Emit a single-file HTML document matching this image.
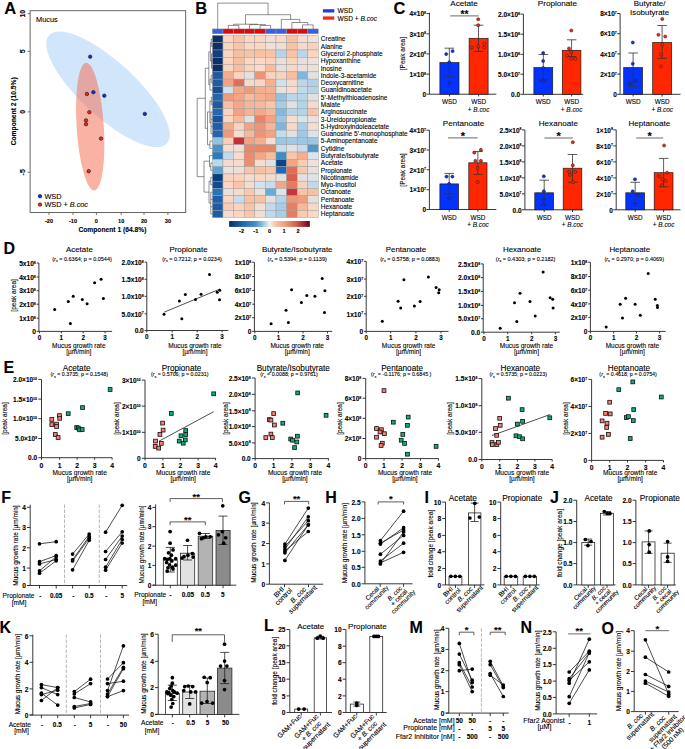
<!DOCTYPE html>
<html><head><meta charset="utf-8"><style>
html,body{margin:0;padding:0;background:#fff;}
svg{display:block;font-family:"Liberation Sans",sans-serif;}
text{stroke:#000;stroke-width:0.1px;}
</style></head><body>
<svg width="685" height="749" viewBox="0 0 685 749">
<defs>
<linearGradient id="rdbu" x1="0" x2="1" y1="0" y2="0">
<stop offset="0" stop-color="#053061"/><stop offset="0.17" stop-color="#2166ac"/><stop offset="0.33" stop-color="#4393c3"/>
<stop offset="0.42" stop-color="#92c5de"/><stop offset="0.5" stop-color="#f2f2f2"/><stop offset="0.58" stop-color="#f4c1a6"/>
<stop offset="0.67" stop-color="#f4a582"/><stop offset="0.83" stop-color="#d6604d"/><stop offset="1" stop-color="#67001f"/>
</linearGradient>
<clipPath id="clipB"><rect x="300" y="30" width="92" height="200"/></clipPath>
</defs>
<rect width="685" height="749" fill="#fff"/>
<text x="4.2" y="14.2" font-size="16.5" font-weight="bold">A</text>
<ellipse cx="108" cy="89.3" rx="80" ry="27.5" fill="#d2e6fb" transform="rotate(42.6 108 89.3)"/>
<ellipse cx="90.2" cy="126.7" rx="13.6" ry="64" fill="rgb(246,102,76)" fill-opacity="0.5" transform="rotate(-3.7 90.2 126.7)"/>
<rect x="30.1" y="10.7" width="155.6" height="201.8" fill="none" stroke="#555" stroke-width="0.9"/>
<line x1="27.6" y1="13.7" x2="30.1" y2="13.7" stroke="#555" stroke-width="0.8"/>
<text x="25.32" y="13.7" font-size="7" text-anchor="middle" font-weight="bold" transform="rotate(-90 25.32 13.7)">10</text>
<line x1="27.6" y1="51.4" x2="30.1" y2="51.4" stroke="#555" stroke-width="0.8"/>
<text x="25.32" y="51.4" font-size="7" text-anchor="middle" font-weight="bold" transform="rotate(-90 25.32 51.4)">5</text>
<line x1="27.6" y1="111.8" x2="30.1" y2="111.8" stroke="#555" stroke-width="0.8"/>
<text x="25.32" y="111.8" font-size="7" text-anchor="middle" font-weight="bold" transform="rotate(-90 25.32 111.8)">0</text>
<line x1="27.6" y1="172.3" x2="30.1" y2="172.3" stroke="#555" stroke-width="0.8"/>
<text x="25.32" y="172.3" font-size="7" text-anchor="middle" font-weight="bold" transform="rotate(-90 25.32 172.3)">-5</text>
<line x1="49" y1="212.5" x2="49" y2="215" stroke="#555" stroke-width="0.8"/>
<text x="49" y="223" font-size="5.6" text-anchor="middle" font-weight="bold">-20</text>
<line x1="73" y1="212.5" x2="73" y2="215" stroke="#555" stroke-width="0.8"/>
<text x="73" y="223" font-size="5.6" text-anchor="middle" font-weight="bold">-10</text>
<line x1="96.4" y1="212.5" x2="96.4" y2="215" stroke="#555" stroke-width="0.8"/>
<text x="96.4" y="223" font-size="5.6" text-anchor="middle" font-weight="bold">0</text>
<line x1="121.2" y1="212.5" x2="121.2" y2="215" stroke="#555" stroke-width="0.8"/>
<text x="121.2" y="223" font-size="5.6" text-anchor="middle" font-weight="bold">10</text>
<line x1="144" y1="212.5" x2="144" y2="215" stroke="#555" stroke-width="0.8"/>
<text x="144" y="223" font-size="5.6" text-anchor="middle" font-weight="bold">20</text>
<line x1="167.9" y1="212.5" x2="167.9" y2="215" stroke="#555" stroke-width="0.8"/>
<text x="167.9" y="223" font-size="5.6" text-anchor="middle" font-weight="bold">30</text>
<text x="112.4" y="232" font-size="6.7" text-anchor="middle" font-weight="bold">Component 1 (64.8%)</text>
<text x="16.21" y="111.3" font-size="6.7" text-anchor="middle" font-weight="bold" transform="rotate(-90 16.21 111.3)">Component 2 (10.5%)</text>
<text x="36" y="21.7" font-size="7.4">Mucus</text>
<circle cx="90.2" cy="56.7" r="1.75" fill="#1030e6" stroke="#111" stroke-width="0.6"/>
<circle cx="93.4" cy="92.2" r="1.75" fill="#1030e6" stroke="#111" stroke-width="0.6"/>
<circle cx="104.3" cy="95.7" r="1.75" fill="#1030e6" stroke="#111" stroke-width="0.6"/>
<circle cx="144.8" cy="113.9" r="1.75" fill="#1030e6" stroke="#111" stroke-width="0.6"/>
<circle cx="86.9" cy="94" r="1.75" fill="#ee2a16" stroke="#111" stroke-width="0.6"/>
<circle cx="89.3" cy="112.2" r="1.75" fill="#ee2a16" stroke="#111" stroke-width="0.6"/>
<circle cx="86" cy="120.4" r="1.75" fill="#ee2a16" stroke="#111" stroke-width="0.6"/>
<circle cx="86" cy="124.2" r="1.75" fill="#ee2a16" stroke="#111" stroke-width="0.6"/>
<circle cx="101" cy="138.6" r="1.75" fill="#ee2a16" stroke="#111" stroke-width="0.6"/>
<circle cx="88.7" cy="171.2" r="1.75" fill="#ee2a16" stroke="#111" stroke-width="0.6"/>
<circle cx="40" cy="196.2" r="1.75" fill="#1030e6" stroke="#111" stroke-width="0.6"/>
<circle cx="40" cy="204.6" r="1.75" fill="#ee2a16" stroke="#111" stroke-width="0.6"/>
<text x="44.4" y="198.8" font-size="7.3">WSD</text>
<text x="44.4" y="207.2" font-size="7.3">WSD + <tspan font-style="italic">B.coc</tspan></text>
<text x="195.3" y="14.2" font-size="16.5" font-weight="bold">B</text>
<rect x="212.4" y="28.9" width="10.6" height="4.9" fill="#3b5ee0" stroke="#9a9a9a" stroke-width="0.4"/>
<rect x="223" y="28.9" width="10.6" height="4.9" fill="#d90b0e" stroke="#9a9a9a" stroke-width="0.4"/>
<rect x="233.6" y="28.9" width="10.6" height="4.9" fill="#d90b0e" stroke="#9a9a9a" stroke-width="0.4"/>
<rect x="244.2" y="28.9" width="10.6" height="4.9" fill="#d90b0e" stroke="#9a9a9a" stroke-width="0.4"/>
<rect x="254.8" y="28.9" width="10.6" height="4.9" fill="#d90b0e" stroke="#9a9a9a" stroke-width="0.4"/>
<rect x="265.4" y="28.9" width="10.6" height="4.9" fill="#3b5ee0" stroke="#9a9a9a" stroke-width="0.4"/>
<rect x="276" y="28.9" width="10.6" height="4.9" fill="#3b5ee0" stroke="#9a9a9a" stroke-width="0.4"/>
<rect x="286.6" y="28.9" width="10.6" height="4.9" fill="#d90b0e" stroke="#9a9a9a" stroke-width="0.4"/>
<rect x="297.2" y="28.9" width="10.6" height="4.9" fill="#d90b0e" stroke="#9a9a9a" stroke-width="0.4"/>
<rect x="307.8" y="28.9" width="10.6" height="4.9" fill="#3b5ee0" stroke="#9a9a9a" stroke-width="0.4"/>
<rect x="212.4" y="35.4" width="10.6" height="7.29" fill="#0b2f66" stroke="#9c9c9c" stroke-width="0.45"/>
<rect x="223" y="35.4" width="10.6" height="7.29" fill="#fbd5c0" stroke="#9c9c9c" stroke-width="0.45"/>
<rect x="233.6" y="35.4" width="10.6" height="7.29" fill="#f9c4a8" stroke="#9c9c9c" stroke-width="0.45"/>
<rect x="244.2" y="35.4" width="10.6" height="7.29" fill="#fcd8c4" stroke="#9c9c9c" stroke-width="0.45"/>
<rect x="254.8" y="35.4" width="10.6" height="7.29" fill="#fbd6c1" stroke="#9c9c9c" stroke-width="0.45"/>
<rect x="265.4" y="35.4" width="10.6" height="7.29" fill="#f2ddd4" stroke="#9c9c9c" stroke-width="0.45"/>
<rect x="276" y="35.4" width="10.6" height="7.29" fill="#f8dacb" stroke="#9c9c9c" stroke-width="0.45"/>
<rect x="286.6" y="35.4" width="10.6" height="7.29" fill="#f8c3a5" stroke="#9c9c9c" stroke-width="0.45"/>
<rect x="297.2" y="35.4" width="10.6" height="7.29" fill="#f5ddd0" stroke="#9c9c9c" stroke-width="0.45"/>
<rect x="307.8" y="35.4" width="10.6" height="7.29" fill="#f3e0d6" stroke="#9c9c9c" stroke-width="0.45"/>
<rect x="212.4" y="42.69" width="10.6" height="7.29" fill="#0b2f66" stroke="#9c9c9c" stroke-width="0.45"/>
<rect x="223" y="42.69" width="10.6" height="7.29" fill="#fbd5c0" stroke="#9c9c9c" stroke-width="0.45"/>
<rect x="233.6" y="42.69" width="10.6" height="7.29" fill="#f9c4a8" stroke="#9c9c9c" stroke-width="0.45"/>
<rect x="244.2" y="42.69" width="10.6" height="7.29" fill="#fcd8c4" stroke="#9c9c9c" stroke-width="0.45"/>
<rect x="254.8" y="42.69" width="10.6" height="7.29" fill="#fbd6c1" stroke="#9c9c9c" stroke-width="0.45"/>
<rect x="265.4" y="42.69" width="10.6" height="7.29" fill="#efe0d8" stroke="#9c9c9c" stroke-width="0.45"/>
<rect x="276" y="42.69" width="10.6" height="7.29" fill="#f0ddd4" stroke="#9c9c9c" stroke-width="0.45"/>
<rect x="286.6" y="42.69" width="10.6" height="7.29" fill="#f8c3a5" stroke="#9c9c9c" stroke-width="0.45"/>
<rect x="297.2" y="42.69" width="10.6" height="7.29" fill="#f3dbd0" stroke="#9c9c9c" stroke-width="0.45"/>
<rect x="307.8" y="42.69" width="10.6" height="7.29" fill="#f9d2bd" stroke="#9c9c9c" stroke-width="0.45"/>
<rect x="212.4" y="49.98" width="10.6" height="7.29" fill="#113f80" stroke="#9c9c9c" stroke-width="0.45"/>
<rect x="223" y="49.98" width="10.6" height="7.29" fill="#fbd5c0" stroke="#9c9c9c" stroke-width="0.45"/>
<rect x="233.6" y="49.98" width="10.6" height="7.29" fill="#f8bea0" stroke="#9c9c9c" stroke-width="0.45"/>
<rect x="244.2" y="49.98" width="10.6" height="7.29" fill="#f8c3a5" stroke="#9c9c9c" stroke-width="0.45"/>
<rect x="254.8" y="49.98" width="10.6" height="7.29" fill="#f8c3a5" stroke="#9c9c9c" stroke-width="0.45"/>
<rect x="265.4" y="49.98" width="10.6" height="7.29" fill="#f8c3a5" stroke="#9c9c9c" stroke-width="0.45"/>
<rect x="276" y="49.98" width="10.6" height="7.29" fill="#b5d4e8" stroke="#9c9c9c" stroke-width="0.45"/>
<rect x="286.6" y="49.98" width="10.6" height="7.29" fill="#f8c3a5" stroke="#9c9c9c" stroke-width="0.45"/>
<rect x="297.2" y="49.98" width="10.6" height="7.29" fill="#b9d6ea" stroke="#9c9c9c" stroke-width="0.45"/>
<rect x="307.8" y="49.98" width="10.6" height="7.29" fill="#fad5c0" stroke="#9c9c9c" stroke-width="0.45"/>
<rect x="212.4" y="57.27" width="10.6" height="7.29" fill="#0b2f66" stroke="#9c9c9c" stroke-width="0.45"/>
<rect x="223" y="57.27" width="10.6" height="7.29" fill="#fbd5c0" stroke="#9c9c9c" stroke-width="0.45"/>
<rect x="233.6" y="57.27" width="10.6" height="7.29" fill="#f8bea0" stroke="#9c9c9c" stroke-width="0.45"/>
<rect x="244.2" y="57.27" width="10.6" height="7.29" fill="#fcd8c4" stroke="#9c9c9c" stroke-width="0.45"/>
<rect x="254.8" y="57.27" width="10.6" height="7.29" fill="#fcd8c4" stroke="#9c9c9c" stroke-width="0.45"/>
<rect x="265.4" y="57.27" width="10.6" height="7.29" fill="#fad2bd" stroke="#9c9c9c" stroke-width="0.45"/>
<rect x="276" y="57.27" width="10.6" height="7.29" fill="#e6e1df" stroke="#9c9c9c" stroke-width="0.45"/>
<rect x="286.6" y="57.27" width="10.6" height="7.29" fill="#fad5c0" stroke="#9c9c9c" stroke-width="0.45"/>
<rect x="297.2" y="57.27" width="10.6" height="7.29" fill="#e5e0de" stroke="#9c9c9c" stroke-width="0.45"/>
<rect x="307.8" y="57.27" width="10.6" height="7.29" fill="#efe1da" stroke="#9c9c9c" stroke-width="0.45"/>
<rect x="212.4" y="64.56" width="10.6" height="7.29" fill="#0b2f66" stroke="#9c9c9c" stroke-width="0.45"/>
<rect x="223" y="64.56" width="10.6" height="7.29" fill="#fbd5c0" stroke="#9c9c9c" stroke-width="0.45"/>
<rect x="233.6" y="64.56" width="10.6" height="7.29" fill="#f8bea0" stroke="#9c9c9c" stroke-width="0.45"/>
<rect x="244.2" y="64.56" width="10.6" height="7.29" fill="#fbd3bd" stroke="#9c9c9c" stroke-width="0.45"/>
<rect x="254.8" y="64.56" width="10.6" height="7.29" fill="#fcdcc9" stroke="#9c9c9c" stroke-width="0.45"/>
<rect x="265.4" y="64.56" width="10.6" height="7.29" fill="#f8bb9c" stroke="#9c9c9c" stroke-width="0.45"/>
<rect x="276" y="64.56" width="10.6" height="7.29" fill="#e4e0df" stroke="#9c9c9c" stroke-width="0.45"/>
<rect x="286.6" y="64.56" width="10.6" height="7.29" fill="#f8d8c8" stroke="#9c9c9c" stroke-width="0.45"/>
<rect x="297.2" y="64.56" width="10.6" height="7.29" fill="#e6e1df" stroke="#9c9c9c" stroke-width="0.45"/>
<rect x="307.8" y="64.56" width="10.6" height="7.29" fill="#eee0d9" stroke="#9c9c9c" stroke-width="0.45"/>
<rect x="212.4" y="71.85" width="10.6" height="7.29" fill="#1d5aa0" stroke="#9c9c9c" stroke-width="0.45"/>
<rect x="223" y="71.85" width="10.6" height="7.29" fill="#f5ae8c" stroke="#9c9c9c" stroke-width="0.45"/>
<rect x="233.6" y="71.85" width="10.6" height="7.29" fill="#fbd3bd" stroke="#9c9c9c" stroke-width="0.45"/>
<rect x="244.2" y="71.85" width="10.6" height="7.29" fill="#e3e1e0" stroke="#9c9c9c" stroke-width="0.45"/>
<rect x="254.8" y="71.85" width="10.6" height="7.29" fill="#ee9474" stroke="#9c9c9c" stroke-width="0.45"/>
<rect x="265.4" y="71.85" width="10.6" height="7.29" fill="#fbd3bd" stroke="#9c9c9c" stroke-width="0.45"/>
<rect x="276" y="71.85" width="10.6" height="7.29" fill="#fad3be" stroke="#9c9c9c" stroke-width="0.45"/>
<rect x="286.6" y="71.85" width="10.6" height="7.29" fill="#f7bea1" stroke="#9c9c9c" stroke-width="0.45"/>
<rect x="297.2" y="71.85" width="10.6" height="7.29" fill="#7fb6dc" stroke="#9c9c9c" stroke-width="0.45"/>
<rect x="307.8" y="71.85" width="10.6" height="7.29" fill="#e4e1df" stroke="#9c9c9c" stroke-width="0.45"/>
<rect x="212.4" y="79.14" width="10.6" height="7.29" fill="#1f5ea5" stroke="#9c9c9c" stroke-width="0.45"/>
<rect x="223" y="79.14" width="10.6" height="7.29" fill="#f3a283" stroke="#9c9c9c" stroke-width="0.45"/>
<rect x="233.6" y="79.14" width="10.6" height="7.29" fill="#df6e58" stroke="#9c9c9c" stroke-width="0.45"/>
<rect x="244.2" y="79.14" width="10.6" height="7.29" fill="#f7d9c9" stroke="#9c9c9c" stroke-width="0.45"/>
<rect x="254.8" y="79.14" width="10.6" height="7.29" fill="#fad7c5" stroke="#9c9c9c" stroke-width="0.45"/>
<rect x="265.4" y="79.14" width="10.6" height="7.29" fill="#f5b090" stroke="#9c9c9c" stroke-width="0.45"/>
<rect x="276" y="79.14" width="10.6" height="7.29" fill="#cde2ef" stroke="#9c9c9c" stroke-width="0.45"/>
<rect x="286.6" y="79.14" width="10.6" height="7.29" fill="#f5dacc" stroke="#9c9c9c" stroke-width="0.45"/>
<rect x="297.2" y="79.14" width="10.6" height="7.29" fill="#bcd8ea" stroke="#9c9c9c" stroke-width="0.45"/>
<rect x="307.8" y="79.14" width="10.6" height="7.29" fill="#b0d2e8" stroke="#9c9c9c" stroke-width="0.45"/>
<rect x="212.4" y="86.43" width="10.6" height="7.29" fill="#1a4f95" stroke="#9c9c9c" stroke-width="0.45"/>
<rect x="223" y="86.43" width="10.6" height="7.29" fill="#cfe3ee" stroke="#9c9c9c" stroke-width="0.45"/>
<rect x="233.6" y="86.43" width="10.6" height="7.29" fill="#f4a888" stroke="#9c9c9c" stroke-width="0.45"/>
<rect x="244.2" y="86.43" width="10.6" height="7.29" fill="#f09a7a" stroke="#9c9c9c" stroke-width="0.45"/>
<rect x="254.8" y="86.43" width="10.6" height="7.29" fill="#f5ae8e" stroke="#9c9c9c" stroke-width="0.45"/>
<rect x="265.4" y="86.43" width="10.6" height="7.29" fill="#f5b192" stroke="#9c9c9c" stroke-width="0.45"/>
<rect x="276" y="86.43" width="10.6" height="7.29" fill="#ebe0db" stroke="#9c9c9c" stroke-width="0.45"/>
<rect x="286.6" y="86.43" width="10.6" height="7.29" fill="#fadace" stroke="#9c9c9c" stroke-width="0.45"/>
<rect x="297.2" y="86.43" width="10.6" height="7.29" fill="#c2dbeb" stroke="#9c9c9c" stroke-width="0.45"/>
<rect x="307.8" y="86.43" width="10.6" height="7.29" fill="#b5d4e8" stroke="#9c9c9c" stroke-width="0.45"/>
<rect x="212.4" y="93.72" width="10.6" height="7.29" fill="#2266ad" stroke="#9c9c9c" stroke-width="0.45"/>
<rect x="223" y="93.72" width="10.6" height="7.29" fill="#f09a7c" stroke="#9c9c9c" stroke-width="0.45"/>
<rect x="233.6" y="93.72" width="10.6" height="7.29" fill="#f3a586" stroke="#9c9c9c" stroke-width="0.45"/>
<rect x="244.2" y="93.72" width="10.6" height="7.29" fill="#f7bc9f" stroke="#9c9c9c" stroke-width="0.45"/>
<rect x="254.8" y="93.72" width="10.6" height="7.29" fill="#f5b092" stroke="#9c9c9c" stroke-width="0.45"/>
<rect x="265.4" y="93.72" width="10.6" height="7.29" fill="#f4aa8a" stroke="#9c9c9c" stroke-width="0.45"/>
<rect x="276" y="93.72" width="10.6" height="7.29" fill="#92c2e0" stroke="#9c9c9c" stroke-width="0.45"/>
<rect x="286.6" y="93.72" width="10.6" height="7.29" fill="#b9d6ea" stroke="#9c9c9c" stroke-width="0.45"/>
<rect x="297.2" y="93.72" width="10.6" height="7.29" fill="#b8d5e9" stroke="#9c9c9c" stroke-width="0.45"/>
<rect x="307.8" y="93.72" width="10.6" height="7.29" fill="#e3e1e0" stroke="#9c9c9c" stroke-width="0.45"/>
<rect x="212.4" y="101.01" width="10.6" height="7.29" fill="#1f5aa0" stroke="#9c9c9c" stroke-width="0.45"/>
<rect x="223" y="101.01" width="10.6" height="7.29" fill="#f7c0a3" stroke="#9c9c9c" stroke-width="0.45"/>
<rect x="233.6" y="101.01" width="10.6" height="7.29" fill="#f4a788" stroke="#9c9c9c" stroke-width="0.45"/>
<rect x="244.2" y="101.01" width="10.6" height="7.29" fill="#f7b699" stroke="#9c9c9c" stroke-width="0.45"/>
<rect x="254.8" y="101.01" width="10.6" height="7.29" fill="#f7b99c" stroke="#9c9c9c" stroke-width="0.45"/>
<rect x="265.4" y="101.01" width="10.6" height="7.29" fill="#f8c6ab" stroke="#9c9c9c" stroke-width="0.45"/>
<rect x="276" y="101.01" width="10.6" height="7.29" fill="#a6cde5" stroke="#9c9c9c" stroke-width="0.45"/>
<rect x="286.6" y="101.01" width="10.6" height="7.29" fill="#e2e1e1" stroke="#9c9c9c" stroke-width="0.45"/>
<rect x="297.2" y="101.01" width="10.6" height="7.29" fill="#b4d4e8" stroke="#9c9c9c" stroke-width="0.45"/>
<rect x="307.8" y="101.01" width="10.6" height="7.29" fill="#f7dccd" stroke="#9c9c9c" stroke-width="0.45"/>
<rect x="212.4" y="108.3" width="10.6" height="7.29" fill="#2468b0" stroke="#9c9c9c" stroke-width="0.45"/>
<rect x="223" y="108.3" width="10.6" height="7.29" fill="#fad3bf" stroke="#9c9c9c" stroke-width="0.45"/>
<rect x="233.6" y="108.3" width="10.6" height="7.29" fill="#f3a182" stroke="#9c9c9c" stroke-width="0.45"/>
<rect x="244.2" y="108.3" width="10.6" height="7.29" fill="#f6b394" stroke="#9c9c9c" stroke-width="0.45"/>
<rect x="254.8" y="108.3" width="10.6" height="7.29" fill="#f4a98a" stroke="#9c9c9c" stroke-width="0.45"/>
<rect x="265.4" y="108.3" width="10.6" height="7.29" fill="#f6b89b" stroke="#9c9c9c" stroke-width="0.45"/>
<rect x="276" y="108.3" width="10.6" height="7.29" fill="#83b9dd" stroke="#9c9c9c" stroke-width="0.45"/>
<rect x="286.6" y="108.3" width="10.6" height="7.29" fill="#b7d5e9" stroke="#9c9c9c" stroke-width="0.45"/>
<rect x="297.2" y="108.3" width="10.6" height="7.29" fill="#b2d3e8" stroke="#9c9c9c" stroke-width="0.45"/>
<rect x="307.8" y="108.3" width="10.6" height="7.29" fill="#f8c3a7" stroke="#9c9c9c" stroke-width="0.45"/>
<rect x="212.4" y="115.59" width="10.6" height="7.29" fill="#1a53a0" stroke="#9c9c9c" stroke-width="0.45"/>
<rect x="223" y="115.59" width="10.6" height="7.29" fill="#fbd6c2" stroke="#9c9c9c" stroke-width="0.45"/>
<rect x="233.6" y="115.59" width="10.6" height="7.29" fill="#f8b99b" stroke="#9c9c9c" stroke-width="0.45"/>
<rect x="244.2" y="115.59" width="10.6" height="7.29" fill="#e3e1e0" stroke="#9c9c9c" stroke-width="0.45"/>
<rect x="254.8" y="115.59" width="10.6" height="7.29" fill="#ea8466" stroke="#9c9c9c" stroke-width="0.45"/>
<rect x="265.4" y="115.59" width="10.6" height="7.29" fill="#f4a283" stroke="#9c9c9c" stroke-width="0.45"/>
<rect x="276" y="115.59" width="10.6" height="7.29" fill="#99c7e2" stroke="#9c9c9c" stroke-width="0.45"/>
<rect x="286.6" y="115.59" width="10.6" height="7.29" fill="#fbdccd" stroke="#9c9c9c" stroke-width="0.45"/>
<rect x="297.2" y="115.59" width="10.6" height="7.29" fill="#d7e5ef" stroke="#9c9c9c" stroke-width="0.45"/>
<rect x="307.8" y="115.59" width="10.6" height="7.29" fill="#ece2dd" stroke="#9c9c9c" stroke-width="0.45"/>
<rect x="212.4" y="122.88" width="10.6" height="7.29" fill="#1f5ea8" stroke="#9c9c9c" stroke-width="0.45"/>
<rect x="223" y="122.88" width="10.6" height="7.29" fill="#f5ac8c" stroke="#9c9c9c" stroke-width="0.45"/>
<rect x="233.6" y="122.88" width="10.6" height="7.29" fill="#fad4c0" stroke="#9c9c9c" stroke-width="0.45"/>
<rect x="244.2" y="122.88" width="10.6" height="7.29" fill="#f3a384" stroke="#9c9c9c" stroke-width="0.45"/>
<rect x="254.8" y="122.88" width="10.6" height="7.29" fill="#ef9576" stroke="#9c9c9c" stroke-width="0.45"/>
<rect x="265.4" y="122.88" width="10.6" height="7.29" fill="#f7b697" stroke="#9c9c9c" stroke-width="0.45"/>
<rect x="276" y="122.88" width="10.6" height="7.29" fill="#7db6dc" stroke="#9c9c9c" stroke-width="0.45"/>
<rect x="286.6" y="122.88" width="10.6" height="7.29" fill="#f7d9c9" stroke="#9c9c9c" stroke-width="0.45"/>
<rect x="297.2" y="122.88" width="10.6" height="7.29" fill="#a8cfe6" stroke="#9c9c9c" stroke-width="0.45"/>
<rect x="307.8" y="122.88" width="10.6" height="7.29" fill="#f7ddd0" stroke="#9c9c9c" stroke-width="0.45"/>
<rect x="212.4" y="130.17" width="10.6" height="7.29" fill="#2264ad" stroke="#9c9c9c" stroke-width="0.45"/>
<rect x="223" y="130.17" width="10.6" height="7.29" fill="#f09a7b" stroke="#9c9c9c" stroke-width="0.45"/>
<rect x="233.6" y="130.17" width="10.6" height="7.29" fill="#f6dccf" stroke="#9c9c9c" stroke-width="0.45"/>
<rect x="244.2" y="130.17" width="10.6" height="7.29" fill="#f7b99c" stroke="#9c9c9c" stroke-width="0.45"/>
<rect x="254.8" y="130.17" width="10.6" height="7.29" fill="#ee9474" stroke="#9c9c9c" stroke-width="0.45"/>
<rect x="265.4" y="130.17" width="10.6" height="7.29" fill="#f3a383" stroke="#9c9c9c" stroke-width="0.45"/>
<rect x="276" y="130.17" width="10.6" height="7.29" fill="#c3dcec" stroke="#9c9c9c" stroke-width="0.45"/>
<rect x="286.6" y="130.17" width="10.6" height="7.29" fill="#e0e1e2" stroke="#9c9c9c" stroke-width="0.45"/>
<rect x="297.2" y="130.17" width="10.6" height="7.29" fill="#9fc9e3" stroke="#9c9c9c" stroke-width="0.45"/>
<rect x="307.8" y="130.17" width="10.6" height="7.29" fill="#dbe4ea" stroke="#9c9c9c" stroke-width="0.45"/>
<rect x="212.4" y="137.46" width="10.6" height="7.29" fill="#92c3e0" stroke="#9c9c9c" stroke-width="0.45"/>
<rect x="223" y="137.46" width="10.6" height="7.29" fill="#f9ceb8" stroke="#9c9c9c" stroke-width="0.45"/>
<rect x="233.6" y="137.46" width="10.6" height="7.29" fill="#c43134" stroke="#9c9c9c" stroke-width="0.45"/>
<rect x="244.2" y="137.46" width="10.6" height="7.29" fill="#f3a282" stroke="#9c9c9c" stroke-width="0.45"/>
<rect x="254.8" y="137.46" width="10.6" height="7.29" fill="#f5ae8e" stroke="#9c9c9c" stroke-width="0.45"/>
<rect x="265.4" y="137.46" width="10.6" height="7.29" fill="#f4ddd2" stroke="#9c9c9c" stroke-width="0.45"/>
<rect x="276" y="137.46" width="10.6" height="7.29" fill="#9ac7e2" stroke="#9c9c9c" stroke-width="0.45"/>
<rect x="286.6" y="137.46" width="10.6" height="7.29" fill="#9fc9e3" stroke="#9c9c9c" stroke-width="0.45"/>
<rect x="297.2" y="137.46" width="10.6" height="7.29" fill="#9dc8e3" stroke="#9c9c9c" stroke-width="0.45"/>
<rect x="307.8" y="137.46" width="10.6" height="7.29" fill="#9cc7e2" stroke="#9c9c9c" stroke-width="0.45"/>
<rect x="212.4" y="144.75" width="10.6" height="7.29" fill="#4a93c6" stroke="#9c9c9c" stroke-width="0.45"/>
<rect x="223" y="144.75" width="10.6" height="7.29" fill="#f6ddd0" stroke="#9c9c9c" stroke-width="0.45"/>
<rect x="233.6" y="144.75" width="10.6" height="7.29" fill="#ede0d9" stroke="#9c9c9c" stroke-width="0.45"/>
<rect x="244.2" y="144.75" width="10.6" height="7.29" fill="#eb8869" stroke="#9c9c9c" stroke-width="0.45"/>
<rect x="254.8" y="144.75" width="10.6" height="7.29" fill="#e9866a" stroke="#9c9c9c" stroke-width="0.45"/>
<rect x="265.4" y="144.75" width="10.6" height="7.29" fill="#ea8467" stroke="#9c9c9c" stroke-width="0.45"/>
<rect x="276" y="144.75" width="10.6" height="7.29" fill="#c8deec" stroke="#9c9c9c" stroke-width="0.45"/>
<rect x="286.6" y="144.75" width="10.6" height="7.29" fill="#e0e1e2" stroke="#9c9c9c" stroke-width="0.45"/>
<rect x="297.2" y="144.75" width="10.6" height="7.29" fill="#c4dcec" stroke="#9c9c9c" stroke-width="0.45"/>
<rect x="307.8" y="144.75" width="10.6" height="7.29" fill="#4e98cb" stroke="#9c9c9c" stroke-width="0.45"/>
<rect x="212.4" y="152.04" width="10.6" height="7.29" fill="#3079bb" stroke="#9c9c9c" stroke-width="0.45"/>
<rect x="223" y="152.04" width="10.6" height="7.29" fill="#c2dbeb" stroke="#9c9c9c" stroke-width="0.45"/>
<rect x="233.6" y="152.04" width="10.6" height="7.29" fill="#f8dbcc" stroke="#9c9c9c" stroke-width="0.45"/>
<rect x="244.2" y="152.04" width="10.6" height="7.29" fill="#ec8a6c" stroke="#9c9c9c" stroke-width="0.45"/>
<rect x="254.8" y="152.04" width="10.6" height="7.29" fill="#f3a586" stroke="#9c9c9c" stroke-width="0.45"/>
<rect x="265.4" y="152.04" width="10.6" height="7.29" fill="#f7bd9f" stroke="#9c9c9c" stroke-width="0.45"/>
<rect x="276" y="152.04" width="10.6" height="7.29" fill="#3f8cc5" stroke="#9c9c9c" stroke-width="0.45"/>
<rect x="286.6" y="152.04" width="10.6" height="7.29" fill="#f9c4a7" stroke="#9c9c9c" stroke-width="0.45"/>
<rect x="297.2" y="152.04" width="10.6" height="7.29" fill="#f5ad8c" stroke="#9c9c9c" stroke-width="0.45"/>
<rect x="307.8" y="152.04" width="10.6" height="7.29" fill="#dae5ee" stroke="#9c9c9c" stroke-width="0.45"/>
<rect x="212.4" y="159.33" width="10.6" height="7.29" fill="#bad8eb" stroke="#9c9c9c" stroke-width="0.45"/>
<rect x="223" y="159.33" width="10.6" height="7.29" fill="#f6dacb" stroke="#9c9c9c" stroke-width="0.45"/>
<rect x="233.6" y="159.33" width="10.6" height="7.29" fill="#f4dbcf" stroke="#9c9c9c" stroke-width="0.45"/>
<rect x="244.2" y="159.33" width="10.6" height="7.29" fill="#ec8c6e" stroke="#9c9c9c" stroke-width="0.45"/>
<rect x="254.8" y="159.33" width="10.6" height="7.29" fill="#f7dccf" stroke="#9c9c9c" stroke-width="0.45"/>
<rect x="265.4" y="159.33" width="10.6" height="7.29" fill="#e2e1e1" stroke="#9c9c9c" stroke-width="0.45"/>
<rect x="276" y="159.33" width="10.6" height="7.29" fill="#0e438a" stroke="#9c9c9c" stroke-width="0.45"/>
<rect x="286.6" y="159.33" width="10.6" height="7.29" fill="#f4a383" stroke="#9c9c9c" stroke-width="0.45"/>
<rect x="297.2" y="159.33" width="10.6" height="7.29" fill="#f8cbb3" stroke="#9c9c9c" stroke-width="0.45"/>
<rect x="307.8" y="159.33" width="10.6" height="7.29" fill="#ede1da" stroke="#9c9c9c" stroke-width="0.45"/>
<rect x="212.4" y="166.62" width="10.6" height="7.29" fill="#5fa3d2" stroke="#9c9c9c" stroke-width="0.45"/>
<rect x="223" y="166.62" width="10.6" height="7.29" fill="#ebe0da" stroke="#9c9c9c" stroke-width="0.45"/>
<rect x="233.6" y="166.62" width="10.6" height="7.29" fill="#ede0d9" stroke="#9c9c9c" stroke-width="0.45"/>
<rect x="244.2" y="166.62" width="10.6" height="7.29" fill="#f8c4a9" stroke="#9c9c9c" stroke-width="0.45"/>
<rect x="254.8" y="166.62" width="10.6" height="7.29" fill="#f7c1a5" stroke="#9c9c9c" stroke-width="0.45"/>
<rect x="265.4" y="166.62" width="10.6" height="7.29" fill="#f8c6ab" stroke="#9c9c9c" stroke-width="0.45"/>
<rect x="276" y="166.62" width="10.6" height="7.29" fill="#2167b2" stroke="#9c9c9c" stroke-width="0.45"/>
<rect x="286.6" y="166.62" width="10.6" height="7.29" fill="#e06c56" stroke="#9c9c9c" stroke-width="0.45"/>
<rect x="297.2" y="166.62" width="10.6" height="7.29" fill="#f8c8ac" stroke="#9c9c9c" stroke-width="0.45"/>
<rect x="307.8" y="166.62" width="10.6" height="7.29" fill="#e6e1df" stroke="#9c9c9c" stroke-width="0.45"/>
<rect x="212.4" y="173.91" width="10.6" height="7.29" fill="#0b3d7d" stroke="#9c9c9c" stroke-width="0.45"/>
<rect x="223" y="173.91" width="10.6" height="7.29" fill="#fad2bd" stroke="#9c9c9c" stroke-width="0.45"/>
<rect x="233.6" y="173.91" width="10.6" height="7.29" fill="#fad3be" stroke="#9c9c9c" stroke-width="0.45"/>
<rect x="244.2" y="173.91" width="10.6" height="7.29" fill="#f4dccf" stroke="#9c9c9c" stroke-width="0.45"/>
<rect x="254.8" y="173.91" width="10.6" height="7.29" fill="#fad8c6" stroke="#9c9c9c" stroke-width="0.45"/>
<rect x="265.4" y="173.91" width="10.6" height="7.29" fill="#f2ddd3" stroke="#9c9c9c" stroke-width="0.45"/>
<rect x="276" y="173.91" width="10.6" height="7.29" fill="#e2e1e1" stroke="#9c9c9c" stroke-width="0.45"/>
<rect x="286.6" y="173.91" width="10.6" height="7.29" fill="#dc5d4b" stroke="#9c9c9c" stroke-width="0.45"/>
<rect x="297.2" y="173.91" width="10.6" height="7.29" fill="#e2e1e1" stroke="#9c9c9c" stroke-width="0.45"/>
<rect x="307.8" y="173.91" width="10.6" height="7.29" fill="#e0e2e3" stroke="#9c9c9c" stroke-width="0.45"/>
<rect x="212.4" y="181.2" width="10.6" height="7.29" fill="#124a91" stroke="#9c9c9c" stroke-width="0.45"/>
<rect x="223" y="181.2" width="10.6" height="7.29" fill="#fcd6c2" stroke="#9c9c9c" stroke-width="0.45"/>
<rect x="233.6" y="181.2" width="10.6" height="7.29" fill="#f9c4a7" stroke="#9c9c9c" stroke-width="0.45"/>
<rect x="244.2" y="181.2" width="10.6" height="7.29" fill="#f3ddd2" stroke="#9c9c9c" stroke-width="0.45"/>
<rect x="254.8" y="181.2" width="10.6" height="7.29" fill="#cfe2ee" stroke="#9c9c9c" stroke-width="0.45"/>
<rect x="265.4" y="181.2" width="10.6" height="7.29" fill="#c5ddec" stroke="#9c9c9c" stroke-width="0.45"/>
<rect x="276" y="181.2" width="10.6" height="7.29" fill="#f3a686" stroke="#9c9c9c" stroke-width="0.45"/>
<rect x="286.6" y="181.2" width="10.6" height="7.29" fill="#e57a60" stroke="#9c9c9c" stroke-width="0.45"/>
<rect x="297.2" y="181.2" width="10.6" height="7.29" fill="#f9d2be" stroke="#9c9c9c" stroke-width="0.45"/>
<rect x="307.8" y="181.2" width="10.6" height="7.29" fill="#c0daeb" stroke="#9c9c9c" stroke-width="0.45"/>
<rect x="212.4" y="188.49" width="10.6" height="7.29" fill="#2775b8" stroke="#9c9c9c" stroke-width="0.45"/>
<rect x="223" y="188.49" width="10.6" height="7.29" fill="#e8e0dc" stroke="#9c9c9c" stroke-width="0.45"/>
<rect x="233.6" y="188.49" width="10.6" height="7.29" fill="#f7dacc" stroke="#9c9c9c" stroke-width="0.45"/>
<rect x="244.2" y="188.49" width="10.6" height="7.29" fill="#f9c8ad" stroke="#9c9c9c" stroke-width="0.45"/>
<rect x="254.8" y="188.49" width="10.6" height="7.29" fill="#e8e1dd" stroke="#9c9c9c" stroke-width="0.45"/>
<rect x="265.4" y="188.49" width="10.6" height="7.29" fill="#6aabd6" stroke="#9c9c9c" stroke-width="0.45"/>
<rect x="276" y="188.49" width="10.6" height="7.29" fill="#dbe4ea" stroke="#9c9c9c" stroke-width="0.45"/>
<rect x="286.6" y="188.49" width="10.6" height="7.29" fill="#c5353a" stroke="#9c9c9c" stroke-width="0.45"/>
<rect x="297.2" y="188.49" width="10.6" height="7.29" fill="#f8c4a7" stroke="#9c9c9c" stroke-width="0.45"/>
<rect x="307.8" y="188.49" width="10.6" height="7.29" fill="#f8c1a4" stroke="#9c9c9c" stroke-width="0.45"/>
<rect x="212.4" y="195.78" width="10.6" height="7.29" fill="#1f5fa9" stroke="#9c9c9c" stroke-width="0.45"/>
<rect x="223" y="195.78" width="10.6" height="7.29" fill="#fbd5c0" stroke="#9c9c9c" stroke-width="0.45"/>
<rect x="233.6" y="195.78" width="10.6" height="7.29" fill="#c5ddec" stroke="#9c9c9c" stroke-width="0.45"/>
<rect x="244.2" y="195.78" width="10.6" height="7.29" fill="#f8c0a3" stroke="#9c9c9c" stroke-width="0.45"/>
<rect x="254.8" y="195.78" width="10.6" height="7.29" fill="#f7c2a6" stroke="#9c9c9c" stroke-width="0.45"/>
<rect x="265.4" y="195.78" width="10.6" height="7.29" fill="#e3e1e0" stroke="#9c9c9c" stroke-width="0.45"/>
<rect x="276" y="195.78" width="10.6" height="7.29" fill="#b6d5e9" stroke="#9c9c9c" stroke-width="0.45"/>
<rect x="286.6" y="195.78" width="10.6" height="7.29" fill="#ee9677" stroke="#9c9c9c" stroke-width="0.45"/>
<rect x="297.2" y="195.78" width="10.6" height="7.29" fill="#f19c7d" stroke="#9c9c9c" stroke-width="0.45"/>
<rect x="307.8" y="195.78" width="10.6" height="7.29" fill="#e3e1e0" stroke="#9c9c9c" stroke-width="0.45"/>
<rect x="212.4" y="203.07" width="10.6" height="7.29" fill="#1c5aa6" stroke="#9c9c9c" stroke-width="0.45"/>
<rect x="223" y="203.07" width="10.6" height="7.29" fill="#f9ccb4" stroke="#9c9c9c" stroke-width="0.45"/>
<rect x="233.6" y="203.07" width="10.6" height="7.29" fill="#fad2bd" stroke="#9c9c9c" stroke-width="0.45"/>
<rect x="244.2" y="203.07" width="10.6" height="7.29" fill="#f8c4a8" stroke="#9c9c9c" stroke-width="0.45"/>
<rect x="254.8" y="203.07" width="10.6" height="7.29" fill="#efe0d8" stroke="#9c9c9c" stroke-width="0.45"/>
<rect x="265.4" y="203.07" width="10.6" height="7.29" fill="#c2dbeb" stroke="#9c9c9c" stroke-width="0.45"/>
<rect x="276" y="203.07" width="10.6" height="7.29" fill="#a5cde5" stroke="#9c9c9c" stroke-width="0.45"/>
<rect x="286.6" y="203.07" width="10.6" height="7.29" fill="#e77f62" stroke="#9c9c9c" stroke-width="0.45"/>
<rect x="297.2" y="203.07" width="10.6" height="7.29" fill="#f6b89a" stroke="#9c9c9c" stroke-width="0.45"/>
<rect x="307.8" y="203.07" width="10.6" height="7.29" fill="#fad7c5" stroke="#9c9c9c" stroke-width="0.45"/>
<rect x="212.4" y="210.36" width="10.6" height="7.29" fill="#1e5ea8" stroke="#9c9c9c" stroke-width="0.45"/>
<rect x="223" y="210.36" width="10.6" height="7.29" fill="#f7dccf" stroke="#9c9c9c" stroke-width="0.45"/>
<rect x="233.6" y="210.36" width="10.6" height="7.29" fill="#fad5c1" stroke="#9c9c9c" stroke-width="0.45"/>
<rect x="244.2" y="210.36" width="10.6" height="7.29" fill="#f9c6ab" stroke="#9c9c9c" stroke-width="0.45"/>
<rect x="254.8" y="210.36" width="10.6" height="7.29" fill="#f0dfd6" stroke="#9c9c9c" stroke-width="0.45"/>
<rect x="265.4" y="210.36" width="10.6" height="7.29" fill="#c1daeb" stroke="#9c9c9c" stroke-width="0.45"/>
<rect x="276" y="210.36" width="10.6" height="7.29" fill="#a9cfe6" stroke="#9c9c9c" stroke-width="0.45"/>
<rect x="286.6" y="210.36" width="10.6" height="7.29" fill="#e57b60" stroke="#9c9c9c" stroke-width="0.45"/>
<rect x="297.2" y="210.36" width="10.6" height="7.29" fill="#f9ccb3" stroke="#9c9c9c" stroke-width="0.45"/>
<rect x="307.8" y="210.36" width="10.6" height="7.29" fill="#fad8c6" stroke="#9c9c9c" stroke-width="0.45"/>
<text x="320.8" y="41.34" font-size="6.5">Creatine</text>
<text x="320.8" y="48.63" font-size="6.5">Alanine</text>
<text x="320.8" y="55.92" font-size="6.5">Glycerol 2-phosphate</text>
<text x="320.8" y="63.21" font-size="6.5">Hypoxanthine</text>
<text x="320.8" y="70.5" font-size="6.5">Inosine</text>
<text x="320.8" y="77.79" font-size="6.5">Indole-3-acetamide</text>
<text x="320.8" y="85.08" font-size="6.5">Deoxycarnitine</text>
<text x="320.8" y="92.38" font-size="6.5">Guanidinoacetate</text>
<text x="320.8" y="99.66" font-size="6.5">5'-Methylthioadenosine</text>
<text x="320.8" y="106.95" font-size="6.5">Malate</text>
<text x="320.8" y="114.25" font-size="6.5">Arginosuccinate</text>
<text x="320.8" y="121.53" font-size="6.5">3-Ureidopropionate</text>
<text x="320.8" y="128.82" font-size="6.5">5-Hydroxyindoleacetate</text>
<text x="320.8" y="136.12" font-size="6.5">Guanosine 5'-monophosphate</text>
<text x="320.8" y="143.41" font-size="6.5">5-Aminopentanoate</text>
<text x="320.8" y="150.7" font-size="6.5">Cytidine</text>
<text x="320.8" y="157.99" font-size="6.5">Butyrate/Isobutyrate</text>
<text x="320.8" y="165.28" font-size="6.5">Acetate</text>
<text x="320.8" y="172.57" font-size="6.5">Propionate</text>
<text x="320.8" y="179.86" font-size="6.5">Nicotinamide</text>
<text x="320.8" y="187.15" font-size="6.5">Myo-Inositol</text>
<text x="320.8" y="194.44" font-size="6.5">Octanoate</text>
<text x="320.8" y="201.73" font-size="6.5">Pentanoate</text>
<text x="320.8" y="209.02" font-size="6.5">Hexanoate</text>
<text x="320.8" y="216.31" font-size="6.5">Heptanoate</text>
<path d="M302.5 28.9 V24.9 H313.1 V28.9" stroke="#333" stroke-width="0.55" fill="none"/>
<path d="M291.9 28.9 V22.5 H307.8 V24.9" stroke="#333" stroke-width="0.55" fill="none"/>
<path d="M281.3 28.9 V19.4 H299.85 V22.5" stroke="#333" stroke-width="0.55" fill="none"/>
<path d="M228.3 28.9 V25.4 H238.9 V28.9" stroke="#333" stroke-width="0.55" fill="none"/>
<path d="M260.1 28.9 V25.4 H270.7 V28.9" stroke="#333" stroke-width="0.55" fill="none"/>
<path d="M249.5 28.9 V24.6 H265.4 V25.4" stroke="#333" stroke-width="0.55" fill="none"/>
<path d="M233.6 25.4 V24.2 H257.45 V24.6" stroke="#333" stroke-width="0.55" fill="none"/>
<path d="M245.53 24.2 V14.7 H290.58 V19.4" stroke="#333" stroke-width="0.55" fill="none"/>
<path d="M217.7 28.9 V3.1 H268.05 V14.7" stroke="#333" stroke-width="0.55" fill="none"/>
<path d="M211.3 39.05 V46.34" stroke="#333" stroke-width="0.55" fill="none"/>
<path d="M211.3 39.05 H212.4" stroke="#333" stroke-width="0.55" fill="none"/>
<path d="M211.3 46.34 H212.4" stroke="#333" stroke-width="0.55" fill="none"/>
<path d="M211.5 53.62 V68.2" stroke="#333" stroke-width="0.55" fill="none"/>
<path d="M211.5 53.62 H212.4" stroke="#333" stroke-width="0.55" fill="none"/>
<path d="M211.5 60.91 H212.4" stroke="#333" stroke-width="0.55" fill="none"/>
<path d="M211.5 68.2 H212.4" stroke="#333" stroke-width="0.55" fill="none"/>
<path d="M210.4 42.69 V60.91" stroke="#333" stroke-width="0.55" fill="none"/>
<path d="M210.4 42.69 H211.3" stroke="#333" stroke-width="0.55" fill="none"/>
<path d="M210.4 60.91 H211.5" stroke="#333" stroke-width="0.55" fill="none"/>
<path d="M211.2 75.5 V82.78" stroke="#333" stroke-width="0.55" fill="none"/>
<path d="M211.2 75.5 H212.4" stroke="#333" stroke-width="0.55" fill="none"/>
<path d="M211.2 82.78 H212.4" stroke="#333" stroke-width="0.55" fill="none"/>
<path d="M209.9 79.14 V90.07" stroke="#333" stroke-width="0.55" fill="none"/>
<path d="M209.9 79.14 H211.2" stroke="#333" stroke-width="0.55" fill="none"/>
<path d="M209.9 90.07 H212.4" stroke="#333" stroke-width="0.55" fill="none"/>
<path d="M208.8 51.8 V84.61" stroke="#333" stroke-width="0.55" fill="none"/>
<path d="M208.8 51.8 H210.4" stroke="#333" stroke-width="0.55" fill="none"/>
<path d="M208.8 84.61 H209.9" stroke="#333" stroke-width="0.55" fill="none"/>
<path d="M211.3 97.37 V104.66" stroke="#333" stroke-width="0.55" fill="none"/>
<path d="M211.3 97.37 H212.4" stroke="#333" stroke-width="0.55" fill="none"/>
<path d="M211.3 104.66 H212.4" stroke="#333" stroke-width="0.55" fill="none"/>
<path d="M211 111.94 V133.81" stroke="#333" stroke-width="0.55" fill="none"/>
<path d="M211 111.94 H212.4" stroke="#333" stroke-width="0.55" fill="none"/>
<path d="M211 119.23 H212.4" stroke="#333" stroke-width="0.55" fill="none"/>
<path d="M211 126.53 H212.4" stroke="#333" stroke-width="0.55" fill="none"/>
<path d="M211 133.81 H212.4" stroke="#333" stroke-width="0.55" fill="none"/>
<path d="M209.9 101.01 V122.88" stroke="#333" stroke-width="0.55" fill="none"/>
<path d="M209.9 101.01 H211.3" stroke="#333" stroke-width="0.55" fill="none"/>
<path d="M209.9 122.88 H211" stroke="#333" stroke-width="0.55" fill="none"/>
<path d="M209.9 141.1 V148.4" stroke="#333" stroke-width="0.55" fill="none"/>
<path d="M209.9 141.1 H212.4" stroke="#333" stroke-width="0.55" fill="none"/>
<path d="M209.9 148.4 H212.4" stroke="#333" stroke-width="0.55" fill="none"/>
<path d="M207.5 111.94 V144.75" stroke="#333" stroke-width="0.55" fill="none"/>
<path d="M207.5 111.94 H209.9" stroke="#333" stroke-width="0.55" fill="none"/>
<path d="M207.5 144.75 H209.9" stroke="#333" stroke-width="0.55" fill="none"/>
<path d="M205.3 68.2 V128.35" stroke="#333" stroke-width="0.55" fill="none"/>
<path d="M205.3 68.2 H208.8" stroke="#333" stroke-width="0.55" fill="none"/>
<path d="M205.3 128.35 H207.5" stroke="#333" stroke-width="0.55" fill="none"/>
<path d="M210.8 162.97 V170.27" stroke="#333" stroke-width="0.55" fill="none"/>
<path d="M210.8 162.97 H212.4" stroke="#333" stroke-width="0.55" fill="none"/>
<path d="M210.8 170.27 H212.4" stroke="#333" stroke-width="0.55" fill="none"/>
<path d="M209.5 155.69 V166.62" stroke="#333" stroke-width="0.55" fill="none"/>
<path d="M209.5 155.69 H212.4" stroke="#333" stroke-width="0.55" fill="none"/>
<path d="M209.5 166.62 H210.8" stroke="#333" stroke-width="0.55" fill="none"/>
<path d="M210.8 177.56 V184.84" stroke="#333" stroke-width="0.55" fill="none"/>
<path d="M210.8 177.56 H212.4" stroke="#333" stroke-width="0.55" fill="none"/>
<path d="M210.8 184.84 H212.4" stroke="#333" stroke-width="0.55" fill="none"/>
<path d="M210.8 192.14 V214" stroke="#333" stroke-width="0.55" fill="none"/>
<path d="M210.8 192.14 H212.4" stroke="#333" stroke-width="0.55" fill="none"/>
<path d="M210.8 199.43 H212.4" stroke="#333" stroke-width="0.55" fill="none"/>
<path d="M210.8 206.72 H212.4" stroke="#333" stroke-width="0.55" fill="none"/>
<path d="M210.8 214 H212.4" stroke="#333" stroke-width="0.55" fill="none"/>
<path d="M209 181.2 V203.07" stroke="#333" stroke-width="0.55" fill="none"/>
<path d="M209 181.2 H210.8" stroke="#333" stroke-width="0.55" fill="none"/>
<path d="M209 203.07 H210.8" stroke="#333" stroke-width="0.55" fill="none"/>
<path d="M204 161.15 V192.13" stroke="#333" stroke-width="0.55" fill="none"/>
<path d="M204 161.15 H209.5" stroke="#333" stroke-width="0.55" fill="none"/>
<path d="M204 192.13 H209" stroke="#333" stroke-width="0.55" fill="none"/>
<path d="M197.2 98.28 V176.64" stroke="#333" stroke-width="0.55" fill="none"/>
<path d="M197.2 98.28 H205.3" stroke="#333" stroke-width="0.55" fill="none"/>
<path d="M197.2 176.64 H204" stroke="#333" stroke-width="0.55" fill="none"/>
<rect x="322.9" y="9.2" width="11.4" height="3.3" fill="#1f3fe6" stroke="none" stroke-width="0.8"/>
<rect x="322.9" y="16.4" width="11.4" height="3.3" fill="#ee2c1a" stroke="none" stroke-width="0.8"/>
<text x="337.6" y="13.4" font-size="6.6">WSD</text>
<text x="337.6" y="20.8" font-size="6.6">WSD + <tspan font-style="italic">B.coc</tspan></text>
<rect x="229.1" y="221" width="80.7" height="5.9" fill="url(#rdbu)"/>
<text x="241.6" y="232.6" font-size="5.6" text-anchor="middle" font-weight="bold">-2</text>
<text x="255.8" y="232.6" font-size="5.6" text-anchor="middle" font-weight="bold">-1</text>
<text x="269.6" y="232.6" font-size="5.6" text-anchor="middle" font-weight="bold">0</text>
<text x="284" y="232.6" font-size="5.6" text-anchor="middle" font-weight="bold">1</text>
<text x="298.1" y="232.6" font-size="5.6" text-anchor="middle" font-weight="bold">2</text>
<text x="393.5" y="14.2" font-size="16.5" font-weight="bold">C</text>
<line x1="429.4" y1="12.7" x2="429.4" y2="94.2" stroke="#222" stroke-width="0.9"/>
<line x1="426.5" y1="13.6" x2="429.4" y2="13.6" stroke="#222" stroke-width="0.9"/>
<text x="426.1" y="16.34" font-size="6.5" text-anchor="end" font-weight="bold">4×10<tspan font-size="3.58" dy="-2.15">8</tspan></text>
<line x1="426.5" y1="33.9" x2="429.4" y2="33.9" stroke="#222" stroke-width="0.9"/>
<text x="426.1" y="36.64" font-size="6.5" text-anchor="end" font-weight="bold">3×10<tspan font-size="3.58" dy="-2.15">8</tspan></text>
<line x1="426.5" y1="53.9" x2="429.4" y2="53.9" stroke="#222" stroke-width="0.9"/>
<text x="426.1" y="56.64" font-size="6.5" text-anchor="end" font-weight="bold">2×10<tspan font-size="3.58" dy="-2.15">8</tspan></text>
<line x1="426.5" y1="74.1" x2="429.4" y2="74.1" stroke="#222" stroke-width="0.9"/>
<text x="426.1" y="76.84" font-size="6.5" text-anchor="end" font-weight="bold">1×10<tspan font-size="3.58" dy="-2.15">8</tspan></text>
<line x1="426.5" y1="94.2" x2="429.4" y2="94.2" stroke="#222" stroke-width="0.9"/>
<text x="426.1" y="96.94" font-size="6.5" text-anchor="end" font-weight="bold">0</text>
<line x1="429.4" y1="94.2" x2="496.3" y2="94.2" stroke="#222" stroke-width="0.9"/>
<line x1="449.45" y1="94.2" x2="449.45" y2="96.4" stroke="#222" stroke-width="0.9"/>
<line x1="478.6" y1="94.2" x2="478.6" y2="96.4" stroke="#222" stroke-width="0.9"/>
<rect x="439.9" y="62.6" width="19.1" height="31.6" fill="#0433ff" stroke="#1a1a1a" stroke-width="0.7"/>
<rect x="469.1" y="38.3" width="19" height="55.9" fill="#ff2600" stroke="#1a1a1a" stroke-width="0.7"/>
<line x1="449.3" y1="48.2" x2="449.3" y2="76.6" stroke="#333" stroke-width="0.8"/>
<line x1="444.5" y1="48.2" x2="454.1" y2="48.2" stroke="#333" stroke-width="0.8"/>
<line x1="444.5" y1="76.6" x2="454.1" y2="76.6" stroke="#333" stroke-width="0.8"/>
<line x1="478.5" y1="25.2" x2="478.5" y2="51.5" stroke="#333" stroke-width="0.8"/>
<line x1="473.7" y1="25.2" x2="483.3" y2="25.2" stroke="#333" stroke-width="0.8"/>
<line x1="473.7" y1="51.5" x2="483.3" y2="51.5" stroke="#333" stroke-width="0.8"/>
<circle cx="446.2" cy="54.1" r="1.55" fill="#0433ff" stroke="#222" stroke-width="0.55"/>
<circle cx="452.6" cy="51.1" r="1.55" fill="#0433ff" stroke="#222" stroke-width="0.55"/>
<circle cx="449.3" cy="62.3" r="1.55" fill="#0433ff" stroke="#222" stroke-width="0.55"/>
<circle cx="449.3" cy="82.9" r="1.55" fill="#0433ff" stroke="#222" stroke-width="0.55"/>
<circle cx="478.2" cy="19.3" r="1.55" fill="#ff2600" stroke="#222" stroke-width="0.55"/>
<circle cx="478.2" cy="25.2" r="1.55" fill="#ff2600" stroke="#222" stroke-width="0.55"/>
<circle cx="471.8" cy="47.5" r="1.55" fill="#ff2600" stroke="#222" stroke-width="0.55"/>
<circle cx="478.2" cy="46.4" r="1.55" fill="#ff2600" stroke="#222" stroke-width="0.55"/>
<circle cx="484.3" cy="43.8" r="1.55" fill="#ff2600" stroke="#222" stroke-width="0.55"/>
<circle cx="484.3" cy="47.5" r="1.55" fill="#ff2600" stroke="#222" stroke-width="0.55"/>
<text x="449.45" y="104.2" font-size="6.4" text-anchor="middle">WSD</text>
<text x="478.6" y="104.2" font-size="6.4" text-anchor="middle">WSD</text>
<text x="478.6" y="111.7" font-size="6.4" text-anchor="middle">+ <tspan font-style="italic">B.coc</tspan></text>
<text x="464.02" y="6" font-size="8.1" text-anchor="middle">Acetate</text>
<text x="404.74" y="53.6" font-size="6.5" text-anchor="middle" transform="rotate(-90 404.74 53.6)">[Peak area]</text>
<line x1="450.2" y1="15.9" x2="478.7" y2="15.9" stroke="#444" stroke-width="0.8"/>
<text x="464.45" y="18.1" font-size="10" text-anchor="middle" font-weight="bold">**</text>
<line x1="523.4" y1="14.1" x2="523.4" y2="94.3" stroke="#222" stroke-width="0.9"/>
<line x1="520.5" y1="14.1" x2="523.4" y2="14.1" stroke="#222" stroke-width="0.9"/>
<text x="520.1" y="16.84" font-size="6.5" text-anchor="end" font-weight="bold">2.0×10<tspan font-size="3.58" dy="-2.15">8</tspan></text>
<line x1="520.5" y1="34.2" x2="523.4" y2="34.2" stroke="#222" stroke-width="0.9"/>
<text x="520.1" y="36.94" font-size="6.5" text-anchor="end" font-weight="bold">1.5×10<tspan font-size="3.58" dy="-2.15">8</tspan></text>
<line x1="520.5" y1="54.3" x2="523.4" y2="54.3" stroke="#222" stroke-width="0.9"/>
<text x="520.1" y="57.04" font-size="6.5" text-anchor="end" font-weight="bold">1.0×10<tspan font-size="3.58" dy="-2.15">8</tspan></text>
<line x1="520.5" y1="74.2" x2="523.4" y2="74.2" stroke="#222" stroke-width="0.9"/>
<text x="520.1" y="76.94" font-size="6.5" text-anchor="end" font-weight="bold">5.0×10<tspan font-size="3.58" dy="-2.15">7</tspan></text>
<line x1="520.5" y1="94.3" x2="523.4" y2="94.3" stroke="#222" stroke-width="0.9"/>
<text x="520.1" y="97.04" font-size="6.5" text-anchor="end" font-weight="bold">0.0</text>
<line x1="523.4" y1="94.3" x2="583.3" y2="94.3" stroke="#222" stroke-width="0.9"/>
<line x1="543.3" y1="94.3" x2="543.3" y2="96.5" stroke="#222" stroke-width="0.9"/>
<line x1="571.6" y1="94.3" x2="571.6" y2="96.5" stroke="#222" stroke-width="0.9"/>
<rect x="533.9" y="67.6" width="18.8" height="26.7" fill="#0433ff" stroke="#1a1a1a" stroke-width="0.7"/>
<rect x="562.3" y="50.3" width="18.6" height="44" fill="#ff2600" stroke="#1a1a1a" stroke-width="0.7"/>
<line x1="543.3" y1="54.5" x2="543.3" y2="80.2" stroke="#333" stroke-width="0.8"/>
<line x1="538.5" y1="54.5" x2="548.1" y2="54.5" stroke="#333" stroke-width="0.8"/>
<line x1="538.5" y1="80.2" x2="548.1" y2="80.2" stroke="#333" stroke-width="0.8"/>
<line x1="571.6" y1="39.8" x2="571.6" y2="56.5" stroke="#333" stroke-width="0.8"/>
<line x1="566.8" y1="39.8" x2="576.4" y2="39.8" stroke="#333" stroke-width="0.8"/>
<line x1="566.8" y1="56.5" x2="576.4" y2="56.5" stroke="#333" stroke-width="0.8"/>
<circle cx="543.2" cy="53" r="1.55" fill="#0433ff" stroke="#222" stroke-width="0.55"/>
<circle cx="543.2" cy="61" r="1.55" fill="#0433ff" stroke="#222" stroke-width="0.55"/>
<circle cx="543.2" cy="68" r="1.55" fill="#0433ff" stroke="#222" stroke-width="0.55"/>
<circle cx="541.4" cy="80.2" r="1.55" fill="#0433ff" stroke="#222" stroke-width="0.55"/>
<circle cx="543.8" cy="80.8" r="1.55" fill="#0433ff" stroke="#222" stroke-width="0.55"/>
<circle cx="571.3" cy="30.5" r="1.55" fill="#ff2600" stroke="#222" stroke-width="0.55"/>
<circle cx="569" cy="48.5" r="1.55" fill="#ff2600" stroke="#222" stroke-width="0.55"/>
<circle cx="567" cy="55.7" r="1.55" fill="#ff2600" stroke="#222" stroke-width="0.55"/>
<circle cx="571.3" cy="58.7" r="1.55" fill="#ff2600" stroke="#222" stroke-width="0.55"/>
<circle cx="575.2" cy="58.7" r="1.55" fill="#ff2600" stroke="#222" stroke-width="0.55"/>
<circle cx="571.3" cy="52" r="1.55" fill="#ff2600" stroke="#222" stroke-width="0.55"/>
<text x="543.3" y="104.3" font-size="6.4" text-anchor="middle">WSD</text>
<text x="571.6" y="104.3" font-size="6.4" text-anchor="middle">WSD</text>
<text x="571.6" y="111.8" font-size="6.4" text-anchor="middle">+ <tspan font-style="italic">B.coc</tspan></text>
<text x="557.45" y="6" font-size="8.1" text-anchor="middle">Propionate</text>
<line x1="620.1" y1="13.5" x2="620.1" y2="94.3" stroke="#222" stroke-width="0.9"/>
<line x1="617.2" y1="13.5" x2="620.1" y2="13.5" stroke="#222" stroke-width="0.9"/>
<text x="616.8" y="16.24" font-size="6.5" text-anchor="end" font-weight="bold">8×10<tspan font-size="3.58" dy="-2.15">7</tspan></text>
<line x1="617.2" y1="33.7" x2="620.1" y2="33.7" stroke="#222" stroke-width="0.9"/>
<text x="616.8" y="36.44" font-size="6.5" text-anchor="end" font-weight="bold">6×10<tspan font-size="3.58" dy="-2.15">7</tspan></text>
<line x1="617.2" y1="53.9" x2="620.1" y2="53.9" stroke="#222" stroke-width="0.9"/>
<text x="616.8" y="56.64" font-size="6.5" text-anchor="end" font-weight="bold">4×10<tspan font-size="3.58" dy="-2.15">7</tspan></text>
<line x1="617.2" y1="74.1" x2="620.1" y2="74.1" stroke="#222" stroke-width="0.9"/>
<text x="616.8" y="76.84" font-size="6.5" text-anchor="end" font-weight="bold">2×10<tspan font-size="3.58" dy="-2.15">7</tspan></text>
<line x1="617.2" y1="94.3" x2="620.1" y2="94.3" stroke="#222" stroke-width="0.9"/>
<text x="616.8" y="97.04" font-size="6.5" text-anchor="end" font-weight="bold">0</text>
<line x1="620.1" y1="94.3" x2="680.5" y2="94.3" stroke="#222" stroke-width="0.9"/>
<line x1="633.1" y1="94.3" x2="633.1" y2="96.5" stroke="#222" stroke-width="0.9"/>
<line x1="662.15" y1="94.3" x2="662.15" y2="96.5" stroke="#222" stroke-width="0.9"/>
<rect x="623.7" y="67.6" width="18.8" height="26.7" fill="#0433ff" stroke="#1a1a1a" stroke-width="0.7"/>
<rect x="652.7" y="42.5" width="18.9" height="51.8" fill="#ff2600" stroke="#1a1a1a" stroke-width="0.7"/>
<line x1="633.1" y1="53" x2="633.1" y2="86.5" stroke="#333" stroke-width="0.8"/>
<line x1="628.3" y1="53" x2="637.9" y2="53" stroke="#333" stroke-width="0.8"/>
<line x1="628.3" y1="86.5" x2="637.9" y2="86.5" stroke="#333" stroke-width="0.8"/>
<line x1="662.1" y1="25.5" x2="662.1" y2="58.3" stroke="#333" stroke-width="0.8"/>
<line x1="657.3" y1="25.5" x2="666.9" y2="25.5" stroke="#333" stroke-width="0.8"/>
<line x1="657.3" y1="58.3" x2="666.9" y2="58.3" stroke="#333" stroke-width="0.8"/>
<circle cx="632.8" cy="42.5" r="1.55" fill="#0433ff" stroke="#222" stroke-width="0.55"/>
<circle cx="632.8" cy="63.7" r="1.55" fill="#0433ff" stroke="#222" stroke-width="0.55"/>
<circle cx="630" cy="83.5" r="1.55" fill="#0433ff" stroke="#222" stroke-width="0.55"/>
<circle cx="635.5" cy="81" r="1.55" fill="#0433ff" stroke="#222" stroke-width="0.55"/>
<circle cx="662.3" cy="19" r="1.55" fill="#ff2600" stroke="#222" stroke-width="0.55"/>
<circle cx="658.4" cy="34.8" r="1.55" fill="#ff2600" stroke="#222" stroke-width="0.55"/>
<circle cx="665.2" cy="36.5" r="1.55" fill="#ff2600" stroke="#222" stroke-width="0.55"/>
<circle cx="662.3" cy="44.6" r="1.55" fill="#ff2600" stroke="#222" stroke-width="0.55"/>
<circle cx="661" cy="54.5" r="1.55" fill="#ff2600" stroke="#222" stroke-width="0.55"/>
<circle cx="661" cy="66.4" r="1.55" fill="#ff2600" stroke="#222" stroke-width="0.55"/>
<text x="633.1" y="104.3" font-size="6.4" text-anchor="middle">WSD</text>
<text x="662.15" y="104.3" font-size="6.4" text-anchor="middle">WSD</text>
<text x="662.15" y="111.8" font-size="6.4" text-anchor="middle">+ <tspan font-style="italic">B.coc</tspan></text>
<text x="649.62" y="5.8" font-size="7.9" text-anchor="middle">Butyrate/</text>
<text x="649.62" y="15" font-size="7.9" text-anchor="middle">Isobutyrate</text>
<line x1="429.4" y1="130.2" x2="429.4" y2="209.5" stroke="#222" stroke-width="0.9"/>
<line x1="426.5" y1="130.2" x2="429.4" y2="130.2" stroke="#222" stroke-width="0.9"/>
<text x="426.1" y="132.94" font-size="6.5" text-anchor="end" font-weight="bold">4×10<tspan font-size="3.58" dy="-2.15">7</tspan></text>
<line x1="426.5" y1="150" x2="429.4" y2="150" stroke="#222" stroke-width="0.9"/>
<text x="426.1" y="152.74" font-size="6.5" text-anchor="end" font-weight="bold">3×10<tspan font-size="3.58" dy="-2.15">7</tspan></text>
<line x1="426.5" y1="169.8" x2="429.4" y2="169.8" stroke="#222" stroke-width="0.9"/>
<text x="426.1" y="172.54" font-size="6.5" text-anchor="end" font-weight="bold">2×10<tspan font-size="3.58" dy="-2.15">7</tspan></text>
<line x1="426.5" y1="189.7" x2="429.4" y2="189.7" stroke="#222" stroke-width="0.9"/>
<text x="426.1" y="192.44" font-size="6.5" text-anchor="end" font-weight="bold">1×10<tspan font-size="3.58" dy="-2.15">7</tspan></text>
<line x1="426.5" y1="209.5" x2="429.4" y2="209.5" stroke="#222" stroke-width="0.9"/>
<text x="426.1" y="212.24" font-size="6.5" text-anchor="end" font-weight="bold">0</text>
<line x1="429.4" y1="209.5" x2="496.3" y2="209.5" stroke="#222" stroke-width="0.9"/>
<line x1="449.2" y1="209.5" x2="449.2" y2="211.7" stroke="#222" stroke-width="0.9"/>
<line x1="477.9" y1="209.5" x2="477.9" y2="211.7" stroke="#222" stroke-width="0.9"/>
<rect x="439.9" y="183.9" width="18.6" height="25.6" fill="#0433ff" stroke="#1a1a1a" stroke-width="0.7"/>
<rect x="468.8" y="162.8" width="18.2" height="46.7" fill="#ff2600" stroke="#1a1a1a" stroke-width="0.7"/>
<line x1="449.2" y1="173.4" x2="449.2" y2="194.2" stroke="#333" stroke-width="0.8"/>
<line x1="444.4" y1="173.4" x2="454" y2="173.4" stroke="#333" stroke-width="0.8"/>
<line x1="444.4" y1="194.2" x2="454" y2="194.2" stroke="#333" stroke-width="0.8"/>
<line x1="477.9" y1="151.5" x2="477.9" y2="174.4" stroke="#333" stroke-width="0.8"/>
<line x1="473.1" y1="151.5" x2="482.7" y2="151.5" stroke="#333" stroke-width="0.8"/>
<line x1="473.1" y1="174.4" x2="482.7" y2="174.4" stroke="#333" stroke-width="0.8"/>
<circle cx="446.5" cy="176.6" r="1.55" fill="#0433ff" stroke="#222" stroke-width="0.55"/>
<circle cx="452.4" cy="176.6" r="1.55" fill="#0433ff" stroke="#222" stroke-width="0.55"/>
<circle cx="449.1" cy="183.9" r="1.55" fill="#0433ff" stroke="#222" stroke-width="0.55"/>
<circle cx="449.1" cy="198.5" r="1.55" fill="#0433ff" stroke="#222" stroke-width="0.55"/>
<circle cx="480.9" cy="149.9" r="1.55" fill="#ff2600" stroke="#222" stroke-width="0.55"/>
<circle cx="474.3" cy="152.6" r="1.55" fill="#ff2600" stroke="#222" stroke-width="0.55"/>
<circle cx="475.4" cy="160.9" r="1.55" fill="#ff2600" stroke="#222" stroke-width="0.55"/>
<circle cx="480.9" cy="160.9" r="1.55" fill="#ff2600" stroke="#222" stroke-width="0.55"/>
<circle cx="477.6" cy="167.9" r="1.55" fill="#ff2600" stroke="#222" stroke-width="0.55"/>
<circle cx="477.6" cy="182.1" r="1.55" fill="#ff2600" stroke="#222" stroke-width="0.55"/>
<text x="449.2" y="219.5" font-size="6.4" text-anchor="middle">WSD</text>
<text x="477.9" y="219.5" font-size="6.4" text-anchor="middle">WSD</text>
<text x="477.9" y="227" font-size="6.4" text-anchor="middle">+ <tspan font-style="italic">B.coc</tspan></text>
<text x="463.55" y="125.6" font-size="8.1" text-anchor="middle">Pentanoate</text>
<text x="404.74" y="170" font-size="6.5" text-anchor="middle" transform="rotate(-90 404.74 170)">[Peak area]</text>
<line x1="448" y1="137.9" x2="477.6" y2="137.9" stroke="#444" stroke-width="0.8"/>
<text x="462.8" y="140.1" font-size="11" text-anchor="middle" font-weight="bold">*</text>
<line x1="524.9" y1="129.9" x2="524.9" y2="209.8" stroke="#222" stroke-width="0.9"/>
<line x1="522" y1="129.9" x2="524.9" y2="129.9" stroke="#222" stroke-width="0.9"/>
<text x="521.6" y="132.64" font-size="6.5" text-anchor="end" font-weight="bold">2.5×10<tspan font-size="3.58" dy="-2.15">8</tspan></text>
<line x1="522" y1="145.9" x2="524.9" y2="145.9" stroke="#222" stroke-width="0.9"/>
<text x="521.6" y="148.64" font-size="6.5" text-anchor="end" font-weight="bold">2.0×10<tspan font-size="3.58" dy="-2.15">8</tspan></text>
<line x1="522" y1="161.9" x2="524.9" y2="161.9" stroke="#222" stroke-width="0.9"/>
<text x="521.6" y="164.64" font-size="6.5" text-anchor="end" font-weight="bold">1.5×10<tspan font-size="3.58" dy="-2.15">8</tspan></text>
<line x1="522" y1="177.9" x2="524.9" y2="177.9" stroke="#222" stroke-width="0.9"/>
<text x="521.6" y="180.64" font-size="6.5" text-anchor="end" font-weight="bold">1.0×10<tspan font-size="3.58" dy="-2.15">8</tspan></text>
<line x1="522" y1="193.8" x2="524.9" y2="193.8" stroke="#222" stroke-width="0.9"/>
<text x="521.6" y="196.54" font-size="6.5" text-anchor="end" font-weight="bold">5.0×10<tspan font-size="3.58" dy="-2.15">7</tspan></text>
<line x1="522" y1="209.8" x2="524.9" y2="209.8" stroke="#222" stroke-width="0.9"/>
<text x="521.6" y="212.54" font-size="6.5" text-anchor="end" font-weight="bold">0.0</text>
<line x1="524.9" y1="209.8" x2="583.3" y2="209.8" stroke="#222" stroke-width="0.9"/>
<line x1="544.2" y1="209.8" x2="544.2" y2="212" stroke="#222" stroke-width="0.9"/>
<line x1="572.5" y1="209.8" x2="572.5" y2="212" stroke="#222" stroke-width="0.9"/>
<rect x="534.8" y="192.8" width="18.8" height="17" fill="#0433ff" stroke="#1a1a1a" stroke-width="0.7"/>
<rect x="563.2" y="168.2" width="18.6" height="41.6" fill="#ff2600" stroke="#1a1a1a" stroke-width="0.7"/>
<line x1="544.2" y1="180.2" x2="544.2" y2="205.4" stroke="#333" stroke-width="0.8"/>
<line x1="539.4" y1="180.2" x2="549" y2="180.2" stroke="#333" stroke-width="0.8"/>
<line x1="539.4" y1="205.4" x2="549" y2="205.4" stroke="#333" stroke-width="0.8"/>
<line x1="572.5" y1="154.5" x2="572.5" y2="182.3" stroke="#333" stroke-width="0.8"/>
<line x1="567.7" y1="154.5" x2="577.3" y2="154.5" stroke="#333" stroke-width="0.8"/>
<line x1="567.7" y1="182.3" x2="577.3" y2="182.3" stroke="#333" stroke-width="0.8"/>
<circle cx="543.8" cy="176.3" r="1.55" fill="#0433ff" stroke="#222" stroke-width="0.55"/>
<circle cx="543.8" cy="191.3" r="1.55" fill="#0433ff" stroke="#222" stroke-width="0.55"/>
<circle cx="543.8" cy="200.3" r="1.55" fill="#0433ff" stroke="#222" stroke-width="0.55"/>
<circle cx="543.8" cy="204.8" r="1.55" fill="#0433ff" stroke="#222" stroke-width="0.55"/>
<circle cx="572.8" cy="142.2" r="1.55" fill="#ff2600" stroke="#222" stroke-width="0.55"/>
<circle cx="572.8" cy="165.3" r="1.55" fill="#ff2600" stroke="#222" stroke-width="0.55"/>
<circle cx="569.2" cy="171.8" r="1.55" fill="#ff2600" stroke="#222" stroke-width="0.55"/>
<circle cx="575.2" cy="171.8" r="1.55" fill="#ff2600" stroke="#222" stroke-width="0.55"/>
<circle cx="572.8" cy="182.3" r="1.55" fill="#ff2600" stroke="#222" stroke-width="0.55"/>
<circle cx="570" cy="175" r="1.55" fill="#ff2600" stroke="#222" stroke-width="0.55"/>
<text x="544.2" y="219.8" font-size="6.4" text-anchor="middle">WSD</text>
<text x="572.5" y="219.8" font-size="6.4" text-anchor="middle">WSD</text>
<text x="572.5" y="227.3" font-size="6.4" text-anchor="middle">+ <tspan font-style="italic">B.coc</tspan></text>
<text x="558.35" y="125.6" font-size="8.1" text-anchor="middle">Hexanoate</text>
<line x1="544.4" y1="138" x2="572.8" y2="138" stroke="#444" stroke-width="0.8"/>
<text x="558.6" y="140.2" font-size="11" text-anchor="middle" font-weight="bold">*</text>
<line x1="616.2" y1="129.9" x2="616.2" y2="209.8" stroke="#222" stroke-width="0.9"/>
<line x1="613.3" y1="129.9" x2="616.2" y2="129.9" stroke="#222" stroke-width="0.9"/>
<text x="612.9" y="132.64" font-size="6.5" text-anchor="end" font-weight="bold">1×10<tspan font-size="3.58" dy="-2.15">8</tspan></text>
<line x1="613.3" y1="145.9" x2="616.2" y2="145.9" stroke="#222" stroke-width="0.9"/>
<text x="612.9" y="148.64" font-size="6.5" text-anchor="end" font-weight="bold">8×10<tspan font-size="3.58" dy="-2.15">7</tspan></text>
<line x1="613.3" y1="161.9" x2="616.2" y2="161.9" stroke="#222" stroke-width="0.9"/>
<text x="612.9" y="164.64" font-size="6.5" text-anchor="end" font-weight="bold">6×10<tspan font-size="3.58" dy="-2.15">7</tspan></text>
<line x1="613.3" y1="177.9" x2="616.2" y2="177.9" stroke="#222" stroke-width="0.9"/>
<text x="612.9" y="180.64" font-size="6.5" text-anchor="end" font-weight="bold">4×10<tspan font-size="3.58" dy="-2.15">7</tspan></text>
<line x1="613.3" y1="193.8" x2="616.2" y2="193.8" stroke="#222" stroke-width="0.9"/>
<text x="612.9" y="196.54" font-size="6.5" text-anchor="end" font-weight="bold">2×10<tspan font-size="3.58" dy="-2.15">7</tspan></text>
<line x1="613.3" y1="209.8" x2="616.2" y2="209.8" stroke="#222" stroke-width="0.9"/>
<text x="612.9" y="212.54" font-size="6.5" text-anchor="end" font-weight="bold">0</text>
<line x1="616.2" y1="209.8" x2="680.5" y2="209.8" stroke="#222" stroke-width="0.9"/>
<line x1="635.2" y1="209.8" x2="635.2" y2="212" stroke="#222" stroke-width="0.9"/>
<line x1="663.6" y1="209.8" x2="663.6" y2="212" stroke="#222" stroke-width="0.9"/>
<rect x="625.8" y="192.8" width="18.8" height="17" fill="#0433ff" stroke="#1a1a1a" stroke-width="0.7"/>
<rect x="654.2" y="172.7" width="18.8" height="37.1" fill="#ff2600" stroke="#1a1a1a" stroke-width="0.7"/>
<line x1="635.2" y1="182.3" x2="635.2" y2="203.3" stroke="#333" stroke-width="0.8"/>
<line x1="630.4" y1="182.3" x2="640" y2="182.3" stroke="#333" stroke-width="0.8"/>
<line x1="630.4" y1="203.3" x2="640" y2="203.3" stroke="#333" stroke-width="0.8"/>
<line x1="663.6" y1="158.4" x2="663.6" y2="186.8" stroke="#333" stroke-width="0.8"/>
<line x1="658.8" y1="158.4" x2="668.4" y2="158.4" stroke="#333" stroke-width="0.8"/>
<line x1="658.8" y1="186.8" x2="668.4" y2="186.8" stroke="#333" stroke-width="0.8"/>
<circle cx="635" cy="179.3" r="1.55" fill="#0433ff" stroke="#222" stroke-width="0.55"/>
<circle cx="632.7" cy="191.3" r="1.55" fill="#0433ff" stroke="#222" stroke-width="0.55"/>
<circle cx="638" cy="195.2" r="1.55" fill="#0433ff" stroke="#222" stroke-width="0.55"/>
<circle cx="635" cy="204.2" r="1.55" fill="#0433ff" stroke="#222" stroke-width="0.55"/>
<circle cx="664.1" cy="145.5" r="1.55" fill="#ff2600" stroke="#222" stroke-width="0.55"/>
<circle cx="667.1" cy="172.7" r="1.55" fill="#ff2600" stroke="#222" stroke-width="0.55"/>
<circle cx="659" cy="176.3" r="1.55" fill="#ff2600" stroke="#222" stroke-width="0.55"/>
<circle cx="662.6" cy="179.3" r="1.55" fill="#ff2600" stroke="#222" stroke-width="0.55"/>
<circle cx="665.6" cy="180.8" r="1.55" fill="#ff2600" stroke="#222" stroke-width="0.55"/>
<circle cx="662" cy="185.3" r="1.55" fill="#ff2600" stroke="#222" stroke-width="0.55"/>
<text x="635.2" y="219.8" font-size="6.4" text-anchor="middle">WSD</text>
<text x="663.6" y="219.8" font-size="6.4" text-anchor="middle">WSD</text>
<text x="663.6" y="227.3" font-size="6.4" text-anchor="middle">+ <tspan font-style="italic">B.coc</tspan></text>
<text x="649.4" y="125.6" font-size="8.1" text-anchor="middle">Heptanoate</text>
<line x1="636.2" y1="138" x2="663.2" y2="138" stroke="#444" stroke-width="0.8"/>
<text x="649.7" y="140.2" font-size="11" text-anchor="middle" font-weight="bold">*</text>
<text x="3.6" y="253.6" font-size="16" font-weight="bold">D</text>
<line x1="38.9" y1="263" x2="38.9" y2="331.4" stroke="#222" stroke-width="0.9"/>
<line x1="36.7" y1="263" x2="38.9" y2="263" stroke="#222" stroke-width="0.9"/>
<text x="35.9" y="265.78" font-size="6.6" text-anchor="end" font-weight="bold">5x10<tspan font-size="3.63" dy="-2.18">8</tspan></text>
<line x1="36.7" y1="277" x2="38.9" y2="277" stroke="#222" stroke-width="0.9"/>
<text x="35.9" y="279.78" font-size="6.6" text-anchor="end" font-weight="bold">4x10<tspan font-size="3.63" dy="-2.18">8</tspan></text>
<line x1="36.7" y1="290.7" x2="38.9" y2="290.7" stroke="#222" stroke-width="0.9"/>
<text x="35.9" y="293.48" font-size="6.6" text-anchor="end" font-weight="bold">3x10<tspan font-size="3.63" dy="-2.18">8</tspan></text>
<line x1="36.7" y1="304.2" x2="38.9" y2="304.2" stroke="#222" stroke-width="0.9"/>
<text x="35.9" y="306.98" font-size="6.6" text-anchor="end" font-weight="bold">2x10<tspan font-size="3.63" dy="-2.18">8</tspan></text>
<line x1="36.7" y1="318.2" x2="38.9" y2="318.2" stroke="#222" stroke-width="0.9"/>
<text x="35.9" y="320.98" font-size="6.6" text-anchor="end" font-weight="bold">1x10<tspan font-size="3.63" dy="-2.18">8</tspan></text>
<line x1="36.7" y1="331.4" x2="38.9" y2="331.4" stroke="#222" stroke-width="0.9"/>
<text x="35.9" y="334.18" font-size="6.6" text-anchor="end" font-weight="bold">0</text>
<line x1="38.9" y1="331.4" x2="112.1" y2="331.4" stroke="#222" stroke-width="0.9"/>
<line x1="39.4" y1="331.4" x2="39.4" y2="333.4" stroke="#222" stroke-width="0.9"/>
<text x="39.4" y="340" font-size="6.3" text-anchor="middle" font-weight="bold">0</text>
<line x1="61.3" y1="331.4" x2="61.3" y2="333.4" stroke="#222" stroke-width="0.9"/>
<text x="61.3" y="340" font-size="6.3" text-anchor="middle" font-weight="bold">1</text>
<line x1="83.2" y1="331.4" x2="83.2" y2="333.4" stroke="#222" stroke-width="0.9"/>
<text x="83.2" y="340" font-size="6.3" text-anchor="middle" font-weight="bold">2</text>
<line x1="105.1" y1="331.4" x2="105.1" y2="333.4" stroke="#222" stroke-width="0.9"/>
<text x="105.1" y="340" font-size="6.3" text-anchor="middle" font-weight="bold">3</text>
<text x="79.4" y="251.9" font-size="7.9" text-anchor="middle">Acetate</text>
<text x="82" y="260.6" font-size="5.5" text-anchor="middle">(<tspan font-style="italic">r</tspan><tspan font-size="3.6" dy="1.2">s</tspan><tspan dy="-1.2"> = 0.6364; p = 0.0544</tspan>)</text>
<text x="78.8" y="348" font-size="6.5" text-anchor="middle">Mucus growth rate</text>
<text x="78.8" y="353.9" font-size="6.5" text-anchor="middle">[µm/min]</text>
<circle cx="54.7" cy="309.5" r="1.5" fill="#000" stroke="none" stroke-width="0.6"/>
<circle cx="68.3" cy="301.6" r="1.5" fill="#000" stroke="none" stroke-width="0.6"/>
<circle cx="73.2" cy="296.3" r="1.5" fill="#000" stroke="none" stroke-width="0.6"/>
<circle cx="70.4" cy="323.5" r="1.5" fill="#000" stroke="none" stroke-width="0.6"/>
<circle cx="82.3" cy="299.5" r="1.5" fill="#000" stroke="none" stroke-width="0.6"/>
<circle cx="87.1" cy="303.7" r="1.5" fill="#000" stroke="none" stroke-width="0.6"/>
<circle cx="94.6" cy="282.7" r="1.5" fill="#000" stroke="none" stroke-width="0.6"/>
<circle cx="101.1" cy="279.3" r="1.5" fill="#000" stroke="none" stroke-width="0.6"/>
<circle cx="103.4" cy="298.4" r="1.5" fill="#000" stroke="none" stroke-width="0.6"/>
<line x1="146.8" y1="262.2" x2="146.8" y2="330.5" stroke="#222" stroke-width="0.9"/>
<line x1="144.6" y1="262.2" x2="146.8" y2="262.2" stroke="#222" stroke-width="0.9"/>
<text x="143.8" y="264.98" font-size="6.6" text-anchor="end" font-weight="bold">2.0x10<tspan font-size="3.63" dy="-2.18">8</tspan></text>
<line x1="144.6" y1="279.3" x2="146.8" y2="279.3" stroke="#222" stroke-width="0.9"/>
<text x="143.8" y="282.08" font-size="6.6" text-anchor="end" font-weight="bold">1.5x10<tspan font-size="3.63" dy="-2.18">8</tspan></text>
<line x1="144.6" y1="296.3" x2="146.8" y2="296.3" stroke="#222" stroke-width="0.9"/>
<text x="143.8" y="299.08" font-size="6.6" text-anchor="end" font-weight="bold">1.0x10<tspan font-size="3.63" dy="-2.18">8</tspan></text>
<line x1="144.6" y1="313.8" x2="146.8" y2="313.8" stroke="#222" stroke-width="0.9"/>
<text x="143.8" y="316.58" font-size="6.6" text-anchor="end" font-weight="bold">5.0x10<tspan font-size="3.63" dy="-2.18">7</tspan></text>
<line x1="144.6" y1="330.5" x2="146.8" y2="330.5" stroke="#222" stroke-width="0.9"/>
<text x="143.8" y="333.28" font-size="6.6" text-anchor="end" font-weight="bold">0.0</text>
<line x1="146.8" y1="330.5" x2="228.3" y2="330.5" stroke="#222" stroke-width="0.9"/>
<line x1="146.8" y1="330.5" x2="146.8" y2="332.5" stroke="#222" stroke-width="0.9"/>
<text x="146.8" y="339.1" font-size="6.3" text-anchor="middle" font-weight="bold">0</text>
<line x1="172.2" y1="330.5" x2="172.2" y2="332.5" stroke="#222" stroke-width="0.9"/>
<text x="172.2" y="339.1" font-size="6.3" text-anchor="middle" font-weight="bold">1</text>
<line x1="197.2" y1="330.5" x2="197.2" y2="332.5" stroke="#222" stroke-width="0.9"/>
<text x="197.2" y="339.1" font-size="6.3" text-anchor="middle" font-weight="bold">2</text>
<line x1="222.1" y1="330.5" x2="222.1" y2="332.5" stroke="#222" stroke-width="0.9"/>
<text x="222.1" y="339.1" font-size="6.3" text-anchor="middle" font-weight="bold">3</text>
<text x="188.5" y="251.9" font-size="7.9" text-anchor="middle">Propionate</text>
<text x="192" y="260.6" font-size="5.5" text-anchor="middle">(<tspan font-style="italic">r</tspan><tspan font-size="3.6" dy="1.2">s</tspan><tspan dy="-1.2"> = 0.7212; p = 0.0234</tspan>)</text>
<text x="195" y="348" font-size="6.5" text-anchor="middle">Mucus growth rate</text>
<text x="195" y="353.9" font-size="6.5" text-anchor="middle">[µm/min]</text>
<line x1="164.3" y1="312.1" x2="220" y2="289" stroke="#222" stroke-width="0.8"/>
<circle cx="164" cy="314.2" r="1.5" fill="#000" stroke="none" stroke-width="0.6"/>
<circle cx="179.4" cy="301" r="1.5" fill="#000" stroke="none" stroke-width="0.6"/>
<circle cx="185.3" cy="294.6" r="1.5" fill="#000" stroke="none" stroke-width="0.6"/>
<circle cx="181.8" cy="318.7" r="1.5" fill="#000" stroke="none" stroke-width="0.6"/>
<circle cx="195.5" cy="299.5" r="1.5" fill="#000" stroke="none" stroke-width="0.6"/>
<circle cx="201.1" cy="294.2" r="1.5" fill="#000" stroke="none" stroke-width="0.6"/>
<circle cx="209.5" cy="274.6" r="1.5" fill="#000" stroke="none" stroke-width="0.6"/>
<circle cx="217.2" cy="292.3" r="1.5" fill="#000" stroke="none" stroke-width="0.6"/>
<circle cx="219.8" cy="290.2" r="1.5" fill="#000" stroke="none" stroke-width="0.6"/>
<circle cx="219.5" cy="299.8" r="1.5" fill="#000" stroke="none" stroke-width="0.6"/>
<line x1="254.4" y1="262.2" x2="254.4" y2="331.4" stroke="#222" stroke-width="0.9"/>
<line x1="252.2" y1="262.2" x2="254.4" y2="262.2" stroke="#222" stroke-width="0.9"/>
<text x="251.4" y="264.98" font-size="6.6" text-anchor="end" font-weight="bold">1x10<tspan font-size="3.63" dy="-2.18">8</tspan></text>
<line x1="252.2" y1="276.5" x2="254.4" y2="276.5" stroke="#222" stroke-width="0.9"/>
<text x="251.4" y="279.28" font-size="6.6" text-anchor="end" font-weight="bold">8x10<tspan font-size="3.63" dy="-2.18">7</tspan></text>
<line x1="252.2" y1="290.4" x2="254.4" y2="290.4" stroke="#222" stroke-width="0.9"/>
<text x="251.4" y="293.18" font-size="6.6" text-anchor="end" font-weight="bold">6x10<tspan font-size="3.63" dy="-2.18">7</tspan></text>
<line x1="252.2" y1="304.2" x2="254.4" y2="304.2" stroke="#222" stroke-width="0.9"/>
<text x="251.4" y="306.98" font-size="6.6" text-anchor="end" font-weight="bold">4x10<tspan font-size="3.63" dy="-2.18">7</tspan></text>
<line x1="252.2" y1="317.7" x2="254.4" y2="317.7" stroke="#222" stroke-width="0.9"/>
<text x="251.4" y="320.48" font-size="6.6" text-anchor="end" font-weight="bold">2x10<tspan font-size="3.63" dy="-2.18">7</tspan></text>
<line x1="252.2" y1="331.4" x2="254.4" y2="331.4" stroke="#222" stroke-width="0.9"/>
<text x="251.4" y="334.18" font-size="6.6" text-anchor="end" font-weight="bold">0</text>
<line x1="254.4" y1="331.4" x2="332.2" y2="331.4" stroke="#222" stroke-width="0.9"/>
<line x1="254.8" y1="331.4" x2="254.8" y2="333.4" stroke="#222" stroke-width="0.9"/>
<text x="254.8" y="340" font-size="6.3" text-anchor="middle" font-weight="bold">0</text>
<line x1="278.4" y1="331.4" x2="278.4" y2="333.4" stroke="#222" stroke-width="0.9"/>
<text x="278.4" y="340" font-size="6.3" text-anchor="middle" font-weight="bold">1</text>
<line x1="303" y1="331.4" x2="303" y2="333.4" stroke="#222" stroke-width="0.9"/>
<text x="303" y="340" font-size="6.3" text-anchor="middle" font-weight="bold">2</text>
<line x1="327.5" y1="331.4" x2="327.5" y2="333.4" stroke="#222" stroke-width="0.9"/>
<text x="327.5" y="340" font-size="6.3" text-anchor="middle" font-weight="bold">3</text>
<text x="297.2" y="251.9" font-size="7.9" text-anchor="middle">Butyrate/Isobutyrate</text>
<text x="297.2" y="260.6" font-size="5.5" text-anchor="middle">(<tspan font-style="italic">r</tspan><tspan font-size="3.6" dy="1.2">s</tspan><tspan dy="-1.2"> = 0.5394; p = 0.1139</tspan>)</text>
<text x="297.2" y="348" font-size="6.5" text-anchor="middle">Mucus growth rate</text>
<text x="297.2" y="353.9" font-size="6.5" text-anchor="middle">[µm/min]</text>
<circle cx="271.1" cy="323.8" r="1.5" fill="#000" stroke="none" stroke-width="0.6"/>
<circle cx="286" cy="310.3" r="1.5" fill="#000" stroke="none" stroke-width="0.6"/>
<circle cx="288.4" cy="322.6" r="1.5" fill="#000" stroke="none" stroke-width="0.6"/>
<circle cx="291.6" cy="289.8" r="1.5" fill="#000" stroke="none" stroke-width="0.6"/>
<circle cx="301.4" cy="302.4" r="1.5" fill="#000" stroke="none" stroke-width="0.6"/>
<circle cx="306.8" cy="295.4" r="1.5" fill="#000" stroke="none" stroke-width="0.6"/>
<circle cx="314.9" cy="296.3" r="1.5" fill="#000" stroke="none" stroke-width="0.6"/>
<circle cx="322.2" cy="278.6" r="1.5" fill="#000" stroke="none" stroke-width="0.6"/>
<circle cx="324.9" cy="290.7" r="1.5" fill="#000" stroke="none" stroke-width="0.6"/>
<circle cx="324.5" cy="312.6" r="1.5" fill="#000" stroke="none" stroke-width="0.6"/>
<line x1="366.2" y1="261.3" x2="366.2" y2="331.4" stroke="#222" stroke-width="0.9"/>
<line x1="364" y1="261.3" x2="366.2" y2="261.3" stroke="#222" stroke-width="0.9"/>
<text x="363.2" y="264.08" font-size="6.6" text-anchor="end" font-weight="bold">4x10<tspan font-size="3.63" dy="-2.18">7</tspan></text>
<line x1="364" y1="279.1" x2="366.2" y2="279.1" stroke="#222" stroke-width="0.9"/>
<text x="363.2" y="281.88" font-size="6.6" text-anchor="end" font-weight="bold">3x10<tspan font-size="3.63" dy="-2.18">7</tspan></text>
<line x1="364" y1="296.3" x2="366.2" y2="296.3" stroke="#222" stroke-width="0.9"/>
<text x="363.2" y="299.08" font-size="6.6" text-anchor="end" font-weight="bold">2x10<tspan font-size="3.63" dy="-2.18">7</tspan></text>
<line x1="364" y1="313.8" x2="366.2" y2="313.8" stroke="#222" stroke-width="0.9"/>
<text x="363.2" y="316.58" font-size="6.6" text-anchor="end" font-weight="bold">1x10<tspan font-size="3.63" dy="-2.18">7</tspan></text>
<line x1="364" y1="331.4" x2="366.2" y2="331.4" stroke="#222" stroke-width="0.9"/>
<text x="363.2" y="334.18" font-size="6.6" text-anchor="end" font-weight="bold">0</text>
<line x1="366.2" y1="331.4" x2="448.5" y2="331.4" stroke="#222" stroke-width="0.9"/>
<line x1="366.2" y1="331.4" x2="366.2" y2="333.4" stroke="#222" stroke-width="0.9"/>
<text x="366.2" y="340" font-size="6.3" text-anchor="middle" font-weight="bold">0</text>
<line x1="390.7" y1="331.4" x2="390.7" y2="333.4" stroke="#222" stroke-width="0.9"/>
<text x="390.7" y="340" font-size="6.3" text-anchor="middle" font-weight="bold">1</text>
<line x1="415.9" y1="331.4" x2="415.9" y2="333.4" stroke="#222" stroke-width="0.9"/>
<text x="415.9" y="340" font-size="6.3" text-anchor="middle" font-weight="bold">2</text>
<line x1="441" y1="331.4" x2="441" y2="333.4" stroke="#222" stroke-width="0.9"/>
<text x="441" y="340" font-size="6.3" text-anchor="middle" font-weight="bold">3</text>
<text x="406" y="251.9" font-size="7.9" text-anchor="middle">Pentanoate</text>
<text x="410" y="260.6" font-size="5.5" text-anchor="middle">(<tspan font-style="italic">r</tspan><tspan font-size="3.6" dy="1.2">s</tspan><tspan dy="-1.2"> = 0.5758; p = 0.0883</tspan>)</text>
<text x="408.6" y="348" font-size="6.5" text-anchor="middle">Mucus growth rate</text>
<text x="408.6" y="353.9" font-size="6.5" text-anchor="middle">[µm/min]</text>
<circle cx="382.3" cy="321.2" r="1.5" fill="#000" stroke="none" stroke-width="0.6"/>
<circle cx="398.1" cy="301.2" r="1.5" fill="#000" stroke="none" stroke-width="0.6"/>
<circle cx="400.7" cy="308.1" r="1.5" fill="#000" stroke="none" stroke-width="0.6"/>
<circle cx="403.9" cy="279.7" r="1.5" fill="#000" stroke="none" stroke-width="0.6"/>
<circle cx="414.4" cy="306" r="1.5" fill="#000" stroke="none" stroke-width="0.6"/>
<circle cx="420.1" cy="301.6" r="1.5" fill="#000" stroke="none" stroke-width="0.6"/>
<circle cx="428.4" cy="277" r="1.5" fill="#000" stroke="none" stroke-width="0.6"/>
<circle cx="436.1" cy="287.6" r="1.5" fill="#000" stroke="none" stroke-width="0.6"/>
<circle cx="439.2" cy="289.7" r="1.5" fill="#000" stroke="none" stroke-width="0.6"/>
<circle cx="438.7" cy="292.8" r="1.5" fill="#000" stroke="none" stroke-width="0.6"/>
<line x1="483.2" y1="263.9" x2="483.2" y2="332.2" stroke="#222" stroke-width="0.9"/>
<line x1="481" y1="263.9" x2="483.2" y2="263.9" stroke="#222" stroke-width="0.9"/>
<text x="480.2" y="266.68" font-size="6.6" text-anchor="end" font-weight="bold">2.5x10<tspan font-size="3.63" dy="-2.18">8</tspan></text>
<line x1="481" y1="277.6" x2="483.2" y2="277.6" stroke="#222" stroke-width="0.9"/>
<text x="480.2" y="280.38" font-size="6.6" text-anchor="end" font-weight="bold">2.0x10<tspan font-size="3.63" dy="-2.18">8</tspan></text>
<line x1="481" y1="291.4" x2="483.2" y2="291.4" stroke="#222" stroke-width="0.9"/>
<text x="480.2" y="294.18" font-size="6.6" text-anchor="end" font-weight="bold">1.5x10<tspan font-size="3.63" dy="-2.18">8</tspan></text>
<line x1="481" y1="305.4" x2="483.2" y2="305.4" stroke="#222" stroke-width="0.9"/>
<text x="480.2" y="308.18" font-size="6.6" text-anchor="end" font-weight="bold">1.0x10<tspan font-size="3.63" dy="-2.18">8</tspan></text>
<line x1="481" y1="318.7" x2="483.2" y2="318.7" stroke="#222" stroke-width="0.9"/>
<text x="480.2" y="321.48" font-size="6.6" text-anchor="end" font-weight="bold">5.0x10<tspan font-size="3.63" dy="-2.18">7</tspan></text>
<line x1="481" y1="332.2" x2="483.2" y2="332.2" stroke="#222" stroke-width="0.9"/>
<text x="480.2" y="334.98" font-size="6.6" text-anchor="end" font-weight="bold">0.0</text>
<line x1="483.2" y1="332.2" x2="559.8" y2="332.2" stroke="#222" stroke-width="0.9"/>
<line x1="483.9" y1="332.2" x2="483.9" y2="334.2" stroke="#222" stroke-width="0.9"/>
<text x="483.9" y="340.8" font-size="6.3" text-anchor="middle" font-weight="bold">0</text>
<line x1="507.7" y1="332.2" x2="507.7" y2="334.2" stroke="#222" stroke-width="0.9"/>
<text x="507.7" y="340.8" font-size="6.3" text-anchor="middle" font-weight="bold">1</text>
<line x1="531.7" y1="332.2" x2="531.7" y2="334.2" stroke="#222" stroke-width="0.9"/>
<text x="531.7" y="340.8" font-size="6.3" text-anchor="middle" font-weight="bold">2</text>
<line x1="555.4" y1="332.2" x2="555.4" y2="334.2" stroke="#222" stroke-width="0.9"/>
<text x="555.4" y="340.8" font-size="6.3" text-anchor="middle" font-weight="bold">3</text>
<text x="522.1" y="251.9" font-size="7.9" text-anchor="middle">Hexanoate</text>
<text x="525.6" y="260.6" font-size="5.5" text-anchor="middle">(<tspan font-style="italic">r</tspan><tspan font-size="3.6" dy="1.2">s</tspan><tspan dy="-1.2"> = 0.4303; p = 0.2182</tspan>)</text>
<text x="526.5" y="348" font-size="6.5" text-anchor="middle">Mucus growth rate</text>
<text x="526.5" y="353.9" font-size="6.5" text-anchor="middle">[µm/min]</text>
<circle cx="500.2" cy="328.2" r="1.5" fill="#000" stroke="none" stroke-width="0.6"/>
<circle cx="514.5" cy="302.8" r="1.5" fill="#000" stroke="none" stroke-width="0.6"/>
<circle cx="516.8" cy="321.4" r="1.5" fill="#000" stroke="none" stroke-width="0.6"/>
<circle cx="520" cy="293.2" r="1.5" fill="#000" stroke="none" stroke-width="0.6"/>
<circle cx="530" cy="301.6" r="1.5" fill="#000" stroke="none" stroke-width="0.6"/>
<circle cx="535.2" cy="316.1" r="1.5" fill="#000" stroke="none" stroke-width="0.6"/>
<circle cx="543.1" cy="272" r="1.5" fill="#000" stroke="none" stroke-width="0.6"/>
<circle cx="550.1" cy="297.7" r="1.5" fill="#000" stroke="none" stroke-width="0.6"/>
<circle cx="552.7" cy="299.3" r="1.5" fill="#000" stroke="none" stroke-width="0.6"/>
<circle cx="553.1" cy="308.1" r="1.5" fill="#000" stroke="none" stroke-width="0.6"/>
<line x1="590.4" y1="262.2" x2="590.4" y2="331.4" stroke="#222" stroke-width="0.9"/>
<line x1="588.2" y1="262.2" x2="590.4" y2="262.2" stroke="#222" stroke-width="0.9"/>
<text x="587.4" y="264.98" font-size="6.6" text-anchor="end" font-weight="bold">1x10<tspan font-size="3.63" dy="-2.18">8</tspan></text>
<line x1="588.2" y1="276.5" x2="590.4" y2="276.5" stroke="#222" stroke-width="0.9"/>
<text x="587.4" y="279.28" font-size="6.6" text-anchor="end" font-weight="bold">8x10<tspan font-size="3.63" dy="-2.18">7</tspan></text>
<line x1="588.2" y1="290.2" x2="590.4" y2="290.2" stroke="#222" stroke-width="0.9"/>
<text x="587.4" y="292.98" font-size="6.6" text-anchor="end" font-weight="bold">6x10<tspan font-size="3.63" dy="-2.18">7</tspan></text>
<line x1="588.2" y1="303.9" x2="590.4" y2="303.9" stroke="#222" stroke-width="0.9"/>
<text x="587.4" y="306.68" font-size="6.6" text-anchor="end" font-weight="bold">4x10<tspan font-size="3.63" dy="-2.18">7</tspan></text>
<line x1="588.2" y1="317.3" x2="590.4" y2="317.3" stroke="#222" stroke-width="0.9"/>
<text x="587.4" y="320.08" font-size="6.6" text-anchor="end" font-weight="bold">2x10<tspan font-size="3.63" dy="-2.18">7</tspan></text>
<line x1="588.2" y1="331.4" x2="590.4" y2="331.4" stroke="#222" stroke-width="0.9"/>
<text x="587.4" y="334.18" font-size="6.6" text-anchor="end" font-weight="bold">0</text>
<line x1="590.4" y1="331.4" x2="665.7" y2="331.4" stroke="#222" stroke-width="0.9"/>
<line x1="590.4" y1="331.4" x2="590.4" y2="333.4" stroke="#222" stroke-width="0.9"/>
<text x="590.4" y="340" font-size="6.3" text-anchor="middle" font-weight="bold">0</text>
<line x1="613.7" y1="331.4" x2="613.7" y2="333.4" stroke="#222" stroke-width="0.9"/>
<text x="613.7" y="340" font-size="6.3" text-anchor="middle" font-weight="bold">1</text>
<line x1="636.5" y1="331.4" x2="636.5" y2="333.4" stroke="#222" stroke-width="0.9"/>
<text x="636.5" y="340" font-size="6.3" text-anchor="middle" font-weight="bold">2</text>
<line x1="659.6" y1="331.4" x2="659.6" y2="333.4" stroke="#222" stroke-width="0.9"/>
<text x="659.6" y="340" font-size="6.3" text-anchor="middle" font-weight="bold">3</text>
<text x="629.8" y="251.9" font-size="7.9" text-anchor="middle">Heptanoate</text>
<text x="634.2" y="260.6" font-size="5.5" text-anchor="middle">(<tspan font-style="italic">r</tspan><tspan font-size="3.6" dy="1.2">s</tspan><tspan dy="-1.2"> = 0.2970; p = 0.4069</tspan>)</text>
<text x="632.4" y="348" font-size="6.5" text-anchor="middle">Mucus growth rate</text>
<text x="632.4" y="353.9" font-size="6.5" text-anchor="middle">[µm/min]</text>
<circle cx="606.2" cy="327" r="1.5" fill="#000" stroke="none" stroke-width="0.6"/>
<circle cx="620.2" cy="304.2" r="1.5" fill="#000" stroke="none" stroke-width="0.6"/>
<circle cx="622.5" cy="317.9" r="1.5" fill="#000" stroke="none" stroke-width="0.6"/>
<circle cx="625.6" cy="298.2" r="1.5" fill="#000" stroke="none" stroke-width="0.6"/>
<circle cx="635.1" cy="304.2" r="1.5" fill="#000" stroke="none" stroke-width="0.6"/>
<circle cx="640.3" cy="315.2" r="1.5" fill="#000" stroke="none" stroke-width="0.6"/>
<circle cx="648.2" cy="273.5" r="1.5" fill="#000" stroke="none" stroke-width="0.6"/>
<circle cx="655.2" cy="299.3" r="1.5" fill="#000" stroke="none" stroke-width="0.6"/>
<circle cx="657.3" cy="305.4" r="1.5" fill="#000" stroke="none" stroke-width="0.6"/>
<circle cx="657.5" cy="307.4" r="1.5" fill="#000" stroke="none" stroke-width="0.6"/>
<text x="16.24" y="295.4" font-size="6.5" text-anchor="middle" transform="rotate(-90 16.24 295.4)">[peak area]</text>
<text x="3.6" y="373.2" font-size="16" font-weight="bold">E</text>
<line x1="41.5" y1="379.4" x2="41.5" y2="457.7" stroke="#222" stroke-width="0.9"/>
<line x1="38.3" y1="379.4" x2="41.5" y2="379.4" stroke="#222" stroke-width="0.9"/>
<text x="37.1" y="382.14" font-size="6.5" text-anchor="end" font-weight="bold">2.0×10<tspan font-size="3.58" dy="-2.15">10</tspan></text>
<line x1="38.3" y1="399.1" x2="41.5" y2="399.1" stroke="#222" stroke-width="0.9"/>
<text x="37.1" y="401.84" font-size="6.5" text-anchor="end" font-weight="bold">1.5×10<tspan font-size="3.58" dy="-2.15">10</tspan></text>
<line x1="38.3" y1="418.7" x2="41.5" y2="418.7" stroke="#222" stroke-width="0.9"/>
<text x="37.1" y="421.44" font-size="6.5" text-anchor="end" font-weight="bold">1.0×10<tspan font-size="3.58" dy="-2.15">10</tspan></text>
<line x1="38.3" y1="438.5" x2="41.5" y2="438.5" stroke="#222" stroke-width="0.9"/>
<text x="37.1" y="441.24" font-size="6.5" text-anchor="end" font-weight="bold">5.0×10<tspan font-size="3.58" dy="-2.15">9</tspan></text>
<line x1="38.3" y1="457.7" x2="41.5" y2="457.7" stroke="#222" stroke-width="0.9"/>
<text x="37.1" y="460.44" font-size="6.5" text-anchor="end" font-weight="bold">0.0</text>
<line x1="41.5" y1="457.7" x2="112.1" y2="457.7" stroke="#222" stroke-width="0.9"/>
<line x1="41.5" y1="457.7" x2="41.5" y2="459.7" stroke="#222" stroke-width="0.9"/>
<text x="41.5" y="467.5" font-size="6.8" text-anchor="middle" font-weight="bold">0</text>
<line x1="59.6" y1="457.7" x2="59.6" y2="459.7" stroke="#222" stroke-width="0.9"/>
<text x="59.6" y="467.5" font-size="6.8" text-anchor="middle" font-weight="bold">1</text>
<line x1="77.1" y1="457.7" x2="77.1" y2="459.7" stroke="#222" stroke-width="0.9"/>
<text x="77.1" y="467.5" font-size="6.8" text-anchor="middle" font-weight="bold">2</text>
<line x1="94.6" y1="457.7" x2="94.6" y2="459.7" stroke="#222" stroke-width="0.9"/>
<text x="94.6" y="467.5" font-size="6.8" text-anchor="middle" font-weight="bold">3</text>
<line x1="112.1" y1="457.7" x2="112.1" y2="459.7" stroke="#222" stroke-width="0.9"/>
<text x="112.1" y="467.5" font-size="6.8" text-anchor="middle" font-weight="bold">4</text>
<text x="76.6" y="370.9" font-size="8.2" text-anchor="middle">Acetate</text>
<text x="79.2" y="376.3" font-size="5.3" text-anchor="middle">(<tspan font-style="italic">r</tspan><tspan font-size="3.6" dy="1.2">s</tspan><tspan dy="-1.2"> = 0.3735; p = 0.1548</tspan>)</text>
<text x="79.7" y="475" font-size="6.6" text-anchor="middle">Mucus growth rate</text>
<text x="79.7" y="481" font-size="6.6" text-anchor="middle">[µm/min]</text>
<text x="6.54" y="418.5" font-size="6.5" text-anchor="middle" transform="rotate(-90 6.54 418.5)">[peak area]</text>
<rect x="49.9" y="417.5" width="3.8" height="3.8" fill="#ff7a72" stroke="#111" stroke-width="0.8"/>
<rect x="49.9" y="422.7" width="3.8" height="3.8" fill="#ff7a72" stroke="#111" stroke-width="0.8"/>
<rect x="54.7" y="422.2" width="3.8" height="3.8" fill="#ff7a72" stroke="#111" stroke-width="0.8"/>
<rect x="54.7" y="424.6" width="3.8" height="3.8" fill="#ff7a72" stroke="#111" stroke-width="0.8"/>
<rect x="57.6" y="413.7" width="3.8" height="3.8" fill="#ff7a72" stroke="#111" stroke-width="0.8"/>
<rect x="57.8" y="416.4" width="3.8" height="3.8" fill="#ff7a72" stroke="#111" stroke-width="0.8"/>
<rect x="53.4" y="432.6" width="3.8" height="3.8" fill="#ff7a72" stroke="#111" stroke-width="0.8"/>
<rect x="56.2" y="435.6" width="3.8" height="3.8" fill="#ff7a72" stroke="#111" stroke-width="0.8"/>
<rect x="66.3" y="411.8" width="3.8" height="3.8" fill="#0aaf7c" stroke="#111" stroke-width="0.8"/>
<rect x="80.6" y="405.7" width="3.8" height="3.8" fill="#0aaf7c" stroke="#111" stroke-width="0.8"/>
<rect x="74.8" y="425.7" width="3.8" height="3.8" fill="#0aaf7c" stroke="#111" stroke-width="0.8"/>
<rect x="76.4" y="426.1" width="3.8" height="3.8" fill="#0aaf7c" stroke="#111" stroke-width="0.8"/>
<rect x="77.7" y="427.9" width="3.8" height="3.8" fill="#0aaf7c" stroke="#111" stroke-width="0.8"/>
<rect x="80.3" y="427.6" width="3.8" height="3.8" fill="#0aaf7c" stroke="#111" stroke-width="0.8"/>
<rect x="108.2" y="387.6" width="3.8" height="3.8" fill="#0aaf7c" stroke="#111" stroke-width="0.8"/>
<line x1="145" y1="380.1" x2="145" y2="458.3" stroke="#222" stroke-width="0.9"/>
<line x1="141.8" y1="380.1" x2="145" y2="380.1" stroke="#222" stroke-width="0.9"/>
<text x="140.6" y="382.84" font-size="6.5" text-anchor="end" font-weight="bold">3×10<tspan font-size="3.58" dy="-2.15">10</tspan></text>
<line x1="141.8" y1="406.1" x2="145" y2="406.1" stroke="#222" stroke-width="0.9"/>
<text x="140.6" y="408.84" font-size="6.5" text-anchor="end" font-weight="bold">2×10<tspan font-size="3.58" dy="-2.15">10</tspan></text>
<line x1="141.8" y1="432.3" x2="145" y2="432.3" stroke="#222" stroke-width="0.9"/>
<text x="140.6" y="435.04" font-size="6.5" text-anchor="end" font-weight="bold">1×10<tspan font-size="3.58" dy="-2.15">10</tspan></text>
<line x1="141.8" y1="458.3" x2="145" y2="458.3" stroke="#222" stroke-width="0.9"/>
<text x="140.6" y="461.04" font-size="6.5" text-anchor="end" font-weight="bold">0</text>
<line x1="145" y1="458.3" x2="216" y2="458.3" stroke="#222" stroke-width="0.9"/>
<line x1="145" y1="458.3" x2="145" y2="460.3" stroke="#222" stroke-width="0.9"/>
<text x="145" y="468.1" font-size="6.8" text-anchor="middle" font-weight="bold">0</text>
<line x1="162.9" y1="458.3" x2="162.9" y2="460.3" stroke="#222" stroke-width="0.9"/>
<text x="162.9" y="468.1" font-size="6.8" text-anchor="middle" font-weight="bold">1</text>
<line x1="180.4" y1="458.3" x2="180.4" y2="460.3" stroke="#222" stroke-width="0.9"/>
<text x="180.4" y="468.1" font-size="6.8" text-anchor="middle" font-weight="bold">2</text>
<line x1="198.1" y1="458.3" x2="198.1" y2="460.3" stroke="#222" stroke-width="0.9"/>
<text x="198.1" y="468.1" font-size="6.8" text-anchor="middle" font-weight="bold">3</text>
<line x1="215.6" y1="458.3" x2="215.6" y2="460.3" stroke="#222" stroke-width="0.9"/>
<text x="215.6" y="468.1" font-size="6.8" text-anchor="middle" font-weight="bold">4</text>
<text x="181.5" y="370.9" font-size="8.2" text-anchor="middle">Propionate</text>
<text x="179.7" y="376.3" font-size="5.3" text-anchor="middle">(<tspan font-style="italic">r</tspan><tspan font-size="3.6" dy="1.2">s</tspan><tspan dy="-1.2"> = 0.5706; p = 0.0231</tspan>)</text>
<text x="183.2" y="475" font-size="6.6" text-anchor="middle">Mucus growth rate</text>
<text x="183.2" y="481" font-size="6.6" text-anchor="middle">[µm/min]</text>
<text x="118.64" y="418.5" font-size="6.5" text-anchor="middle" transform="rotate(-90 118.64 418.5)">[peak area]</text>
<line x1="159.1" y1="441.1" x2="213.7" y2="411.7" stroke="#222" stroke-width="0.8"/>
<rect x="153.6" y="439.2" width="3.8" height="3.8" fill="#ff7a72" stroke="#111" stroke-width="0.8"/>
<rect x="153.3" y="444.5" width="3.8" height="3.8" fill="#ff7a72" stroke="#111" stroke-width="0.8"/>
<rect x="156.8" y="446.2" width="3.8" height="3.8" fill="#ff7a72" stroke="#111" stroke-width="0.8"/>
<rect x="159.4" y="441.5" width="3.8" height="3.8" fill="#ff7a72" stroke="#111" stroke-width="0.8"/>
<rect x="158" y="432.5" width="3.8" height="3.8" fill="#ff7a72" stroke="#111" stroke-width="0.8"/>
<rect x="161.2" y="428.2" width="3.8" height="3.8" fill="#ff7a72" stroke="#111" stroke-width="0.8"/>
<rect x="160.7" y="421.2" width="3.8" height="3.8" fill="#ff7a72" stroke="#111" stroke-width="0.8"/>
<rect x="169.4" y="411.5" width="3.8" height="3.8" fill="#0aaf7c" stroke="#111" stroke-width="0.8"/>
<rect x="179.1" y="433.9" width="3.8" height="3.8" fill="#0aaf7c" stroke="#111" stroke-width="0.8"/>
<rect x="183.8" y="428.7" width="3.8" height="3.8" fill="#0aaf7c" stroke="#111" stroke-width="0.8"/>
<rect x="183.8" y="432.7" width="3.8" height="3.8" fill="#0aaf7c" stroke="#111" stroke-width="0.8"/>
<rect x="177.3" y="439.2" width="3.8" height="3.8" fill="#0aaf7c" stroke="#111" stroke-width="0.8"/>
<rect x="181.3" y="441.3" width="3.8" height="3.8" fill="#0aaf7c" stroke="#111" stroke-width="0.8"/>
<rect x="183.4" y="438" width="3.8" height="3.8" fill="#0aaf7c" stroke="#111" stroke-width="0.8"/>
<rect x="211.8" y="391.9" width="3.8" height="3.8" fill="#0aaf7c" stroke="#111" stroke-width="0.8"/>
<line x1="255.1" y1="378" x2="255.1" y2="458.6" stroke="#222" stroke-width="0.9"/>
<line x1="251.9" y1="378" x2="255.1" y2="378" stroke="#222" stroke-width="0.9"/>
<text x="250.7" y="380.74" font-size="6.5" text-anchor="end" font-weight="bold">2.5×10<tspan font-size="3.58" dy="-2.15">8</tspan></text>
<line x1="251.9" y1="394.3" x2="255.1" y2="394.3" stroke="#222" stroke-width="0.9"/>
<text x="250.7" y="397.04" font-size="6.5" text-anchor="end" font-weight="bold">2.0×10<tspan font-size="3.58" dy="-2.15">8</tspan></text>
<line x1="251.9" y1="410.8" x2="255.1" y2="410.8" stroke="#222" stroke-width="0.9"/>
<text x="250.7" y="413.54" font-size="6.5" text-anchor="end" font-weight="bold">1.5×10<tspan font-size="3.58" dy="-2.15">8</tspan></text>
<line x1="251.9" y1="426.6" x2="255.1" y2="426.6" stroke="#222" stroke-width="0.9"/>
<text x="250.7" y="429.34" font-size="6.5" text-anchor="end" font-weight="bold">1.0×10<tspan font-size="3.58" dy="-2.15">8</tspan></text>
<line x1="251.9" y1="442.9" x2="255.1" y2="442.9" stroke="#222" stroke-width="0.9"/>
<text x="250.7" y="445.64" font-size="6.5" text-anchor="end" font-weight="bold">5.0×10<tspan font-size="3.58" dy="-2.15">8</tspan></text>
<line x1="251.9" y1="458.6" x2="255.1" y2="458.6" stroke="#222" stroke-width="0.9"/>
<text x="250.7" y="461.34" font-size="6.5" text-anchor="end" font-weight="bold">0.0</text>
<line x1="255.1" y1="458.6" x2="328.7" y2="458.6" stroke="#222" stroke-width="0.9"/>
<line x1="255.1" y1="458.6" x2="255.1" y2="460.6" stroke="#222" stroke-width="0.9"/>
<text x="255.1" y="468.4" font-size="6.8" text-anchor="middle" font-weight="bold">0</text>
<line x1="273.7" y1="458.6" x2="273.7" y2="460.6" stroke="#222" stroke-width="0.9"/>
<text x="273.7" y="468.4" font-size="6.8" text-anchor="middle" font-weight="bold">1</text>
<line x1="291.9" y1="458.6" x2="291.9" y2="460.6" stroke="#222" stroke-width="0.9"/>
<text x="291.9" y="468.4" font-size="6.8" text-anchor="middle" font-weight="bold">2</text>
<line x1="310.3" y1="458.6" x2="310.3" y2="460.6" stroke="#222" stroke-width="0.9"/>
<text x="310.3" y="468.4" font-size="6.8" text-anchor="middle" font-weight="bold">3</text>
<line x1="328.4" y1="458.6" x2="328.4" y2="460.6" stroke="#222" stroke-width="0.9"/>
<text x="328.4" y="468.4" font-size="6.8" text-anchor="middle" font-weight="bold">4</text>
<text x="293.3" y="370.9" font-size="8.2" text-anchor="middle">Butyrate/Isobutyrate</text>
<text x="289" y="376.3" font-size="5.3" text-anchor="middle">(<tspan font-style="italic">r</tspan><tspan font-size="3.6" dy="1.2">s</tspan><tspan dy="-1.2"> = 0.0088; p = 0.9761</tspan>)</text>
<text x="295" y="475" font-size="6.6" text-anchor="middle">Mucus growth rate</text>
<text x="295" y="481" font-size="6.6" text-anchor="middle">[µm/min]</text>
<text x="228.44" y="418.5" font-size="6.5" text-anchor="middle" transform="rotate(-90 228.44 418.5)">[peak area]</text>
<rect x="271.8" y="411.7" width="3.8" height="3.8" fill="#ff7a72" stroke="#111" stroke-width="0.8"/>
<rect x="267.4" y="417.7" width="3.8" height="3.8" fill="#ff7a72" stroke="#111" stroke-width="0.8"/>
<rect x="269" y="418.2" width="3.8" height="3.8" fill="#ff7a72" stroke="#111" stroke-width="0.8"/>
<rect x="272.5" y="423.1" width="3.8" height="3.8" fill="#ff7a72" stroke="#111" stroke-width="0.8"/>
<rect x="263.9" y="435.7" width="3.8" height="3.8" fill="#ff7a72" stroke="#111" stroke-width="0.8"/>
<rect x="269" y="432.2" width="3.8" height="3.8" fill="#ff7a72" stroke="#111" stroke-width="0.8"/>
<rect x="270.4" y="435.7" width="3.8" height="3.8" fill="#ff7a72" stroke="#111" stroke-width="0.8"/>
<rect x="295.8" y="391" width="3.8" height="3.8" fill="#0aaf7c" stroke="#111" stroke-width="0.8"/>
<rect x="280.9" y="421.3" width="3.8" height="3.8" fill="#0aaf7c" stroke="#111" stroke-width="0.8"/>
<rect x="324.2" y="413.4" width="3.8" height="3.8" fill="#0aaf7c" stroke="#111" stroke-width="0.8"/>
<rect x="288.8" y="437.1" width="3.8" height="3.8" fill="#0aaf7c" stroke="#111" stroke-width="0.8"/>
<rect x="290.6" y="438.3" width="3.8" height="3.8" fill="#0aaf7c" stroke="#111" stroke-width="0.8"/>
<rect x="295.5" y="434.3" width="3.8" height="3.8" fill="#0aaf7c" stroke="#111" stroke-width="0.8"/>
<rect x="294.9" y="440.1" width="3.8" height="3.8" fill="#0aaf7c" stroke="#111" stroke-width="0.8"/>
<rect x="292.7" y="445.7" width="3.8" height="3.8" fill="#0aaf7c" stroke="#111" stroke-width="0.8"/>
<line x1="365.7" y1="378.4" x2="365.7" y2="458.6" stroke="#222" stroke-width="0.9"/>
<line x1="362.5" y1="378.4" x2="365.7" y2="378.4" stroke="#222" stroke-width="0.9"/>
<text x="361.3" y="381.14" font-size="6.5" text-anchor="end" font-weight="bold">8×10<tspan font-size="3.58" dy="-2.15">8</tspan></text>
<line x1="362.5" y1="398.2" x2="365.7" y2="398.2" stroke="#222" stroke-width="0.9"/>
<text x="361.3" y="400.94" font-size="6.5" text-anchor="end" font-weight="bold">6×10<tspan font-size="3.58" dy="-2.15">8</tspan></text>
<line x1="362.5" y1="418.3" x2="365.7" y2="418.3" stroke="#222" stroke-width="0.9"/>
<text x="361.3" y="421.04" font-size="6.5" text-anchor="end" font-weight="bold">4×10<tspan font-size="3.58" dy="-2.15">8</tspan></text>
<line x1="362.5" y1="438.5" x2="365.7" y2="438.5" stroke="#222" stroke-width="0.9"/>
<text x="361.3" y="441.24" font-size="6.5" text-anchor="end" font-weight="bold">2×10<tspan font-size="3.58" dy="-2.15">8</tspan></text>
<line x1="362.5" y1="458.6" x2="365.7" y2="458.6" stroke="#222" stroke-width="0.9"/>
<text x="361.3" y="461.34" font-size="6.5" text-anchor="end" font-weight="bold">0</text>
<line x1="365.7" y1="458.6" x2="438.7" y2="458.6" stroke="#222" stroke-width="0.9"/>
<line x1="365.7" y1="458.6" x2="365.7" y2="460.6" stroke="#222" stroke-width="0.9"/>
<text x="365.7" y="468.4" font-size="6.8" text-anchor="middle" font-weight="bold">0</text>
<line x1="384" y1="458.6" x2="384" y2="460.6" stroke="#222" stroke-width="0.9"/>
<text x="384" y="468.4" font-size="6.8" text-anchor="middle" font-weight="bold">1</text>
<line x1="402.1" y1="458.6" x2="402.1" y2="460.6" stroke="#222" stroke-width="0.9"/>
<text x="402.1" y="468.4" font-size="6.8" text-anchor="middle" font-weight="bold">2</text>
<line x1="420.5" y1="458.6" x2="420.5" y2="460.6" stroke="#222" stroke-width="0.9"/>
<text x="420.5" y="468.4" font-size="6.8" text-anchor="middle" font-weight="bold">3</text>
<line x1="438.4" y1="458.6" x2="438.4" y2="460.6" stroke="#222" stroke-width="0.9"/>
<text x="438.4" y="468.4" font-size="6.8" text-anchor="middle" font-weight="bold">4</text>
<text x="402.1" y="370.9" font-size="8.2" text-anchor="middle">Pentanoate</text>
<text x="401.2" y="376.3" font-size="5.3" text-anchor="middle">(<tspan font-style="italic">r</tspan><tspan font-size="3.6" dy="1.2">s</tspan><tspan dy="-1.2"> = -0.1176; p = 0.6845 </tspan>)</text>
<text x="405" y="475" font-size="6.6" text-anchor="middle">Mucus growth rate</text>
<text x="405" y="481" font-size="6.6" text-anchor="middle">[µm/min]</text>
<text x="341.94" y="418.5" font-size="6.5" text-anchor="middle" transform="rotate(-90 341.94 418.5)">[peak area]</text>
<rect x="382.1" y="388.7" width="3.8" height="3.8" fill="#ff7a72" stroke="#111" stroke-width="0.8"/>
<rect x="374.6" y="426.6" width="3.8" height="3.8" fill="#ff7a72" stroke="#111" stroke-width="0.8"/>
<rect x="379.5" y="427.8" width="3.8" height="3.8" fill="#ff7a72" stroke="#111" stroke-width="0.8"/>
<rect x="378.1" y="430.1" width="3.8" height="3.8" fill="#ff7a72" stroke="#111" stroke-width="0.8"/>
<rect x="382.5" y="431.8" width="3.8" height="3.8" fill="#ff7a72" stroke="#111" stroke-width="0.8"/>
<rect x="374.6" y="435.3" width="3.8" height="3.8" fill="#ff7a72" stroke="#111" stroke-width="0.8"/>
<rect x="380.4" y="441.3" width="3.8" height="3.8" fill="#ff7a72" stroke="#111" stroke-width="0.8"/>
<rect x="379.2" y="443.6" width="3.8" height="3.8" fill="#ff7a72" stroke="#111" stroke-width="0.8"/>
<rect x="391.4" y="420.3" width="3.8" height="3.8" fill="#0aaf7c" stroke="#111" stroke-width="0.8"/>
<rect x="406.3" y="415.2" width="3.8" height="3.8" fill="#0aaf7c" stroke="#111" stroke-width="0.8"/>
<rect x="405.5" y="423.4" width="3.8" height="3.8" fill="#0aaf7c" stroke="#111" stroke-width="0.8"/>
<rect x="400.9" y="432.5" width="3.8" height="3.8" fill="#0aaf7c" stroke="#111" stroke-width="0.8"/>
<rect x="399.3" y="438.3" width="3.8" height="3.8" fill="#0aaf7c" stroke="#111" stroke-width="0.8"/>
<rect x="402.7" y="441.5" width="3.8" height="3.8" fill="#0aaf7c" stroke="#111" stroke-width="0.8"/>
<rect x="405.5" y="452.3" width="3.8" height="3.8" fill="#0aaf7c" stroke="#111" stroke-width="0.8"/>
<rect x="434.2" y="444.5" width="3.8" height="3.8" fill="#0aaf7c" stroke="#111" stroke-width="0.8"/>
<line x1="481.8" y1="378.6" x2="481.8" y2="459.5" stroke="#222" stroke-width="0.9"/>
<line x1="478.6" y1="378.6" x2="481.8" y2="378.6" stroke="#222" stroke-width="0.9"/>
<text x="477.4" y="381.34" font-size="6.5" text-anchor="end" font-weight="bold">1.5×10<tspan font-size="3.58" dy="-2.15">8</tspan></text>
<line x1="478.6" y1="405.7" x2="481.8" y2="405.7" stroke="#222" stroke-width="0.9"/>
<text x="477.4" y="408.44" font-size="6.5" text-anchor="end" font-weight="bold">1.0×10<tspan font-size="3.58" dy="-2.15">8</tspan></text>
<line x1="478.6" y1="432.3" x2="481.8" y2="432.3" stroke="#222" stroke-width="0.9"/>
<text x="477.4" y="435.04" font-size="6.5" text-anchor="end" font-weight="bold">5.0×10<tspan font-size="3.58" dy="-2.15">7</tspan></text>
<line x1="478.6" y1="459.5" x2="481.8" y2="459.5" stroke="#222" stroke-width="0.9"/>
<text x="477.4" y="462.24" font-size="6.5" text-anchor="end" font-weight="bold">0.0</text>
<line x1="481.8" y1="459.5" x2="552.2" y2="459.5" stroke="#222" stroke-width="0.9"/>
<line x1="481.8" y1="459.5" x2="481.8" y2="461.5" stroke="#222" stroke-width="0.9"/>
<text x="481.8" y="469.3" font-size="6.8" text-anchor="middle" font-weight="bold">0</text>
<line x1="499.7" y1="459.5" x2="499.7" y2="461.5" stroke="#222" stroke-width="0.9"/>
<text x="499.7" y="469.3" font-size="6.8" text-anchor="middle" font-weight="bold">1</text>
<line x1="517.4" y1="459.5" x2="517.4" y2="461.5" stroke="#222" stroke-width="0.9"/>
<text x="517.4" y="469.3" font-size="6.8" text-anchor="middle" font-weight="bold">2</text>
<line x1="534.9" y1="459.5" x2="534.9" y2="461.5" stroke="#222" stroke-width="0.9"/>
<text x="534.9" y="469.3" font-size="6.8" text-anchor="middle" font-weight="bold">3</text>
<line x1="552.2" y1="459.5" x2="552.2" y2="461.5" stroke="#222" stroke-width="0.9"/>
<text x="552.2" y="469.3" font-size="6.8" text-anchor="middle" font-weight="bold">4</text>
<text x="520.3" y="370.9" font-size="8.2" text-anchor="middle">Hexanoate</text>
<text x="518.2" y="376.3" font-size="5.3" text-anchor="middle">(<tspan font-style="italic">r</tspan><tspan font-size="3.6" dy="1.2">s</tspan><tspan dy="-1.2"> = 0.5735; p = 0.0223</tspan>)</text>
<text x="522" y="475" font-size="6.6" text-anchor="middle">Mucus growth rate</text>
<text x="522" y="481" font-size="6.6" text-anchor="middle">[µm/min]</text>
<text x="451.94" y="418.5" font-size="6.5" text-anchor="middle" transform="rotate(-90 451.94 418.5)">[peak area]</text>
<line x1="492" y1="435.5" x2="550.1" y2="414.5" stroke="#222" stroke-width="0.8"/>
<rect x="497.8" y="416.4" width="3.8" height="3.8" fill="#ff7a72" stroke="#111" stroke-width="0.8"/>
<rect x="493.6" y="426.6" width="3.8" height="3.8" fill="#ff7a72" stroke="#111" stroke-width="0.8"/>
<rect x="498.3" y="423.4" width="3.8" height="3.8" fill="#ff7a72" stroke="#111" stroke-width="0.8"/>
<rect x="494.8" y="433.4" width="3.8" height="3.8" fill="#ff7a72" stroke="#111" stroke-width="0.8"/>
<rect x="490.1" y="440.6" width="3.8" height="3.8" fill="#ff7a72" stroke="#111" stroke-width="0.8"/>
<rect x="490.4" y="442.7" width="3.8" height="3.8" fill="#ff7a72" stroke="#111" stroke-width="0.8"/>
<rect x="495" y="442.7" width="3.8" height="3.8" fill="#ff7a72" stroke="#111" stroke-width="0.8"/>
<rect x="496.5" y="440.4" width="3.8" height="3.8" fill="#ff7a72" stroke="#111" stroke-width="0.8"/>
<rect x="506.5" y="396.3" width="3.8" height="3.8" fill="#0aaf7c" stroke="#111" stroke-width="0.8"/>
<rect x="520.2" y="407.7" width="3.8" height="3.8" fill="#0aaf7c" stroke="#111" stroke-width="0.8"/>
<rect x="520.7" y="419.4" width="3.8" height="3.8" fill="#0aaf7c" stroke="#111" stroke-width="0.8"/>
<rect x="515.5" y="422.2" width="3.8" height="3.8" fill="#0aaf7c" stroke="#111" stroke-width="0.8"/>
<rect x="514.1" y="433.9" width="3.8" height="3.8" fill="#0aaf7c" stroke="#111" stroke-width="0.8"/>
<rect x="517.6" y="434.8" width="3.8" height="3.8" fill="#0aaf7c" stroke="#111" stroke-width="0.8"/>
<rect x="520.7" y="436.9" width="3.8" height="3.8" fill="#0aaf7c" stroke="#111" stroke-width="0.8"/>
<rect x="547.9" y="415.9" width="3.8" height="3.8" fill="#0aaf7c" stroke="#111" stroke-width="0.8"/>
<line x1="591.6" y1="379.4" x2="591.6" y2="460.4" stroke="#222" stroke-width="0.9"/>
<line x1="588.4" y1="379.4" x2="591.6" y2="379.4" stroke="#222" stroke-width="0.9"/>
<text x="587.2" y="382.14" font-size="6.5" text-anchor="end" font-weight="bold">6×10<tspan font-size="3.58" dy="-2.15">7</tspan></text>
<line x1="588.4" y1="406.4" x2="591.6" y2="406.4" stroke="#222" stroke-width="0.9"/>
<text x="587.2" y="409.14" font-size="6.5" text-anchor="end" font-weight="bold">4×10<tspan font-size="3.58" dy="-2.15">7</tspan></text>
<line x1="588.4" y1="433.4" x2="591.6" y2="433.4" stroke="#222" stroke-width="0.9"/>
<text x="587.2" y="436.14" font-size="6.5" text-anchor="end" font-weight="bold">2×10<tspan font-size="3.58" dy="-2.15">7</tspan></text>
<line x1="588.4" y1="460.4" x2="591.6" y2="460.4" stroke="#222" stroke-width="0.9"/>
<text x="587.2" y="463.14" font-size="6.5" text-anchor="end" font-weight="bold">0</text>
<line x1="591.6" y1="460.4" x2="663.6" y2="460.4" stroke="#222" stroke-width="0.9"/>
<line x1="591.6" y1="460.4" x2="591.6" y2="462.4" stroke="#222" stroke-width="0.9"/>
<text x="591.6" y="470.2" font-size="6.8" text-anchor="middle" font-weight="bold">0</text>
<line x1="609.7" y1="460.4" x2="609.7" y2="462.4" stroke="#222" stroke-width="0.9"/>
<text x="609.7" y="470.2" font-size="6.8" text-anchor="middle" font-weight="bold">1</text>
<line x1="627.5" y1="460.4" x2="627.5" y2="462.4" stroke="#222" stroke-width="0.9"/>
<text x="627.5" y="470.2" font-size="6.8" text-anchor="middle" font-weight="bold">2</text>
<line x1="645.6" y1="460.4" x2="645.6" y2="462.4" stroke="#222" stroke-width="0.9"/>
<text x="645.6" y="470.2" font-size="6.8" text-anchor="middle" font-weight="bold">3</text>
<line x1="663.5" y1="460.4" x2="663.5" y2="462.4" stroke="#222" stroke-width="0.9"/>
<text x="663.5" y="470.2" font-size="6.8" text-anchor="middle" font-weight="bold">4</text>
<text x="629" y="370.9" font-size="8.2" text-anchor="middle">Heptanoate</text>
<text x="628.1" y="376.3" font-size="5.3" text-anchor="middle">(<tspan font-style="italic">r</tspan><tspan font-size="3.6" dy="1.2">s</tspan><tspan dy="-1.2"> = 0.4618; p = 0.0754</tspan>)</text>
<text x="630.2" y="475" font-size="6.6" text-anchor="middle">Mucus growth rate</text>
<text x="630.2" y="481" font-size="6.6" text-anchor="middle">[µm/min]</text>
<text x="568.04" y="418.5" font-size="6.5" text-anchor="middle" transform="rotate(-90 568.04 418.5)">[peak area]</text>
<rect x="607.8" y="400.3" width="3.8" height="3.8" fill="#ff7a72" stroke="#111" stroke-width="0.8"/>
<rect x="603.7" y="411.5" width="3.8" height="3.8" fill="#ff7a72" stroke="#111" stroke-width="0.8"/>
<rect x="608.3" y="412" width="3.8" height="3.8" fill="#ff7a72" stroke="#111" stroke-width="0.8"/>
<rect x="600.2" y="419" width="3.8" height="3.8" fill="#ff7a72" stroke="#111" stroke-width="0.8"/>
<rect x="605.1" y="421.3" width="3.8" height="3.8" fill="#ff7a72" stroke="#111" stroke-width="0.8"/>
<rect x="604.8" y="425.5" width="3.8" height="3.8" fill="#ff7a72" stroke="#111" stroke-width="0.8"/>
<rect x="606.5" y="432.5" width="3.8" height="3.8" fill="#ff7a72" stroke="#111" stroke-width="0.8"/>
<rect x="600.2" y="435.3" width="3.8" height="3.8" fill="#ff7a72" stroke="#111" stroke-width="0.8"/>
<rect x="630.9" y="380" width="3.8" height="3.8" fill="#0aaf7c" stroke="#111" stroke-width="0.8"/>
<rect x="616.9" y="387.8" width="3.8" height="3.8" fill="#0aaf7c" stroke="#111" stroke-width="0.8"/>
<rect x="659.4" y="395.1" width="3.8" height="3.8" fill="#0aaf7c" stroke="#111" stroke-width="0.8"/>
<rect x="631.8" y="407.7" width="3.8" height="3.8" fill="#0aaf7c" stroke="#111" stroke-width="0.8"/>
<rect x="624.4" y="415.6" width="3.8" height="3.8" fill="#0aaf7c" stroke="#111" stroke-width="0.8"/>
<rect x="626.5" y="414.7" width="3.8" height="3.8" fill="#0aaf7c" stroke="#111" stroke-width="0.8"/>
<rect x="631.4" y="418.7" width="3.8" height="3.8" fill="#0aaf7c" stroke="#111" stroke-width="0.8"/>
<rect x="628.3" y="436.6" width="3.8" height="3.8" fill="#0aaf7c" stroke="#111" stroke-width="0.8"/>
<text x="1.2" y="503.4" font-size="16" font-weight="bold">F</text>
<line x1="30.2" y1="504.7" x2="30.2" y2="585.5" stroke="#222" stroke-width="0.9"/>
<line x1="26.9" y1="507.3" x2="30.2" y2="507.3" stroke="#222" stroke-width="0.9"/>
<text x="25.9" y="510.08" font-size="6.6" text-anchor="end" font-weight="bold">4</text>
<line x1="26.9" y1="527.5" x2="30.2" y2="527.5" stroke="#222" stroke-width="0.9"/>
<text x="25.9" y="530.28" font-size="6.6" text-anchor="end" font-weight="bold">3</text>
<line x1="26.9" y1="547.8" x2="30.2" y2="547.8" stroke="#222" stroke-width="0.9"/>
<text x="25.9" y="550.58" font-size="6.6" text-anchor="end" font-weight="bold">2</text>
<line x1="26.9" y1="568.1" x2="30.2" y2="568.1" stroke="#222" stroke-width="0.9"/>
<text x="25.9" y="570.88" font-size="6.6" text-anchor="end" font-weight="bold">1</text>
<line x1="26.9" y1="585.5" x2="30.2" y2="585.5" stroke="#222" stroke-width="0.9"/>
<text x="25.9" y="588.28" font-size="6.6" text-anchor="end" font-weight="bold">0</text>
<line x1="27.2" y1="585.5" x2="127.2" y2="585.5" stroke="#222" stroke-width="0.9"/>
<line x1="39.5" y1="585.5" x2="39.5" y2="588.5" stroke="#222" stroke-width="0.9"/>
<line x1="56.2" y1="585.5" x2="56.2" y2="588.5" stroke="#222" stroke-width="0.9"/>
<line x1="72.6" y1="585.5" x2="72.6" y2="588.5" stroke="#222" stroke-width="0.9"/>
<line x1="89.2" y1="585.5" x2="89.2" y2="588.5" stroke="#222" stroke-width="0.9"/>
<line x1="105.6" y1="585.5" x2="105.6" y2="588.5" stroke="#222" stroke-width="0.9"/>
<line x1="122.2" y1="585.5" x2="122.2" y2="588.5" stroke="#222" stroke-width="0.9"/>
<line x1="64.5" y1="504.5" x2="64.5" y2="585.5" stroke="#9a9a9a" stroke-width="0.7" stroke-dasharray="3.5 1.5"/>
<line x1="99.3" y1="504.5" x2="99.3" y2="585.5" stroke="#9a9a9a" stroke-width="0.7" stroke-dasharray="3.5 1.5"/>
<line x1="39.5" y1="543.8" x2="56.2" y2="541.7" stroke="#111" stroke-width="0.75"/>
<line x1="39.5" y1="561.7" x2="56.2" y2="555.5" stroke="#111" stroke-width="0.75"/>
<line x1="39.5" y1="563.9" x2="56.2" y2="559.5" stroke="#111" stroke-width="0.75"/>
<line x1="39.5" y1="570.8" x2="56.2" y2="556.8" stroke="#111" stroke-width="0.75"/>
<line x1="39.5" y1="573.2" x2="56.2" y2="560.8" stroke="#111" stroke-width="0.75"/>
<circle cx="39.5" cy="543.8" r="1.85" fill="#000" stroke="none" stroke-width="0.6"/>
<circle cx="56.2" cy="541.7" r="1.85" fill="#000" stroke="none" stroke-width="0.6"/>
<circle cx="39.5" cy="561.7" r="1.85" fill="#000" stroke="none" stroke-width="0.6"/>
<circle cx="56.2" cy="555.5" r="1.85" fill="#000" stroke="none" stroke-width="0.6"/>
<circle cx="39.5" cy="563.9" r="1.85" fill="#000" stroke="none" stroke-width="0.6"/>
<circle cx="56.2" cy="559.5" r="1.85" fill="#000" stroke="none" stroke-width="0.6"/>
<circle cx="39.5" cy="570.8" r="1.85" fill="#000" stroke="none" stroke-width="0.6"/>
<circle cx="56.2" cy="556.8" r="1.85" fill="#000" stroke="none" stroke-width="0.6"/>
<circle cx="39.5" cy="573.2" r="1.85" fill="#000" stroke="none" stroke-width="0.6"/>
<circle cx="56.2" cy="560.8" r="1.85" fill="#000" stroke="none" stroke-width="0.6"/>
<line x1="72.6" y1="554.1" x2="89.2" y2="534.1" stroke="#111" stroke-width="0.75"/>
<line x1="72.6" y1="559.8" x2="89.2" y2="536.4" stroke="#111" stroke-width="0.75"/>
<line x1="72.6" y1="561" x2="89.2" y2="538.3" stroke="#111" stroke-width="0.75"/>
<line x1="72.6" y1="569.8" x2="89.2" y2="540.3" stroke="#111" stroke-width="0.75"/>
<circle cx="72.6" cy="554.1" r="1.85" fill="#000" stroke="none" stroke-width="0.6"/>
<circle cx="89.2" cy="534.1" r="1.85" fill="#000" stroke="none" stroke-width="0.6"/>
<circle cx="72.6" cy="559.8" r="1.85" fill="#000" stroke="none" stroke-width="0.6"/>
<circle cx="89.2" cy="536.4" r="1.85" fill="#000" stroke="none" stroke-width="0.6"/>
<circle cx="72.6" cy="561" r="1.85" fill="#000" stroke="none" stroke-width="0.6"/>
<circle cx="89.2" cy="538.3" r="1.85" fill="#000" stroke="none" stroke-width="0.6"/>
<circle cx="72.6" cy="569.8" r="1.85" fill="#000" stroke="none" stroke-width="0.6"/>
<circle cx="89.2" cy="540.3" r="1.85" fill="#000" stroke="none" stroke-width="0.6"/>
<line x1="105.6" y1="532.2" x2="122.2" y2="505.3" stroke="#111" stroke-width="0.75"/>
<line x1="105.6" y1="551.5" x2="122.2" y2="531.8" stroke="#111" stroke-width="0.75"/>
<line x1="105.6" y1="559.5" x2="122.2" y2="536.1" stroke="#111" stroke-width="0.75"/>
<line x1="105.6" y1="567.2" x2="122.2" y2="539.5" stroke="#111" stroke-width="0.75"/>
<line x1="105.6" y1="570.2" x2="122.2" y2="543" stroke="#111" stroke-width="0.75"/>
<circle cx="105.6" cy="532.2" r="1.85" fill="#000" stroke="none" stroke-width="0.6"/>
<circle cx="122.2" cy="505.3" r="1.85" fill="#000" stroke="none" stroke-width="0.6"/>
<circle cx="105.6" cy="551.5" r="1.85" fill="#000" stroke="none" stroke-width="0.6"/>
<circle cx="122.2" cy="531.8" r="1.85" fill="#000" stroke="none" stroke-width="0.6"/>
<circle cx="105.6" cy="559.5" r="1.85" fill="#000" stroke="none" stroke-width="0.6"/>
<circle cx="122.2" cy="536.1" r="1.85" fill="#000" stroke="none" stroke-width="0.6"/>
<circle cx="105.6" cy="567.2" r="1.85" fill="#000" stroke="none" stroke-width="0.6"/>
<circle cx="122.2" cy="539.5" r="1.85" fill="#000" stroke="none" stroke-width="0.6"/>
<circle cx="105.6" cy="570.2" r="1.85" fill="#000" stroke="none" stroke-width="0.6"/>
<circle cx="122.2" cy="543" r="1.85" fill="#000" stroke="none" stroke-width="0.6"/>
<text x="18.3" y="545.5" font-size="6.5" text-anchor="middle" transform="rotate(-90 18.3 545.5)">Mucus growth rate [µm/min]</text>
<text x="34.5" y="597.7" font-size="6.6" text-anchor="end">Propionate</text>
<text x="19" y="605" font-size="6.6" text-anchor="middle">[mM]</text>
<text x="40.3" y="597.7" font-size="6.4" text-anchor="middle" font-weight="bold">-</text>
<text x="56.2" y="597.7" font-size="6.4" text-anchor="middle" font-weight="bold">0.05</text>
<text x="73.4" y="597.7" font-size="6.4" text-anchor="middle" font-weight="bold">-</text>
<text x="89.2" y="597.7" font-size="6.4" text-anchor="middle" font-weight="bold">0.5</text>
<text x="106.4" y="597.7" font-size="6.4" text-anchor="middle" font-weight="bold">-</text>
<text x="122.2" y="597.7" font-size="6.4" text-anchor="middle" font-weight="bold">5</text>
<line x1="155.6" y1="504.4" x2="155.6" y2="585.2" stroke="#222" stroke-width="0.9"/>
<line x1="152.3" y1="507.4" x2="155.6" y2="507.4" stroke="#222" stroke-width="0.9"/>
<text x="151.3" y="510.18" font-size="6.6" text-anchor="end" font-weight="bold">4</text>
<line x1="152.3" y1="526.7" x2="155.6" y2="526.7" stroke="#222" stroke-width="0.9"/>
<text x="151.3" y="529.48" font-size="6.6" text-anchor="end" font-weight="bold">3</text>
<line x1="152.3" y1="546.1" x2="155.6" y2="546.1" stroke="#222" stroke-width="0.9"/>
<text x="151.3" y="548.88" font-size="6.6" text-anchor="end" font-weight="bold">2</text>
<line x1="152.3" y1="565.4" x2="155.6" y2="565.4" stroke="#222" stroke-width="0.9"/>
<text x="151.3" y="568.18" font-size="6.6" text-anchor="end" font-weight="bold">1</text>
<line x1="152.3" y1="585.2" x2="155.6" y2="585.2" stroke="#222" stroke-width="0.9"/>
<text x="151.3" y="587.98" font-size="6.6" text-anchor="end" font-weight="bold">0</text>
<line x1="152.6" y1="585.2" x2="236.3" y2="585.2" stroke="#222" stroke-width="0.9"/>
<line x1="170.3" y1="585.2" x2="170.3" y2="588.2" stroke="#222" stroke-width="0.9"/>
<line x1="187.6" y1="585.2" x2="187.6" y2="588.2" stroke="#222" stroke-width="0.9"/>
<line x1="205.45" y1="585.2" x2="205.45" y2="588.2" stroke="#222" stroke-width="0.9"/>
<line x1="223.05" y1="585.2" x2="223.05" y2="588.2" stroke="#222" stroke-width="0.9"/>
<rect x="163.3" y="560" width="14" height="25.2" fill="#fff" stroke="#2a2a2a" stroke-width="0.8"/>
<rect x="180.5" y="553.2" width="14.2" height="32" fill="#e2e2e2" stroke="#2a2a2a" stroke-width="0.8"/>
<rect x="198.2" y="536.2" width="14.5" height="49" fill="#b3b3b3" stroke="#2a2a2a" stroke-width="0.8"/>
<rect x="216" y="530.4" width="14.1" height="54.8" fill="#8b8b8b" stroke="#2a2a2a" stroke-width="0.8"/>
<line x1="170.3" y1="547.4" x2="170.3" y2="572" stroke="#222" stroke-width="0.8"/>
<line x1="165.8" y1="547.4" x2="174.8" y2="547.4" stroke="#222" stroke-width="0.8"/>
<line x1="165.8" y1="572" x2="174.8" y2="572" stroke="#222" stroke-width="0.8"/>
<line x1="187.6" y1="545.5" x2="187.6" y2="560" stroke="#222" stroke-width="0.8"/>
<line x1="183.1" y1="545.5" x2="192.1" y2="545.5" stroke="#222" stroke-width="0.8"/>
<line x1="183.1" y1="560" x2="192.1" y2="560" stroke="#222" stroke-width="0.8"/>
<line x1="205.5" y1="533.5" x2="205.5" y2="538.5" stroke="#222" stroke-width="0.8"/>
<line x1="201" y1="533.5" x2="210" y2="533.5" stroke="#222" stroke-width="0.8"/>
<line x1="201" y1="538.5" x2="210" y2="538.5" stroke="#222" stroke-width="0.8"/>
<line x1="223" y1="516.1" x2="223" y2="544.5" stroke="#222" stroke-width="0.8"/>
<line x1="218.5" y1="516.1" x2="227.5" y2="516.1" stroke="#222" stroke-width="0.8"/>
<line x1="218.5" y1="544.5" x2="227.5" y2="544.5" stroke="#222" stroke-width="0.8"/>
<circle cx="170.09" cy="531.54" r="1.85" fill="#000" stroke="none" stroke-width="0.6"/>
<circle cx="170.09" cy="543.16" r="1.85" fill="#000" stroke="none" stroke-width="0.6"/>
<circle cx="173" cy="549.93" r="1.85" fill="#000" stroke="none" stroke-width="0.6"/>
<circle cx="168.55" cy="552.83" r="1.85" fill="#000" stroke="none" stroke-width="0.6"/>
<circle cx="171.45" cy="555.16" r="1.85" fill="#000" stroke="none" stroke-width="0.6"/>
<circle cx="164.67" cy="558.64" r="1.85" fill="#000" stroke="none" stroke-width="0.6"/>
<circle cx="167.19" cy="559.41" r="1.85" fill="#000" stroke="none" stroke-width="0.6"/>
<circle cx="169.9" cy="558.64" r="1.85" fill="#000" stroke="none" stroke-width="0.6"/>
<circle cx="175.71" cy="558.64" r="1.85" fill="#000" stroke="none" stroke-width="0.6"/>
<circle cx="166.61" cy="562.51" r="1.85" fill="#000" stroke="none" stroke-width="0.6"/>
<circle cx="171.84" cy="560.96" r="1.85" fill="#000" stroke="none" stroke-width="0.6"/>
<circle cx="169.51" cy="564.83" r="1.85" fill="#000" stroke="none" stroke-width="0.6"/>
<circle cx="167.96" cy="567.74" r="1.85" fill="#000" stroke="none" stroke-width="0.6"/>
<circle cx="172.42" cy="567.16" r="1.85" fill="#000" stroke="none" stroke-width="0.6"/>
<circle cx="175.71" cy="565.22" r="1.85" fill="#000" stroke="none" stroke-width="0.6"/>
<circle cx="167.19" cy="571.03" r="1.85" fill="#000" stroke="none" stroke-width="0.6"/>
<circle cx="173" cy="569.09" r="1.85" fill="#000" stroke="none" stroke-width="0.6"/>
<circle cx="187.51" cy="540.25" r="1.85" fill="#000" stroke="none" stroke-width="0.6"/>
<circle cx="182.09" cy="558.06" r="1.85" fill="#000" stroke="none" stroke-width="0.6"/>
<circle cx="187.9" cy="555.16" r="1.85" fill="#000" stroke="none" stroke-width="0.6"/>
<circle cx="192.35" cy="553.61" r="1.85" fill="#000" stroke="none" stroke-width="0.6"/>
<circle cx="193.12" cy="557.09" r="1.85" fill="#000" stroke="none" stroke-width="0.6"/>
<circle cx="184.03" cy="556.7" r="1.85" fill="#000" stroke="none" stroke-width="0.6"/>
<circle cx="199.51" cy="533.29" r="1.85" fill="#000" stroke="none" stroke-width="0.6"/>
<circle cx="203.38" cy="537.74" r="1.85" fill="#000" stroke="none" stroke-width="0.6"/>
<circle cx="205.9" cy="536.77" r="1.85" fill="#000" stroke="none" stroke-width="0.6"/>
<circle cx="210.16" cy="536.77" r="1.85" fill="#000" stroke="none" stroke-width="0.6"/>
<circle cx="201.45" cy="538.71" r="1.85" fill="#000" stroke="none" stroke-width="0.6"/>
<circle cx="222.74" cy="505.8" r="1.85" fill="#000" stroke="none" stroke-width="0.6"/>
<circle cx="222.35" cy="531.54" r="1.85" fill="#000" stroke="none" stroke-width="0.6"/>
<circle cx="218.48" cy="534.83" r="1.85" fill="#000" stroke="none" stroke-width="0.6"/>
<circle cx="225.64" cy="537.74" r="1.85" fill="#000" stroke="none" stroke-width="0.6"/>
<circle cx="223.7" cy="543.16" r="1.85" fill="#000" stroke="none" stroke-width="0.6"/>
<path d="M170.1 525.2 V521.9 H205.3 V525.2" stroke="#333" stroke-width="0.8" fill="none"/>
<text x="187.7" y="523.3" font-size="9.5" text-anchor="middle" font-weight="bold">**</text>
<path d="M170.1 502 V498.6 H222.4 V502" stroke="#333" stroke-width="0.8" fill="none"/>
<text x="196.25" y="500" font-size="9.5" text-anchor="middle" font-weight="bold">**</text>
<text x="144.16" y="544.5" font-size="6.3" text-anchor="middle" transform="rotate(-90 144.16 544.5)">Mucus growth rate [µm/min]</text>
<text x="166.2" y="596.6" font-size="6.6" text-anchor="end">Propionate</text>
<text x="149.8" y="604" font-size="6.6" text-anchor="middle">[mM]</text>
<text x="170.6" y="596.6" font-size="6.4" text-anchor="middle" font-weight="bold">-</text>
<text x="187.9" y="596.6" font-size="6.4" text-anchor="middle" font-weight="bold">0.05</text>
<text x="205.3" y="596.6" font-size="6.4" text-anchor="middle" font-weight="bold">0.5</text>
<text x="222.7" y="596.6" font-size="6.4" text-anchor="middle" font-weight="bold">5</text>
<text x="238.6" y="503.2" font-size="16" font-weight="bold">G</text>
<line x1="269.4" y1="502.9" x2="269.4" y2="584.2" stroke="#222" stroke-width="0.9"/>
<line x1="266.1" y1="502.9" x2="269.4" y2="502.9" stroke="#222" stroke-width="0.9"/>
<text x="265.1" y="505.68" font-size="6.6" text-anchor="end" font-weight="bold">4</text>
<line x1="266.1" y1="523.2" x2="269.4" y2="523.2" stroke="#222" stroke-width="0.9"/>
<text x="265.1" y="525.98" font-size="6.6" text-anchor="end" font-weight="bold">3</text>
<line x1="266.1" y1="543.5" x2="269.4" y2="543.5" stroke="#222" stroke-width="0.9"/>
<text x="265.1" y="546.28" font-size="6.6" text-anchor="end" font-weight="bold">2</text>
<line x1="266.1" y1="563.9" x2="269.4" y2="563.9" stroke="#222" stroke-width="0.9"/>
<text x="265.1" y="566.68" font-size="6.6" text-anchor="end" font-weight="bold">1</text>
<line x1="266.1" y1="584.2" x2="269.4" y2="584.2" stroke="#222" stroke-width="0.9"/>
<text x="265.1" y="586.98" font-size="6.6" text-anchor="end" font-weight="bold">0</text>
<line x1="269.4" y1="584.2" x2="323.2" y2="584.2" stroke="#222" stroke-width="0.9"/>
<line x1="284.5" y1="584.2" x2="284.5" y2="587.2" stroke="#222" stroke-width="0.9"/>
<line x1="308.5" y1="584.2" x2="308.5" y2="587.2" stroke="#222" stroke-width="0.9"/>
<line x1="284.9" y1="544.1" x2="308.3" y2="508.1" stroke="#111" stroke-width="0.75"/>
<line x1="284.9" y1="546.4" x2="308.3" y2="520.7" stroke="#111" stroke-width="0.75"/>
<line x1="284.9" y1="549" x2="308.3" y2="516.8" stroke="#111" stroke-width="0.75"/>
<line x1="284.9" y1="550.9" x2="308.3" y2="531.5" stroke="#111" stroke-width="0.75"/>
<line x1="284.9" y1="552.8" x2="308.3" y2="524.8" stroke="#111" stroke-width="0.75"/>
<line x1="284.9" y1="560.4" x2="308.3" y2="524.8" stroke="#111" stroke-width="0.75"/>
<circle cx="284.9" cy="544.1" r="1.85" fill="#000" stroke="none" stroke-width="0.6"/>
<circle cx="308.3" cy="508.1" r="1.85" fill="#000" stroke="none" stroke-width="0.6"/>
<circle cx="284.9" cy="546.4" r="1.85" fill="#000" stroke="none" stroke-width="0.6"/>
<circle cx="308.3" cy="520.7" r="1.85" fill="#000" stroke="none" stroke-width="0.6"/>
<circle cx="284.9" cy="549" r="1.85" fill="#000" stroke="none" stroke-width="0.6"/>
<circle cx="308.3" cy="516.8" r="1.85" fill="#000" stroke="none" stroke-width="0.6"/>
<circle cx="284.9" cy="550.9" r="1.85" fill="#000" stroke="none" stroke-width="0.6"/>
<circle cx="308.3" cy="531.5" r="1.85" fill="#000" stroke="none" stroke-width="0.6"/>
<circle cx="284.9" cy="552.8" r="1.85" fill="#000" stroke="none" stroke-width="0.6"/>
<circle cx="308.3" cy="524.8" r="1.85" fill="#000" stroke="none" stroke-width="0.6"/>
<circle cx="284.9" cy="560.4" r="1.85" fill="#000" stroke="none" stroke-width="0.6"/>
<circle cx="308.3" cy="524.8" r="1.85" fill="#000" stroke="none" stroke-width="0.6"/>
<path d="M284.5 504.4 V501.4 H308.7 V504.4" stroke="#333" stroke-width="0.8" fill="none"/>
<text x="296.6" y="502" font-size="9.5" text-anchor="middle" font-weight="bold">**</text>
<text x="256.5" y="542.6" font-size="6.5" text-anchor="middle" transform="rotate(-90 256.5 542.6)">Mucus growth rate [µm/min]</text>
<text font-size="7" text-anchor="middle" transform="translate(284.5 584.2) rotate(-45)"><tspan x="-9.6" y="4">BHI</tspan><tspan x="-9.6" y="10.5">control</tspan></text>
<text font-size="7" text-anchor="middle" transform="translate(308.5 584.2) rotate(-45)"><tspan x="-14.98" y="2.7"><tspan font-style="italic">B. coc</tspan></tspan><tspan x="-14.98" y="9">supernatant</tspan></text>
<text x="325.3" y="503" font-size="16" font-weight="bold">H</text>
<line x1="364.9" y1="501.9" x2="364.9" y2="583.8" stroke="#222" stroke-width="0.9"/>
<line x1="361.6" y1="501.9" x2="364.9" y2="501.9" stroke="#222" stroke-width="0.9"/>
<text x="360.6" y="504.68" font-size="6.6" text-anchor="end" font-weight="bold">2.5</text>
<line x1="361.6" y1="518.4" x2="364.9" y2="518.4" stroke="#222" stroke-width="0.9"/>
<text x="360.6" y="521.18" font-size="6.6" text-anchor="end" font-weight="bold">2.0</text>
<line x1="361.6" y1="534.8" x2="364.9" y2="534.8" stroke="#222" stroke-width="0.9"/>
<text x="360.6" y="537.58" font-size="6.6" text-anchor="end" font-weight="bold">1.5</text>
<line x1="361.6" y1="551.3" x2="364.9" y2="551.3" stroke="#222" stroke-width="0.9"/>
<text x="360.6" y="554.08" font-size="6.6" text-anchor="end" font-weight="bold">1.0</text>
<line x1="361.6" y1="567.3" x2="364.9" y2="567.3" stroke="#222" stroke-width="0.9"/>
<text x="360.6" y="570.08" font-size="6.6" text-anchor="end" font-weight="bold">0.5</text>
<line x1="361.6" y1="583.8" x2="364.9" y2="583.8" stroke="#222" stroke-width="0.9"/>
<text x="360.6" y="586.58" font-size="6.6" text-anchor="end" font-weight="bold">0.0</text>
<line x1="364.9" y1="583.8" x2="412.5" y2="583.8" stroke="#222" stroke-width="0.9"/>
<line x1="380.2" y1="583.8" x2="380.2" y2="586.8" stroke="#222" stroke-width="0.9"/>
<line x1="403.6" y1="583.8" x2="403.6" y2="586.8" stroke="#222" stroke-width="0.9"/>
<line x1="380.4" y1="540.6" x2="403.6" y2="511.2" stroke="#111" stroke-width="0.75"/>
<line x1="380.4" y1="543.2" x2="403.6" y2="530" stroke="#111" stroke-width="0.75"/>
<line x1="380.4" y1="544.1" x2="403.6" y2="527.7" stroke="#111" stroke-width="0.75"/>
<line x1="380.4" y1="554.2" x2="403.6" y2="535.4" stroke="#111" stroke-width="0.75"/>
<line x1="380.4" y1="561" x2="403.6" y2="543.2" stroke="#111" stroke-width="0.75"/>
<line x1="380.4" y1="562.9" x2="403.6" y2="552.3" stroke="#111" stroke-width="0.75"/>
<line x1="380.4" y1="563.9" x2="403.6" y2="531.9" stroke="#111" stroke-width="0.75"/>
<circle cx="380.4" cy="540.6" r="1.85" fill="#000" stroke="none" stroke-width="0.6"/>
<circle cx="403.6" cy="511.2" r="1.85" fill="#000" stroke="none" stroke-width="0.6"/>
<circle cx="380.4" cy="543.2" r="1.85" fill="#000" stroke="none" stroke-width="0.6"/>
<circle cx="403.6" cy="530" r="1.85" fill="#000" stroke="none" stroke-width="0.6"/>
<circle cx="380.4" cy="544.1" r="1.85" fill="#000" stroke="none" stroke-width="0.6"/>
<circle cx="403.6" cy="527.7" r="1.85" fill="#000" stroke="none" stroke-width="0.6"/>
<circle cx="380.4" cy="554.2" r="1.85" fill="#000" stroke="none" stroke-width="0.6"/>
<circle cx="403.6" cy="535.4" r="1.85" fill="#000" stroke="none" stroke-width="0.6"/>
<circle cx="380.4" cy="561" r="1.85" fill="#000" stroke="none" stroke-width="0.6"/>
<circle cx="403.6" cy="543.2" r="1.85" fill="#000" stroke="none" stroke-width="0.6"/>
<circle cx="380.4" cy="562.9" r="1.85" fill="#000" stroke="none" stroke-width="0.6"/>
<circle cx="403.6" cy="552.3" r="1.85" fill="#000" stroke="none" stroke-width="0.6"/>
<circle cx="380.4" cy="563.9" r="1.85" fill="#000" stroke="none" stroke-width="0.6"/>
<circle cx="403.6" cy="531.9" r="1.85" fill="#000" stroke="none" stroke-width="0.6"/>
<path d="M378.1 504.5 V501.9 H403.6 V504.5" stroke="#333" stroke-width="0.8" fill="none"/>
<text x="390.85" y="502.4" font-size="9.5" text-anchor="middle" font-weight="bold">*</text>
<text x="347" y="543" font-size="6.5" text-anchor="middle" transform="rotate(-90 347 543)">Mucus growth rate [µm/min]</text>
<text font-size="6.4" text-anchor="middle" transform="translate(380.6 583.8) rotate(-45)"><tspan x="-12.67" y="3.1">Cecal</tspan><tspan x="-12.67" y="9.1">community</tspan></text>
<text font-size="6.4" text-anchor="middle" transform="translate(403.5 583.8) rotate(-45)"><tspan x="-12.97" y="2.8"><tspan font-style="italic">B. coc</tspan></tspan><tspan x="-12.97" y="8.8">+ cecal</tspan><tspan x="-12.97" y="14.8">community</tspan></text>
<text x="424.6" y="502.6" font-size="16" font-weight="bold">I</text>
<line x1="445.5" y1="502.1" x2="445.5" y2="584.9" stroke="#222" stroke-width="0.9"/>
<line x1="442.2" y1="502.1" x2="445.5" y2="502.1" stroke="#222" stroke-width="0.9"/>
<text x="441.2" y="504.88" font-size="6.6" text-anchor="end" font-weight="bold">10</text>
<line x1="442.2" y1="518.6" x2="445.5" y2="518.6" stroke="#222" stroke-width="0.9"/>
<text x="441.2" y="521.38" font-size="6.6" text-anchor="end" font-weight="bold">8</text>
<line x1="442.2" y1="535.4" x2="445.5" y2="535.4" stroke="#222" stroke-width="0.9"/>
<text x="441.2" y="538.18" font-size="6.6" text-anchor="end" font-weight="bold">6</text>
<line x1="442.2" y1="551.7" x2="445.5" y2="551.7" stroke="#222" stroke-width="0.9"/>
<text x="441.2" y="554.48" font-size="6.6" text-anchor="end" font-weight="bold">4</text>
<line x1="442.2" y1="568.5" x2="445.5" y2="568.5" stroke="#222" stroke-width="0.9"/>
<text x="441.2" y="571.28" font-size="6.6" text-anchor="end" font-weight="bold">2</text>
<line x1="442.2" y1="584.9" x2="445.5" y2="584.9" stroke="#222" stroke-width="0.9"/>
<text x="441.2" y="587.68" font-size="6.6" text-anchor="end" font-weight="bold">0</text>
<line x1="445.5" y1="584.9" x2="484.4" y2="584.9" stroke="#222" stroke-width="0.9"/>
<line x1="455.5" y1="584.9" x2="455.5" y2="587.9" stroke="#222" stroke-width="0.9"/>
<line x1="474.6" y1="584.9" x2="474.6" y2="587.9" stroke="#222" stroke-width="0.9"/>
<rect x="449" y="576.3" width="12.9" height="8.6" fill="#fff" stroke="#2a2a2a" stroke-width="0.8"/>
<rect x="468.4" y="512.9" width="12.5" height="72" fill="#fff" stroke="#2a2a2a" stroke-width="0.8"/>
<line x1="474.6" y1="503.1" x2="474.6" y2="521.5" stroke="#222" stroke-width="0.8"/>
<line x1="470.6" y1="503.1" x2="478.6" y2="503.1" stroke="#222" stroke-width="0.8"/>
<line x1="470.6" y1="521.5" x2="478.6" y2="521.5" stroke="#222" stroke-width="0.8"/>
<circle cx="450.9" cy="576.3" r="1.85" fill="#000" stroke="none" stroke-width="0.6"/>
<circle cx="455.3" cy="576.3" r="1.85" fill="#000" stroke="none" stroke-width="0.6"/>
<circle cx="459.8" cy="576.3" r="1.85" fill="#000" stroke="none" stroke-width="0.6"/>
<circle cx="474.8" cy="503.3" r="1.85" fill="#000" stroke="none" stroke-width="0.6"/>
<circle cx="469.9" cy="518" r="1.85" fill="#000" stroke="none" stroke-width="0.6"/>
<circle cx="479.3" cy="517" r="1.85" fill="#000" stroke="none" stroke-width="0.6"/>
<text x="462.9" y="501" font-size="8.3" text-anchor="middle">Acetate</text>
<text x="433.3" y="543.6" font-size="6.5" text-anchor="middle" transform="rotate(-90 433.3 543.6)">fold change [peak area]</text>
<text font-size="6.6" text-anchor="middle" transform="translate(455.5 584.9) rotate(-45)"><tspan x="-10.1" y="1.9">BHI</tspan><tspan x="-10.1" y="8.2">control</tspan></text>
<text font-size="6.6" text-anchor="middle" transform="translate(474.6 584.9) rotate(-45)"><tspan x="-13.43" y="2.1"><tspan font-style="italic">B. coc</tspan></tspan><tspan x="-13.43" y="8.4">supernatant</tspan></text>
<line x1="500.7" y1="502.1" x2="500.7" y2="584.9" stroke="#222" stroke-width="0.9"/>
<line x1="497.4" y1="502.1" x2="500.7" y2="502.1" stroke="#222" stroke-width="0.9"/>
<text x="496.4" y="504.88" font-size="6.6" text-anchor="end" font-weight="bold">10</text>
<line x1="497.4" y1="518.6" x2="500.7" y2="518.6" stroke="#222" stroke-width="0.9"/>
<text x="496.4" y="521.38" font-size="6.6" text-anchor="end" font-weight="bold">8</text>
<line x1="497.4" y1="535.4" x2="500.7" y2="535.4" stroke="#222" stroke-width="0.9"/>
<text x="496.4" y="538.18" font-size="6.6" text-anchor="end" font-weight="bold">6</text>
<line x1="497.4" y1="551.7" x2="500.7" y2="551.7" stroke="#222" stroke-width="0.9"/>
<text x="496.4" y="554.48" font-size="6.6" text-anchor="end" font-weight="bold">4</text>
<line x1="497.4" y1="568.5" x2="500.7" y2="568.5" stroke="#222" stroke-width="0.9"/>
<text x="496.4" y="571.28" font-size="6.6" text-anchor="end" font-weight="bold">2</text>
<line x1="497.4" y1="584.9" x2="500.7" y2="584.9" stroke="#222" stroke-width="0.9"/>
<text x="496.4" y="587.68" font-size="6.6" text-anchor="end" font-weight="bold">0</text>
<line x1="500.7" y1="584.9" x2="539.6" y2="584.9" stroke="#222" stroke-width="0.9"/>
<line x1="510.9" y1="584.9" x2="510.9" y2="587.9" stroke="#222" stroke-width="0.9"/>
<line x1="529.8" y1="584.9" x2="529.8" y2="587.9" stroke="#222" stroke-width="0.9"/>
<rect x="504.2" y="576.3" width="13.5" height="8.6" fill="#fff" stroke="#2a2a2a" stroke-width="0.8"/>
<rect x="523.2" y="576.3" width="13.3" height="8.6" fill="#fff" stroke="#2a2a2a" stroke-width="0.8"/>
<circle cx="506.3" cy="576.3" r="1.85" fill="#000" stroke="none" stroke-width="0.6"/>
<circle cx="510.9" cy="576.3" r="1.85" fill="#000" stroke="none" stroke-width="0.6"/>
<circle cx="515.4" cy="576.3" r="1.85" fill="#000" stroke="none" stroke-width="0.6"/>
<circle cx="525.4" cy="576.3" r="1.85" fill="#000" stroke="none" stroke-width="0.6"/>
<circle cx="529.9" cy="576.3" r="1.85" fill="#000" stroke="none" stroke-width="0.6"/>
<circle cx="534.3" cy="576.3" r="1.85" fill="#000" stroke="none" stroke-width="0.6"/>
<text x="522.2" y="501" font-size="8.3" text-anchor="middle">Propionate</text>
<text font-size="6.6" text-anchor="middle" transform="translate(510.9 584.9) rotate(-45)"><tspan x="-10.1" y="1.9">BHI</tspan><tspan x="-10.1" y="8.2">control</tspan></text>
<text font-size="6.6" text-anchor="middle" transform="translate(529.8 584.9) rotate(-45)"><tspan x="-13.43" y="2.1"><tspan font-style="italic">B. coc</tspan></tspan><tspan x="-13.43" y="8.4">supernatant</tspan></text>
<text x="550" y="502.9" font-size="16" font-weight="bold">J</text>
<line x1="576.7" y1="500.2" x2="576.7" y2="584.9" stroke="#222" stroke-width="0.9"/>
<line x1="573.4" y1="500.2" x2="576.7" y2="500.2" stroke="#222" stroke-width="0.9"/>
<text x="572.4" y="502.98" font-size="6.6" text-anchor="end" font-weight="bold">2.0</text>
<line x1="573.4" y1="521.5" x2="576.7" y2="521.5" stroke="#222" stroke-width="0.9"/>
<text x="572.4" y="524.28" font-size="6.6" text-anchor="end" font-weight="bold">1.5</text>
<line x1="573.4" y1="542.6" x2="576.7" y2="542.6" stroke="#222" stroke-width="0.9"/>
<text x="572.4" y="545.38" font-size="6.6" text-anchor="end" font-weight="bold">1.0</text>
<line x1="573.4" y1="563.6" x2="576.7" y2="563.6" stroke="#222" stroke-width="0.9"/>
<text x="572.4" y="566.38" font-size="6.6" text-anchor="end" font-weight="bold">0.5</text>
<line x1="573.4" y1="584.9" x2="576.7" y2="584.9" stroke="#222" stroke-width="0.9"/>
<text x="572.4" y="587.68" font-size="6.6" text-anchor="end" font-weight="bold">0.0</text>
<line x1="576.7" y1="584.9" x2="615.5" y2="584.9" stroke="#222" stroke-width="0.9"/>
<line x1="588.2" y1="584.9" x2="588.2" y2="587.9" stroke="#222" stroke-width="0.9"/>
<line x1="607" y1="584.9" x2="607" y2="587.9" stroke="#222" stroke-width="0.9"/>
<rect x="581.8" y="542.6" width="12.9" height="42.3" fill="#fff" stroke="#2a2a2a" stroke-width="0.8"/>
<rect x="600.6" y="513.3" width="12.9" height="71.6" fill="#fff" stroke="#2a2a2a" stroke-width="0.8"/>
<line x1="588.2" y1="539.1" x2="588.2" y2="545.2" stroke="#222" stroke-width="0.8"/>
<line x1="584.2" y1="539.1" x2="592.2" y2="539.1" stroke="#222" stroke-width="0.8"/>
<line x1="584.2" y1="545.2" x2="592.2" y2="545.2" stroke="#222" stroke-width="0.8"/>
<line x1="607" y1="511.5" x2="607" y2="515" stroke="#222" stroke-width="0.8"/>
<line x1="603" y1="511.5" x2="611" y2="511.5" stroke="#222" stroke-width="0.8"/>
<line x1="603" y1="515" x2="611" y2="515" stroke="#222" stroke-width="0.8"/>
<circle cx="585.3" cy="539.5" r="1.85" fill="#000" stroke="none" stroke-width="0.6"/>
<circle cx="591" cy="541.5" r="1.85" fill="#000" stroke="none" stroke-width="0.6"/>
<circle cx="587.9" cy="545.6" r="1.85" fill="#000" stroke="none" stroke-width="0.6"/>
<circle cx="604.3" cy="511.5" r="1.85" fill="#000" stroke="none" stroke-width="0.6"/>
<circle cx="607.3" cy="513.5" r="1.85" fill="#000" stroke="none" stroke-width="0.6"/>
<circle cx="610" cy="513.5" r="1.85" fill="#000" stroke="none" stroke-width="0.6"/>
<text x="598.5" y="501" font-size="8.3" text-anchor="middle">Acetate</text>
<text x="561.8" y="543" font-size="6.5" text-anchor="middle" transform="rotate(-90 561.8 543)">fold change [peak area]</text>
<text font-size="6.2" text-anchor="middle" transform="translate(588.2 584.9) rotate(-45)"><tspan x="-11.79" y="2.7">Cecal</tspan><tspan x="-11.79" y="8.3">community</tspan></text>
<text font-size="6.2" text-anchor="middle" transform="translate(607 584.9) rotate(-45)"><tspan x="-11.79" y="2.1"><tspan font-style="italic">B. coc</tspan></tspan><tspan x="-11.79" y="7.9">+ cecal</tspan><tspan x="-11.79" y="13.7">community</tspan></text>
<line x1="635.9" y1="500.2" x2="635.9" y2="584.9" stroke="#222" stroke-width="0.9"/>
<line x1="632.6" y1="500.2" x2="635.9" y2="500.2" stroke="#222" stroke-width="0.9"/>
<text x="631.6" y="502.98" font-size="6.6" text-anchor="end" font-weight="bold">2.0</text>
<line x1="632.6" y1="521.5" x2="635.9" y2="521.5" stroke="#222" stroke-width="0.9"/>
<text x="631.6" y="524.28" font-size="6.6" text-anchor="end" font-weight="bold">1.5</text>
<line x1="632.6" y1="542.6" x2="635.9" y2="542.6" stroke="#222" stroke-width="0.9"/>
<text x="631.6" y="545.38" font-size="6.6" text-anchor="end" font-weight="bold">1.0</text>
<line x1="632.6" y1="563.6" x2="635.9" y2="563.6" stroke="#222" stroke-width="0.9"/>
<text x="631.6" y="566.38" font-size="6.6" text-anchor="end" font-weight="bold">0.5</text>
<line x1="632.6" y1="584.9" x2="635.9" y2="584.9" stroke="#222" stroke-width="0.9"/>
<text x="631.6" y="587.68" font-size="6.6" text-anchor="end" font-weight="bold">0.0</text>
<line x1="635.9" y1="584.9" x2="675.8" y2="584.9" stroke="#222" stroke-width="0.9"/>
<line x1="648.6" y1="584.9" x2="648.6" y2="587.9" stroke="#222" stroke-width="0.9"/>
<line x1="667.6" y1="584.9" x2="667.6" y2="587.9" stroke="#222" stroke-width="0.9"/>
<rect x="642.1" y="541.9" width="12.9" height="43" fill="#fff" stroke="#2a2a2a" stroke-width="0.8"/>
<rect x="661.1" y="553.2" width="13.1" height="31.7" fill="#fff" stroke="#2a2a2a" stroke-width="0.8"/>
<line x1="648.6" y1="530.9" x2="648.6" y2="553.4" stroke="#222" stroke-width="0.8"/>
<line x1="644.6" y1="530.9" x2="652.6" y2="530.9" stroke="#222" stroke-width="0.8"/>
<line x1="644.6" y1="553.4" x2="652.6" y2="553.4" stroke="#222" stroke-width="0.8"/>
<line x1="667.6" y1="543.2" x2="667.6" y2="562.4" stroke="#222" stroke-width="0.8"/>
<line x1="663.6" y1="543.2" x2="671.6" y2="543.2" stroke="#222" stroke-width="0.8"/>
<line x1="663.6" y1="562.4" x2="671.6" y2="562.4" stroke="#222" stroke-width="0.8"/>
<circle cx="649.2" cy="530.9" r="1.85" fill="#000" stroke="none" stroke-width="0.6"/>
<circle cx="649.2" cy="544.6" r="1.85" fill="#000" stroke="none" stroke-width="0.6"/>
<circle cx="649.2" cy="552.2" r="1.85" fill="#000" stroke="none" stroke-width="0.6"/>
<circle cx="667.6" cy="541.5" r="1.85" fill="#000" stroke="none" stroke-width="0.6"/>
<circle cx="667.6" cy="556.9" r="1.85" fill="#000" stroke="none" stroke-width="0.6"/>
<circle cx="667.6" cy="561.4" r="1.85" fill="#000" stroke="none" stroke-width="0.6"/>
<text x="659.9" y="501" font-size="8.3" text-anchor="middle">Propionate</text>
<text font-size="6.2" text-anchor="middle" transform="translate(648.6 584.9) rotate(-45)"><tspan x="-11.79" y="2.7">Cecal</tspan><tspan x="-11.79" y="8.3">community</tspan></text>
<text font-size="6.2" text-anchor="middle" transform="translate(667.6 584.9) rotate(-45)"><tspan x="-11.79" y="2.1"><tspan font-style="italic">B. coc</tspan></tspan><tspan x="-11.79" y="7.9">+ cecal</tspan><tspan x="-11.79" y="13.7">community</tspan></text>
<text x="-0.6" y="632.9" font-size="16" font-weight="bold">K</text>
<line x1="32.8" y1="634.8" x2="32.8" y2="715.1" stroke="#222" stroke-width="0.9"/>
<line x1="29.5" y1="635.8" x2="32.8" y2="635.8" stroke="#222" stroke-width="0.9"/>
<text x="28.5" y="638.58" font-size="6.6" text-anchor="end" font-weight="bold">6</text>
<line x1="29.5" y1="662.3" x2="32.8" y2="662.3" stroke="#222" stroke-width="0.9"/>
<text x="28.5" y="665.08" font-size="6.6" text-anchor="end" font-weight="bold">4</text>
<line x1="29.5" y1="688.9" x2="32.8" y2="688.9" stroke="#222" stroke-width="0.9"/>
<text x="28.5" y="691.68" font-size="6.6" text-anchor="end" font-weight="bold">2</text>
<line x1="29.5" y1="714.9" x2="32.8" y2="714.9" stroke="#222" stroke-width="0.9"/>
<text x="28.5" y="717.68" font-size="6.6" text-anchor="end" font-weight="bold">0</text>
<line x1="29.8" y1="715.1" x2="129" y2="715.1" stroke="#222" stroke-width="0.9"/>
<line x1="41.4" y1="715.1" x2="41.4" y2="718.1" stroke="#222" stroke-width="0.9"/>
<line x1="57.7" y1="715.1" x2="57.7" y2="718.1" stroke="#222" stroke-width="0.9"/>
<line x1="74.3" y1="715.1" x2="74.3" y2="718.1" stroke="#222" stroke-width="0.9"/>
<line x1="90.6" y1="715.1" x2="90.6" y2="718.1" stroke="#222" stroke-width="0.9"/>
<line x1="107.5" y1="715.1" x2="107.5" y2="718.1" stroke="#222" stroke-width="0.9"/>
<line x1="123.4" y1="715.1" x2="123.4" y2="718.1" stroke="#222" stroke-width="0.9"/>
<line x1="66.3" y1="634.5" x2="66.3" y2="715.1" stroke="#9a9a9a" stroke-width="0.7" stroke-dasharray="3.5 1.5"/>
<line x1="100.5" y1="634.5" x2="100.5" y2="715.1" stroke="#9a9a9a" stroke-width="0.7" stroke-dasharray="3.5 1.5"/>
<line x1="41.4" y1="684.6" x2="57.7" y2="687.6" stroke="#111" stroke-width="0.75"/>
<line x1="41.4" y1="687.6" x2="57.7" y2="694.6" stroke="#111" stroke-width="0.75"/>
<line x1="41.4" y1="693.2" x2="57.7" y2="705.1" stroke="#111" stroke-width="0.75"/>
<line x1="41.4" y1="694.6" x2="57.7" y2="690.2" stroke="#111" stroke-width="0.75"/>
<line x1="41.4" y1="700.5" x2="57.7" y2="687.6" stroke="#111" stroke-width="0.75"/>
<circle cx="41.4" cy="684.6" r="1.85" fill="#000" stroke="none" stroke-width="0.6"/>
<circle cx="57.7" cy="687.6" r="1.85" fill="#000" stroke="none" stroke-width="0.6"/>
<circle cx="41.4" cy="687.6" r="1.85" fill="#000" stroke="none" stroke-width="0.6"/>
<circle cx="57.7" cy="694.6" r="1.85" fill="#000" stroke="none" stroke-width="0.6"/>
<circle cx="41.4" cy="693.2" r="1.85" fill="#000" stroke="none" stroke-width="0.6"/>
<circle cx="57.7" cy="705.1" r="1.85" fill="#000" stroke="none" stroke-width="0.6"/>
<circle cx="41.4" cy="694.6" r="1.85" fill="#000" stroke="none" stroke-width="0.6"/>
<circle cx="57.7" cy="690.2" r="1.85" fill="#000" stroke="none" stroke-width="0.6"/>
<circle cx="41.4" cy="700.5" r="1.85" fill="#000" stroke="none" stroke-width="0.6"/>
<circle cx="57.7" cy="687.6" r="1.85" fill="#000" stroke="none" stroke-width="0.6"/>
<line x1="74.3" y1="691.6" x2="90.6" y2="679.2" stroke="#111" stroke-width="0.75"/>
<line x1="74.3" y1="694" x2="90.6" y2="683.6" stroke="#111" stroke-width="0.75"/>
<line x1="74.3" y1="697.5" x2="90.6" y2="701.9" stroke="#111" stroke-width="0.75"/>
<line x1="74.3" y1="706.5" x2="90.6" y2="703.5" stroke="#111" stroke-width="0.75"/>
<line x1="74.3" y1="707.9" x2="90.6" y2="704.5" stroke="#111" stroke-width="0.75"/>
<circle cx="74.3" cy="691.6" r="1.85" fill="#000" stroke="none" stroke-width="0.6"/>
<circle cx="90.6" cy="679.2" r="1.85" fill="#000" stroke="none" stroke-width="0.6"/>
<circle cx="74.3" cy="694" r="1.85" fill="#000" stroke="none" stroke-width="0.6"/>
<circle cx="90.6" cy="683.6" r="1.85" fill="#000" stroke="none" stroke-width="0.6"/>
<circle cx="74.3" cy="697.5" r="1.85" fill="#000" stroke="none" stroke-width="0.6"/>
<circle cx="90.6" cy="701.9" r="1.85" fill="#000" stroke="none" stroke-width="0.6"/>
<circle cx="74.3" cy="706.5" r="1.85" fill="#000" stroke="none" stroke-width="0.6"/>
<circle cx="90.6" cy="703.5" r="1.85" fill="#000" stroke="none" stroke-width="0.6"/>
<circle cx="74.3" cy="707.9" r="1.85" fill="#000" stroke="none" stroke-width="0.6"/>
<circle cx="90.6" cy="704.5" r="1.85" fill="#000" stroke="none" stroke-width="0.6"/>
<line x1="107.5" y1="679" x2="123.4" y2="662.7" stroke="#111" stroke-width="0.75"/>
<line x1="107.5" y1="683.6" x2="123.4" y2="681.2" stroke="#111" stroke-width="0.75"/>
<line x1="107.5" y1="690.6" x2="123.4" y2="645.8" stroke="#111" stroke-width="0.75"/>
<line x1="107.5" y1="694" x2="123.4" y2="667.3" stroke="#111" stroke-width="0.75"/>
<line x1="107.5" y1="696.6" x2="123.4" y2="668.7" stroke="#111" stroke-width="0.75"/>
<line x1="107.5" y1="696.6" x2="123.4" y2="690.6" stroke="#111" stroke-width="0.75"/>
<circle cx="107.5" cy="679" r="1.85" fill="#000" stroke="none" stroke-width="0.6"/>
<circle cx="123.4" cy="662.7" r="1.85" fill="#000" stroke="none" stroke-width="0.6"/>
<circle cx="107.5" cy="683.6" r="1.85" fill="#000" stroke="none" stroke-width="0.6"/>
<circle cx="123.4" cy="681.2" r="1.85" fill="#000" stroke="none" stroke-width="0.6"/>
<circle cx="107.5" cy="690.6" r="1.85" fill="#000" stroke="none" stroke-width="0.6"/>
<circle cx="123.4" cy="645.8" r="1.85" fill="#000" stroke="none" stroke-width="0.6"/>
<circle cx="107.5" cy="694" r="1.85" fill="#000" stroke="none" stroke-width="0.6"/>
<circle cx="123.4" cy="667.3" r="1.85" fill="#000" stroke="none" stroke-width="0.6"/>
<circle cx="107.5" cy="696.6" r="1.85" fill="#000" stroke="none" stroke-width="0.6"/>
<circle cx="123.4" cy="668.7" r="1.85" fill="#000" stroke="none" stroke-width="0.6"/>
<circle cx="107.5" cy="696.6" r="1.85" fill="#000" stroke="none" stroke-width="0.6"/>
<circle cx="123.4" cy="690.6" r="1.85" fill="#000" stroke="none" stroke-width="0.6"/>
<text x="20.2" y="674" font-size="6.5" text-anchor="middle" transform="rotate(-90 20.2 674)">Mucus growth rate [µm/min]</text>
<text x="31" y="726.6" font-size="6.6" text-anchor="end">Acetate</text>
<text x="21.5" y="733.2" font-size="6.6" text-anchor="middle">[mM]</text>
<text x="42" y="726.6" font-size="6.4" text-anchor="middle" font-weight="bold">-</text>
<text x="57.3" y="726.6" font-size="6.4" text-anchor="middle" font-weight="bold">0.5</text>
<text x="74.9" y="726.6" font-size="6.4" text-anchor="middle" font-weight="bold">-</text>
<text x="90.6" y="726.6" font-size="6.4" text-anchor="middle" font-weight="bold">5</text>
<text x="108.1" y="726.6" font-size="6.4" text-anchor="middle" font-weight="bold">-</text>
<text x="123.4" y="726.6" font-size="6.4" text-anchor="middle" font-weight="bold">50</text>
<line x1="158.2" y1="634.2" x2="158.2" y2="714.4" stroke="#222" stroke-width="0.9"/>
<line x1="154.9" y1="634.2" x2="158.2" y2="634.2" stroke="#222" stroke-width="0.9"/>
<text x="153.9" y="636.98" font-size="6.6" text-anchor="end" font-weight="bold">6</text>
<line x1="154.9" y1="661.3" x2="158.2" y2="661.3" stroke="#222" stroke-width="0.9"/>
<text x="153.9" y="664.08" font-size="6.6" text-anchor="end" font-weight="bold">4</text>
<line x1="154.9" y1="687.6" x2="158.2" y2="687.6" stroke="#222" stroke-width="0.9"/>
<text x="153.9" y="690.38" font-size="6.6" text-anchor="end" font-weight="bold">2</text>
<line x1="154.9" y1="714.4" x2="158.2" y2="714.4" stroke="#222" stroke-width="0.9"/>
<text x="153.9" y="717.18" font-size="6.6" text-anchor="end" font-weight="bold">0</text>
<line x1="155.2" y1="714.4" x2="239.4" y2="714.4" stroke="#222" stroke-width="0.9"/>
<line x1="172.3" y1="714.4" x2="172.3" y2="717.4" stroke="#222" stroke-width="0.9"/>
<line x1="189.7" y1="714.4" x2="189.7" y2="717.4" stroke="#222" stroke-width="0.9"/>
<line x1="207.3" y1="714.4" x2="207.3" y2="717.4" stroke="#222" stroke-width="0.9"/>
<line x1="224.7" y1="714.4" x2="224.7" y2="717.4" stroke="#222" stroke-width="0.9"/>
<rect x="165.4" y="693.5" width="13.9" height="20.9" fill="#fff" stroke="#2a2a2a" stroke-width="0.8"/>
<rect x="182.7" y="692" width="14" height="22.4" fill="#e2e2e2" stroke="#2a2a2a" stroke-width="0.8"/>
<rect x="200" y="691.2" width="14.6" height="23.2" fill="#b3b3b3" stroke="#2a2a2a" stroke-width="0.8"/>
<rect x="217.6" y="668.1" width="14.3" height="46.3" fill="#8b8b8b" stroke="#2a2a2a" stroke-width="0.8"/>
<line x1="172.3" y1="685.2" x2="172.3" y2="700.5" stroke="#222" stroke-width="0.8"/>
<line x1="167.8" y1="685.2" x2="176.8" y2="685.2" stroke="#222" stroke-width="0.8"/>
<line x1="167.8" y1="700.5" x2="176.8" y2="700.5" stroke="#222" stroke-width="0.8"/>
<line x1="189.7" y1="685.6" x2="189.7" y2="698.5" stroke="#222" stroke-width="0.8"/>
<line x1="185.2" y1="685.6" x2="194.2" y2="685.6" stroke="#222" stroke-width="0.8"/>
<line x1="185.2" y1="698.5" x2="194.2" y2="698.5" stroke="#222" stroke-width="0.8"/>
<line x1="207.3" y1="678" x2="207.3" y2="703.5" stroke="#222" stroke-width="0.8"/>
<line x1="202.8" y1="678" x2="211.8" y2="678" stroke="#222" stroke-width="0.8"/>
<line x1="202.8" y1="703.5" x2="211.8" y2="703.5" stroke="#222" stroke-width="0.8"/>
<line x1="224.7" y1="652.4" x2="224.7" y2="683.6" stroke="#222" stroke-width="0.8"/>
<line x1="220.2" y1="652.4" x2="229.2" y2="652.4" stroke="#222" stroke-width="0.8"/>
<line x1="220.2" y1="683.6" x2="229.2" y2="683.6" stroke="#222" stroke-width="0.8"/>
<circle cx="172.37" cy="677.63" r="1.85" fill="#000" stroke="none" stroke-width="0.6"/>
<circle cx="172.37" cy="683.2" r="1.85" fill="#000" stroke="none" stroke-width="0.6"/>
<circle cx="171.18" cy="685.99" r="1.85" fill="#000" stroke="none" stroke-width="0.6"/>
<circle cx="169.79" cy="688.57" r="1.85" fill="#000" stroke="none" stroke-width="0.6"/>
<circle cx="172.77" cy="690.57" r="1.85" fill="#000" stroke="none" stroke-width="0.6"/>
<circle cx="166.8" cy="691.96" r="1.85" fill="#000" stroke="none" stroke-width="0.6"/>
<circle cx="168.79" cy="692.56" r="1.85" fill="#000" stroke="none" stroke-width="0.6"/>
<circle cx="174.36" cy="691.96" r="1.85" fill="#000" stroke="none" stroke-width="0.6"/>
<circle cx="177.15" cy="693.15" r="1.85" fill="#000" stroke="none" stroke-width="0.6"/>
<circle cx="170.78" cy="695.14" r="1.85" fill="#000" stroke="none" stroke-width="0.6"/>
<circle cx="173.77" cy="696.54" r="1.85" fill="#000" stroke="none" stroke-width="0.6"/>
<circle cx="171.78" cy="699.52" r="1.85" fill="#000" stroke="none" stroke-width="0.6"/>
<circle cx="172.77" cy="703.5" r="1.85" fill="#000" stroke="none" stroke-width="0.6"/>
<circle cx="171.18" cy="707.09" r="1.85" fill="#000" stroke="none" stroke-width="0.6"/>
<circle cx="167.79" cy="693.55" r="1.85" fill="#000" stroke="none" stroke-width="0.6"/>
<circle cx="184.71" cy="686.58" r="1.85" fill="#000" stroke="none" stroke-width="0.6"/>
<circle cx="188.3" cy="685.99" r="1.85" fill="#000" stroke="none" stroke-width="0.6"/>
<circle cx="192.68" cy="686.58" r="1.85" fill="#000" stroke="none" stroke-width="0.6"/>
<circle cx="183.72" cy="690.57" r="1.85" fill="#000" stroke="none" stroke-width="0.6"/>
<circle cx="190.68" cy="691.96" r="1.85" fill="#000" stroke="none" stroke-width="0.6"/>
<circle cx="195.66" cy="691.96" r="1.85" fill="#000" stroke="none" stroke-width="0.6"/>
<circle cx="189.69" cy="703.9" r="1.85" fill="#000" stroke="none" stroke-width="0.6"/>
<circle cx="204.22" cy="677.23" r="1.85" fill="#000" stroke="none" stroke-width="0.6"/>
<circle cx="210.19" cy="677.63" r="1.85" fill="#000" stroke="none" stroke-width="0.6"/>
<circle cx="207.21" cy="682.6" r="1.85" fill="#000" stroke="none" stroke-width="0.6"/>
<circle cx="201.63" cy="703.11" r="1.85" fill="#000" stroke="none" stroke-width="0.6"/>
<circle cx="207.01" cy="701.51" r="1.85" fill="#000" stroke="none" stroke-width="0.6"/>
<circle cx="212.58" cy="703.11" r="1.85" fill="#000" stroke="none" stroke-width="0.6"/>
<circle cx="224.52" cy="644.19" r="1.85" fill="#000" stroke="none" stroke-width="0.6"/>
<circle cx="224.52" cy="661.11" r="1.85" fill="#000" stroke="none" stroke-width="0.6"/>
<circle cx="220.54" cy="666.08" r="1.85" fill="#000" stroke="none" stroke-width="0.6"/>
<circle cx="226.91" cy="666.08" r="1.85" fill="#000" stroke="none" stroke-width="0.6"/>
<circle cx="224.52" cy="680.61" r="1.85" fill="#000" stroke="none" stroke-width="0.6"/>
<circle cx="224.52" cy="689.57" r="1.85" fill="#000" stroke="none" stroke-width="0.6"/>
<path d="M172.2 641.8 V634.8 H224.5 V641.8" stroke="#333" stroke-width="0.8" fill="none"/>
<text x="198.35" y="634" font-size="9.5" text-anchor="middle" font-weight="bold">**</text>
<text x="146.5" y="673.6" font-size="6.5" text-anchor="middle" transform="rotate(-90 146.5 673.6)">Mucus growth rate [µm/min]</text>
<text x="163.4" y="725.3" font-size="6.6" text-anchor="end">Acetate</text>
<text x="152" y="732.6" font-size="6.6" text-anchor="middle">[mM]</text>
<text x="172.8" y="725.3" font-size="6.4" text-anchor="middle" font-weight="bold">-</text>
<text x="190.7" y="725.3" font-size="6.4" text-anchor="middle" font-weight="bold">0.5</text>
<text x="207.6" y="725.3" font-size="6.4" text-anchor="middle" font-weight="bold">5</text>
<text x="225.5" y="725.3" font-size="6.4" text-anchor="middle" font-weight="bold">50</text>
<text x="264" y="631" font-size="16" font-weight="bold">L</text>
<line x1="289.8" y1="629.5" x2="289.8" y2="712.5" stroke="#222" stroke-width="0.9"/>
<line x1="286.5" y1="629.5" x2="289.8" y2="629.5" stroke="#222" stroke-width="0.9"/>
<text x="285.5" y="632.28" font-size="6.6" text-anchor="end" font-weight="bold">25</text>
<line x1="286.5" y1="645.8" x2="289.8" y2="645.8" stroke="#222" stroke-width="0.9"/>
<text x="285.5" y="648.58" font-size="6.6" text-anchor="end" font-weight="bold">20</text>
<line x1="286.5" y1="662.7" x2="289.8" y2="662.7" stroke="#222" stroke-width="0.9"/>
<text x="285.5" y="665.48" font-size="6.6" text-anchor="end" font-weight="bold">15</text>
<line x1="286.5" y1="679.2" x2="289.8" y2="679.2" stroke="#222" stroke-width="0.9"/>
<text x="285.5" y="681.98" font-size="6.6" text-anchor="end" font-weight="bold">10</text>
<line x1="286.5" y1="695.9" x2="289.8" y2="695.9" stroke="#222" stroke-width="0.9"/>
<text x="285.5" y="698.68" font-size="6.6" text-anchor="end" font-weight="bold">5</text>
<line x1="286.5" y1="712.5" x2="289.8" y2="712.5" stroke="#222" stroke-width="0.9"/>
<text x="285.5" y="715.28" font-size="6.6" text-anchor="end" font-weight="bold">0</text>
<line x1="289.8" y1="712.5" x2="332" y2="712.5" stroke="#222" stroke-width="0.9"/>
<line x1="301.2" y1="712.5" x2="301.2" y2="715.5" stroke="#222" stroke-width="0.9"/>
<line x1="320.4" y1="712.5" x2="320.4" y2="715.5" stroke="#222" stroke-width="0.9"/>
<rect x="294.7" y="709.1" width="13" height="3.4" fill="#fff" stroke="#2a2a2a" stroke-width="0.8"/>
<rect x="314.2" y="637.8" width="12.4" height="74.7" fill="#fff" stroke="#2a2a2a" stroke-width="0.8"/>
<line x1="320.4" y1="636.3" x2="320.4" y2="639" stroke="#222" stroke-width="0.8"/>
<line x1="316.9" y1="636.3" x2="323.9" y2="636.3" stroke="#222" stroke-width="0.8"/>
<line x1="316.9" y1="639" x2="323.9" y2="639" stroke="#222" stroke-width="0.8"/>
<circle cx="298.7" cy="709.1" r="1.85" fill="#000" stroke="none" stroke-width="0.6"/>
<circle cx="304.1" cy="709.1" r="1.85" fill="#000" stroke="none" stroke-width="0.6"/>
<circle cx="317.2" cy="638.2" r="1.85" fill="#000" stroke="none" stroke-width="0.6"/>
<circle cx="320.2" cy="636.2" r="1.85" fill="#000" stroke="none" stroke-width="0.6"/>
<circle cx="323.2" cy="638.2" r="1.85" fill="#000" stroke="none" stroke-width="0.6"/>
<text x="310.7" y="629" font-size="8" text-anchor="middle">Acetate</text>
<text x="276.8" y="670.7" font-size="6.5" text-anchor="middle" transform="rotate(-90 276.8 670.7)">fold change [peak area]</text>
<text font-size="6.8" text-anchor="middle" transform="translate(301.2 712.5) rotate(-45)"><tspan x="-18" y="3.5">GAM+Fuc</tspan></text>
<text font-size="6.8" text-anchor="middle" transform="translate(320.4 712.5) rotate(-45)"><tspan x="-19.56" y="2">GAM+Fuc</tspan><tspan x="-19.56" y="9">+ <tspan font-style="italic">B. coc</tspan></tspan><tspan x="-19.56" y="16">supernatant</tspan></text>
<line x1="345.9" y1="629.5" x2="345.9" y2="712.5" stroke="#222" stroke-width="0.9"/>
<line x1="342.6" y1="629.5" x2="345.9" y2="629.5" stroke="#222" stroke-width="0.9"/>
<text x="341.6" y="632.28" font-size="6.6" text-anchor="end" font-weight="bold">10</text>
<line x1="342.6" y1="646.2" x2="345.9" y2="646.2" stroke="#222" stroke-width="0.9"/>
<text x="341.6" y="648.98" font-size="6.6" text-anchor="end" font-weight="bold">8</text>
<line x1="342.6" y1="662.7" x2="345.9" y2="662.7" stroke="#222" stroke-width="0.9"/>
<text x="341.6" y="665.48" font-size="6.6" text-anchor="end" font-weight="bold">6</text>
<line x1="342.6" y1="679.2" x2="345.9" y2="679.2" stroke="#222" stroke-width="0.9"/>
<text x="341.6" y="681.98" font-size="6.6" text-anchor="end" font-weight="bold">4</text>
<line x1="342.6" y1="695.9" x2="345.9" y2="695.9" stroke="#222" stroke-width="0.9"/>
<text x="341.6" y="698.68" font-size="6.6" text-anchor="end" font-weight="bold">2</text>
<line x1="342.6" y1="712.5" x2="345.9" y2="712.5" stroke="#222" stroke-width="0.9"/>
<text x="341.6" y="715.28" font-size="6.6" text-anchor="end" font-weight="bold">0</text>
<line x1="345.9" y1="712.5" x2="386.7" y2="712.5" stroke="#222" stroke-width="0.9"/>
<line x1="356.8" y1="712.5" x2="356.8" y2="715.5" stroke="#222" stroke-width="0.9"/>
<line x1="376.3" y1="712.5" x2="376.3" y2="715.5" stroke="#222" stroke-width="0.9"/>
<rect x="350.3" y="704.1" width="13.1" height="8.4" fill="#fff" stroke="#2a2a2a" stroke-width="0.8"/>
<rect x="369.8" y="636.4" width="12.9" height="76.1" fill="#fff" stroke="#2a2a2a" stroke-width="0.8"/>
<line x1="356.8" y1="702.1" x2="356.8" y2="706.1" stroke="#222" stroke-width="0.8"/>
<line x1="353.3" y1="702.1" x2="360.3" y2="702.1" stroke="#222" stroke-width="0.8"/>
<line x1="353.3" y1="706.1" x2="360.3" y2="706.1" stroke="#222" stroke-width="0.8"/>
<line x1="376.3" y1="635.4" x2="376.3" y2="637.4" stroke="#222" stroke-width="0.8"/>
<line x1="372.8" y1="635.4" x2="379.8" y2="635.4" stroke="#222" stroke-width="0.8"/>
<line x1="372.8" y1="637.4" x2="379.8" y2="637.4" stroke="#222" stroke-width="0.8"/>
<circle cx="356.8" cy="703" r="1.85" fill="#000" stroke="none" stroke-width="0.6"/>
<circle cx="356.8" cy="705.5" r="1.85" fill="#000" stroke="none" stroke-width="0.6"/>
<circle cx="374" cy="636.4" r="1.85" fill="#000" stroke="none" stroke-width="0.6"/>
<circle cx="376.3" cy="636.4" r="1.85" fill="#000" stroke="none" stroke-width="0.6"/>
<circle cx="378.5" cy="636.4" r="1.85" fill="#000" stroke="none" stroke-width="0.6"/>
<text x="367.4" y="629" font-size="8" text-anchor="middle">Propionate</text>
<text font-size="6.8" text-anchor="middle" transform="translate(356.8 712.5) rotate(-45)"><tspan x="-18" y="3.5">GAM+Fuc</tspan></text>
<text font-size="6.8" text-anchor="middle" transform="translate(376.3 712.5) rotate(-45)"><tspan x="-19.56" y="2">GAM+Fuc</tspan><tspan x="-19.56" y="9">+ <tspan font-style="italic">B. coc</tspan></tspan><tspan x="-19.56" y="16">supernatant</tspan></text>
<text x="409.6" y="632.9" font-size="16" font-weight="bold">M</text>
<line x1="448.8" y1="628.3" x2="448.8" y2="713.1" stroke="#222" stroke-width="0.9"/>
<line x1="445.5" y1="628.3" x2="448.8" y2="628.3" stroke="#222" stroke-width="0.9"/>
<text x="444.5" y="631.08" font-size="6.6" text-anchor="end" font-weight="bold">4</text>
<line x1="445.5" y1="649.4" x2="448.8" y2="649.4" stroke="#222" stroke-width="0.9"/>
<text x="444.5" y="652.18" font-size="6.6" text-anchor="end" font-weight="bold">3</text>
<line x1="445.5" y1="670.7" x2="448.8" y2="670.7" stroke="#222" stroke-width="0.9"/>
<text x="444.5" y="673.48" font-size="6.6" text-anchor="end" font-weight="bold">2</text>
<line x1="445.5" y1="691.6" x2="448.8" y2="691.6" stroke="#222" stroke-width="0.9"/>
<text x="444.5" y="694.38" font-size="6.6" text-anchor="end" font-weight="bold">1</text>
<line x1="445.5" y1="713.1" x2="448.8" y2="713.1" stroke="#222" stroke-width="0.9"/>
<text x="444.5" y="715.88" font-size="6.6" text-anchor="end" font-weight="bold">0</text>
<line x1="445.8" y1="713.1" x2="508.7" y2="713.1" stroke="#222" stroke-width="0.9"/>
<line x1="459.3" y1="713.1" x2="459.3" y2="716.1" stroke="#222" stroke-width="0.9"/>
<line x1="472.2" y1="713.1" x2="472.2" y2="716.1" stroke="#222" stroke-width="0.9"/>
<line x1="490.2" y1="713.1" x2="490.2" y2="716.1" stroke="#222" stroke-width="0.9"/>
<line x1="503.3" y1="713.1" x2="503.3" y2="716.1" stroke="#222" stroke-width="0.9"/>
<line x1="481.4" y1="628.3" x2="481.4" y2="713.1" stroke="#9a9a9a" stroke-width="0.7" stroke-dasharray="3.5 1.5"/>
<line x1="459.3" y1="643.4" x2="472.2" y2="682.6" stroke="#111" stroke-width="0.75"/>
<line x1="459.3" y1="654.1" x2="472.2" y2="680.2" stroke="#111" stroke-width="0.75"/>
<line x1="459.3" y1="662.7" x2="472.2" y2="687" stroke="#111" stroke-width="0.75"/>
<line x1="459.3" y1="664.7" x2="472.2" y2="691.6" stroke="#111" stroke-width="0.75"/>
<line x1="459.3" y1="670.7" x2="472.2" y2="669.1" stroke="#111" stroke-width="0.75"/>
<circle cx="459.3" cy="643.4" r="1.85" fill="#000" stroke="none" stroke-width="0.6"/>
<circle cx="472.2" cy="682.6" r="1.85" fill="#000" stroke="none" stroke-width="0.6"/>
<circle cx="459.3" cy="654.1" r="1.85" fill="#000" stroke="none" stroke-width="0.6"/>
<circle cx="472.2" cy="680.2" r="1.85" fill="#000" stroke="none" stroke-width="0.6"/>
<circle cx="459.3" cy="662.7" r="1.85" fill="#000" stroke="none" stroke-width="0.6"/>
<circle cx="472.2" cy="687" r="1.85" fill="#000" stroke="none" stroke-width="0.6"/>
<circle cx="459.3" cy="664.7" r="1.85" fill="#000" stroke="none" stroke-width="0.6"/>
<circle cx="472.2" cy="691.6" r="1.85" fill="#000" stroke="none" stroke-width="0.6"/>
<circle cx="459.3" cy="670.7" r="1.85" fill="#000" stroke="none" stroke-width="0.6"/>
<circle cx="472.2" cy="669.1" r="1.85" fill="#000" stroke="none" stroke-width="0.6"/>
<line x1="490.2" y1="661.3" x2="503.3" y2="686" stroke="#111" stroke-width="0.75"/>
<line x1="490.2" y1="664.7" x2="503.3" y2="687.6" stroke="#111" stroke-width="0.75"/>
<line x1="490.2" y1="673.6" x2="503.3" y2="696.5" stroke="#111" stroke-width="0.75"/>
<line x1="490.2" y1="675.2" x2="503.3" y2="685" stroke="#111" stroke-width="0.75"/>
<circle cx="490.2" cy="661.3" r="1.85" fill="#000" stroke="none" stroke-width="0.6"/>
<circle cx="503.3" cy="686" r="1.85" fill="#000" stroke="none" stroke-width="0.6"/>
<circle cx="490.2" cy="664.7" r="1.85" fill="#000" stroke="none" stroke-width="0.6"/>
<circle cx="503.3" cy="687.6" r="1.85" fill="#000" stroke="none" stroke-width="0.6"/>
<circle cx="490.2" cy="673.6" r="1.85" fill="#000" stroke="none" stroke-width="0.6"/>
<circle cx="503.3" cy="696.5" r="1.85" fill="#000" stroke="none" stroke-width="0.6"/>
<circle cx="490.2" cy="675.2" r="1.85" fill="#000" stroke="none" stroke-width="0.6"/>
<circle cx="503.3" cy="685" r="1.85" fill="#000" stroke="none" stroke-width="0.6"/>
<path d="M459.3 635.2 V632.2 H473.8 V635.2" stroke="#333" stroke-width="0.8" fill="none"/>
<text x="466.55" y="632.8" font-size="9.5" text-anchor="middle" font-weight="bold">*</text>
<path d="M490.2 635.2 V632.2 H505.2 V635.2" stroke="#333" stroke-width="0.8" fill="none"/>
<text x="497.7" y="632.8" font-size="9.5" text-anchor="middle" font-weight="bold">**</text>
<text x="438.8" y="669.7" font-size="6.5" text-anchor="middle" transform="rotate(-90 438.8 669.7)">Mucus growth rate [µm/min]</text>
<text x="454.6" y="722.8" font-size="7" text-anchor="end">Acetate [mM]</text>
<text x="454.6" y="730.2" font-size="7" text-anchor="end">Propionate [mM]</text>
<text x="454.6" y="738.6" font-size="7" text-anchor="end">Ffar2 Inhibitor [nM]</text>
<text x="459.3" y="722.8" font-size="6.6" text-anchor="middle" font-weight="bold">50</text>
<text x="472.2" y="722.8" font-size="6.6" text-anchor="middle" font-weight="bold">50</text>
<text x="490.2" y="722.8" font-size="6.6" text-anchor="middle" font-weight="bold">-</text>
<text x="503.3" y="722.8" font-size="6.6" text-anchor="middle" font-weight="bold">-</text>
<text x="459.3" y="730.6" font-size="6.6" text-anchor="middle" font-weight="bold">-</text>
<text x="472.2" y="730.6" font-size="6.6" text-anchor="middle" font-weight="bold">-</text>
<text x="490.2" y="730.6" font-size="6.6" text-anchor="middle" font-weight="bold">5</text>
<text x="503.3" y="730.6" font-size="6.6" text-anchor="middle" font-weight="bold">5</text>
<text x="459.3" y="738.6" font-size="6.6" text-anchor="middle" font-weight="bold">-</text>
<text x="472.2" y="738.6" font-size="6.6" text-anchor="middle" font-weight="bold">500</text>
<text x="490.2" y="738.6" font-size="6.6" text-anchor="middle" font-weight="bold">-</text>
<text x="503.3" y="738.6" font-size="6.6" text-anchor="middle" font-weight="bold">500</text>
<text x="520.6" y="632.9" font-size="16" font-weight="bold">N</text>
<line x1="556.1" y1="631.8" x2="556.1" y2="713.9" stroke="#222" stroke-width="0.9"/>
<line x1="552.8" y1="631.8" x2="556.1" y2="631.8" stroke="#222" stroke-width="0.9"/>
<text x="551.8" y="634.58" font-size="6.6" text-anchor="end" font-weight="bold">2.5</text>
<line x1="552.8" y1="648.3" x2="556.1" y2="648.3" stroke="#222" stroke-width="0.9"/>
<text x="551.8" y="651.08" font-size="6.6" text-anchor="end" font-weight="bold">2.0</text>
<line x1="552.8" y1="664.6" x2="556.1" y2="664.6" stroke="#222" stroke-width="0.9"/>
<text x="551.8" y="667.38" font-size="6.6" text-anchor="end" font-weight="bold">1.5</text>
<line x1="552.8" y1="681.1" x2="556.1" y2="681.1" stroke="#222" stroke-width="0.9"/>
<text x="551.8" y="683.88" font-size="6.6" text-anchor="end" font-weight="bold">1.0</text>
<line x1="552.8" y1="697.4" x2="556.1" y2="697.4" stroke="#222" stroke-width="0.9"/>
<text x="551.8" y="700.18" font-size="6.6" text-anchor="end" font-weight="bold">0.5</text>
<line x1="552.8" y1="713.9" x2="556.1" y2="713.9" stroke="#222" stroke-width="0.9"/>
<text x="551.8" y="716.68" font-size="6.6" text-anchor="end" font-weight="bold">0.0</text>
<line x1="556.1" y1="713.9" x2="597.2" y2="713.9" stroke="#222" stroke-width="0.9"/>
<line x1="569.2" y1="713.9" x2="569.2" y2="716.9" stroke="#222" stroke-width="0.9"/>
<line x1="589.3" y1="713.9" x2="589.3" y2="716.9" stroke="#222" stroke-width="0.9"/>
<line x1="569.2" y1="672" x2="589.3" y2="651.2" stroke="#111" stroke-width="0.75"/>
<line x1="569.2" y1="678.7" x2="589.3" y2="652.9" stroke="#111" stroke-width="0.75"/>
<line x1="569.2" y1="680.4" x2="589.3" y2="661.8" stroke="#111" stroke-width="0.75"/>
<line x1="569.2" y1="683.2" x2="589.3" y2="639.2" stroke="#111" stroke-width="0.75"/>
<line x1="569.2" y1="696.7" x2="589.3" y2="652.9" stroke="#111" stroke-width="0.75"/>
<line x1="569.2" y1="703.3" x2="589.3" y2="669.9" stroke="#111" stroke-width="0.75"/>
<circle cx="569.2" cy="672" r="1.85" fill="#000" stroke="none" stroke-width="0.6"/>
<circle cx="589.3" cy="651.2" r="1.85" fill="#000" stroke="none" stroke-width="0.6"/>
<circle cx="569.2" cy="678.7" r="1.85" fill="#000" stroke="none" stroke-width="0.6"/>
<circle cx="589.3" cy="652.9" r="1.85" fill="#000" stroke="none" stroke-width="0.6"/>
<circle cx="569.2" cy="680.4" r="1.85" fill="#000" stroke="none" stroke-width="0.6"/>
<circle cx="589.3" cy="661.8" r="1.85" fill="#000" stroke="none" stroke-width="0.6"/>
<circle cx="569.2" cy="683.2" r="1.85" fill="#000" stroke="none" stroke-width="0.6"/>
<circle cx="589.3" cy="639.2" r="1.85" fill="#000" stroke="none" stroke-width="0.6"/>
<circle cx="569.2" cy="696.7" r="1.85" fill="#000" stroke="none" stroke-width="0.6"/>
<circle cx="589.3" cy="652.9" r="1.85" fill="#000" stroke="none" stroke-width="0.6"/>
<circle cx="569.2" cy="703.3" r="1.85" fill="#000" stroke="none" stroke-width="0.6"/>
<circle cx="589.3" cy="669.9" r="1.85" fill="#000" stroke="none" stroke-width="0.6"/>
<line x1="568.2" y1="633.9" x2="590.4" y2="633.9" stroke="#444" stroke-width="0.8"/>
<text x="579.3" y="633.6" font-size="9.5" text-anchor="middle" font-weight="bold">**</text>
<text x="540" y="670.7" font-size="6.5" text-anchor="middle" transform="rotate(-90 540 670.7)">Mucus growth rate [µm/min]</text>
<text x="564.6" y="722.8" font-size="7" text-anchor="end">Ffar2 Agonist</text>
<text x="544.5" y="728.8" font-size="7" text-anchor="middle">[µM]</text>
<text x="569.6" y="724.6" font-size="6.6" text-anchor="middle" font-weight="bold">-</text>
<text x="589.3" y="724.9" font-size="6.6" text-anchor="middle" font-weight="bold">1</text>
<text x="601.4" y="634" font-size="16" font-weight="bold">O</text>
<line x1="634.2" y1="630.7" x2="634.2" y2="711.6" stroke="#222" stroke-width="0.9"/>
<line x1="630.9" y1="630.7" x2="634.2" y2="630.7" stroke="#222" stroke-width="0.9"/>
<text x="629.9" y="633.48" font-size="6.6" text-anchor="end" font-weight="bold">4</text>
<line x1="630.9" y1="651.2" x2="634.2" y2="651.2" stroke="#222" stroke-width="0.9"/>
<text x="629.9" y="653.98" font-size="6.6" text-anchor="end" font-weight="bold">3</text>
<line x1="630.9" y1="671.5" x2="634.2" y2="671.5" stroke="#222" stroke-width="0.9"/>
<text x="629.9" y="674.28" font-size="6.6" text-anchor="end" font-weight="bold">2</text>
<line x1="630.9" y1="691.4" x2="634.2" y2="691.4" stroke="#222" stroke-width="0.9"/>
<text x="629.9" y="694.18" font-size="6.6" text-anchor="end" font-weight="bold">1</text>
<line x1="630.9" y1="711.6" x2="634.2" y2="711.6" stroke="#222" stroke-width="0.9"/>
<text x="629.9" y="714.38" font-size="6.6" text-anchor="end" font-weight="bold">0</text>
<line x1="634.2" y1="711.6" x2="678.7" y2="711.6" stroke="#222" stroke-width="0.9"/>
<line x1="645.4" y1="711.6" x2="645.4" y2="714.6" stroke="#222" stroke-width="0.9"/>
<line x1="668.7" y1="711.6" x2="668.7" y2="714.6" stroke="#222" stroke-width="0.9"/>
<line x1="645.4" y1="639.8" x2="668.7" y2="694.2" stroke="#111" stroke-width="0.75"/>
<line x1="645.4" y1="657.2" x2="668.7" y2="672" stroke="#111" stroke-width="0.75"/>
<line x1="645.4" y1="674.5" x2="668.7" y2="686.4" stroke="#111" stroke-width="0.75"/>
<line x1="645.4" y1="681.1" x2="668.7" y2="692.1" stroke="#111" stroke-width="0.75"/>
<line x1="645.4" y1="683.2" x2="668.7" y2="696.3" stroke="#111" stroke-width="0.75"/>
<circle cx="645.4" cy="639.8" r="1.85" fill="#000" stroke="none" stroke-width="0.6"/>
<circle cx="668.7" cy="694.2" r="1.85" fill="#000" stroke="none" stroke-width="0.6"/>
<circle cx="645.4" cy="657.2" r="1.85" fill="#000" stroke="none" stroke-width="0.6"/>
<circle cx="668.7" cy="672" r="1.85" fill="#000" stroke="none" stroke-width="0.6"/>
<circle cx="645.4" cy="674.5" r="1.85" fill="#000" stroke="none" stroke-width="0.6"/>
<circle cx="668.7" cy="686.4" r="1.85" fill="#000" stroke="none" stroke-width="0.6"/>
<circle cx="645.4" cy="681.1" r="1.85" fill="#000" stroke="none" stroke-width="0.6"/>
<circle cx="668.7" cy="692.1" r="1.85" fill="#000" stroke="none" stroke-width="0.6"/>
<circle cx="645.4" cy="683.2" r="1.85" fill="#000" stroke="none" stroke-width="0.6"/>
<circle cx="668.7" cy="696.3" r="1.85" fill="#000" stroke="none" stroke-width="0.6"/>
<line x1="645.4" y1="630.7" x2="669.1" y2="630.7" stroke="#444" stroke-width="0.8"/>
<text x="657.25" y="632" font-size="9.5" text-anchor="middle" font-weight="bold">*</text>
<text x="621.3" y="671" font-size="6.5" text-anchor="middle" transform="rotate(-90 621.3 671)">Mucus growth rate [µm/min]</text>
<text font-size="6.9" text-anchor="middle" transform="translate(645.4 711.6) rotate(-45)"><tspan x="-14.12" y="1.6"><tspan font-style="italic">B. coc</tspan></tspan><tspan x="-14.12" y="8.6">supernatant</tspan></text>
<text font-size="6.9" text-anchor="middle" transform="translate(668.7 711.6) rotate(-45)"><tspan x="-16.16" y="2.8"><tspan font-style="italic">B. coc</tspan></tspan><tspan x="-16.16" y="9.8">supernatant</tspan><tspan x="-16.16" y="16.8">+ Ffar2 inhibitor</tspan><tspan x="-16.16" y="23.8">(500 nM)</tspan></text>
</svg>
</body></html>
